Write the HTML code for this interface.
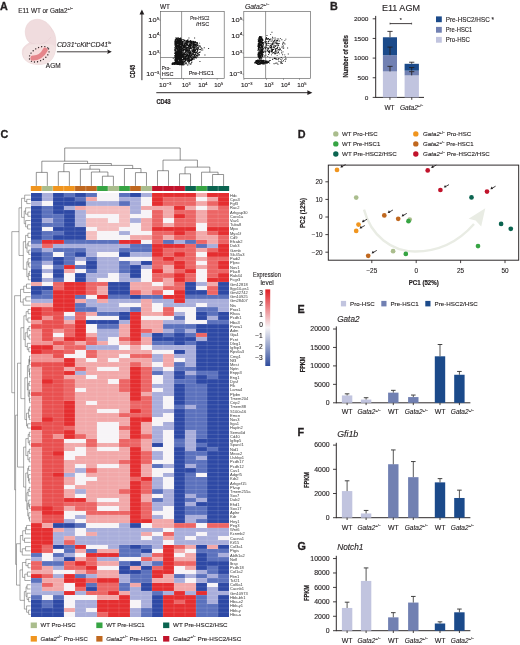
<!DOCTYPE html>
<html><head><meta charset="utf-8"><title>Figure</title>
<style>html,body{margin:0;padding:0;background:#fff;}body{width:520px;height:645px;overflow:hidden;font-family:"Liberation Sans",sans-serif;}svg{display:block;will-change:transform;filter:blur(0.3px);}</style>
</head><body>
<svg width="520" height="645" viewBox="0 0 520 645" font-family='"Liberation Sans", sans-serif'><text x="0.10" y="10.10" font-size="10.8" font-weight="bold" fill="#231f20" stroke="#231f20" stroke-width="0.3">A</text>
<text x="18.20" y="12.60" font-size="6.4" fill="#231f20" textLength="54.80" lengthAdjust="spacingAndGlyphs" stroke="#231f20" stroke-width="0.12">E11 WT or Gata2<tspan font-size="3.8" dy="-2.7">+/−</tspan></text>
<path d="M37.4,19.3 C41.5,19.2 45.5,21.5 48.7,25.3 C52.5,29 55,33 55.6,38 C56.2,43 56,48 55.2,51.5 C54.3,55.5 52.5,59 50,61.2 C47,63.6 42,64.8 37.4,64.5 C33,64.3 28,63 24.8,59.5 C22.2,56.5 21.6,51.5 23,48.5 C24.2,46 27,44.5 29.8,42.4 C27.6,41.4 26,38 25.4,34.2 C24.8,30 26,25.5 28.5,22.9 C30.8,20.5 34,19.3 37.4,19.3 Z" fill="#f0dcde" stroke="#ead2d4" stroke-width="0.6"/>
<path d="M29.8,42.4 C33,44.5 38,45 42,43.6 C46,42.2 49,40 51,37" fill="none" stroke="#e8cfd1" stroke-width="0.6"/>
<path d="M24.2,50 C25.5,46.8 28.5,45 31.5,44.6 C36,44 42,44.5 46.5,44 C50.5,43.6 53.5,44.5 55.3,47 C55.6,52 54,57 50.5,60.8 C47,63.6 42,64.6 37.4,64.4 C32.5,64.2 27.8,62.6 25,59.4 C23,57 22.8,52.8 24.2,50 Z" fill="#f3e3e3"/>
<path d="M44.5,21.2 C48.5,23 51.2,27 52.2,31.5" fill="none" stroke="#e8d0d2" stroke-width="0.5"/>
<ellipse cx="39.2" cy="54.3" rx="10.8" ry="6.4" transform="rotate(-30 39.2 54.3)" fill="#f7dcdc" stroke="#2e2224" stroke-width="1.35" stroke-dasharray="0.01 3.1" stroke-linecap="round"/>
<path d="M32.9,58.0 C37.5,58.2 42.5,55.4 45.2,50.2" fill="none" stroke="#e5858a" stroke-width="5.0" stroke-linecap="round"/>
<text x="45.80" y="68.30" font-size="6.6" fill="#231f20" textLength="14.80" lengthAdjust="spacingAndGlyphs" stroke="#231f20" stroke-width="0.12">AGM</text>
<text x="56.90" y="46.70" font-size="6.6" font-style="italic" fill="#231f20" textLength="54.40" lengthAdjust="spacingAndGlyphs" stroke="#231f20" stroke-width="0.12">CD31<tspan font-size="3.8" dy="-2.6">+</tspan><tspan dy="2.6">cKit</tspan><tspan font-size="3.8" dy="-2.6">+</tspan><tspan dy="2.6">CD41</tspan><tspan font-size="3.8" dy="-2.6">lo</tspan></text>
<line x1="56.90" y1="51.80" x2="108.50" y2="51.80" stroke="#231f20" stroke-width="0.85"/>
<path d="M111.8,51.8 L107.2,49.6 L108.0,51.8 L107.2,54.0 Z" fill="#231f20"/>
<line x1="141.90" y1="80.20" x2="141.90" y2="13.50" stroke="#231f20" stroke-width="0.95"/>
<path d="M141.9,9.6 L139.5,14.6 L144.3,14.6 Z" fill="#231f20"/>
<line x1="156.30" y1="92.70" x2="308.50" y2="92.70" stroke="#231f20" stroke-width="0.95"/>
<path d="M312.4,92.7 L307.4,90.3 L307.4,95.1 Z" fill="#231f20"/>
<text transform="translate(135.40,78.00) rotate(-90)" x="0" y="0" font-size="7.2" font-weight="bold" stroke="#231f20" stroke-width="0.22" fill="#231f20" textLength="13.20" lengthAdjust="spacingAndGlyphs">CD45</text>
<text x="156.40" y="103.50" font-size="7.2" font-weight="bold" fill="#231f20" textLength="14.30" lengthAdjust="spacingAndGlyphs" stroke="#231f20" stroke-width="0.22">CD43</text>
<rect x="160.5" y="11.5" width="63.70" height="66.90" fill="none" stroke="#5e5e5e" stroke-width="0.65"/>
<line x1="181.60" y1="11.50" x2="181.60" y2="78.40" stroke="#5e5e5e" stroke-width="0.65"/>
<line x1="160.50" y1="57.50" x2="224.20" y2="57.50" stroke="#5e5e5e" stroke-width="0.65"/>
<rect x="243.8" y="11.4" width="66.60" height="67.00" fill="none" stroke="#5e5e5e" stroke-width="0.65"/>
<line x1="265.60" y1="11.40" x2="265.60" y2="78.40" stroke="#5e5e5e" stroke-width="0.65"/>
<line x1="243.80" y1="57.40" x2="310.40" y2="57.40" stroke="#5e5e5e" stroke-width="0.65"/>
<text x="159.90" y="9.00" font-size="6.3" fill="#231f20" textLength="10.00" lengthAdjust="spacingAndGlyphs" stroke="#231f20" stroke-width="0.12">WT</text>
<text x="244.90" y="9.00" font-size="6.3" font-style="italic" fill="#231f20" textLength="24.30" lengthAdjust="spacingAndGlyphs" stroke="#231f20" stroke-width="0.12">Gata2<tspan font-size="3.6" dy="-2.6">+/−</tspan></text>
<text x="148.30" y="22.40" font-size="6.0" fill="#231f20" textLength="11.00" lengthAdjust="spacingAndGlyphs" stroke="#231f20" stroke-width="0.12">10<tspan font-size="3.8" dy="-2.5">5</tspan></text>
<line x1="159.20" y1="20.20" x2="160.50" y2="20.20" stroke="#5e5e5e" stroke-width="0.55"/>
<text x="148.30" y="37.50" font-size="6.0" fill="#231f20" textLength="11.00" lengthAdjust="spacingAndGlyphs" stroke="#231f20" stroke-width="0.12">10<tspan font-size="3.8" dy="-2.5">4</tspan></text>
<line x1="159.20" y1="35.30" x2="160.50" y2="35.30" stroke="#5e5e5e" stroke-width="0.55"/>
<text x="148.30" y="55.30" font-size="6.0" fill="#231f20" textLength="11.00" lengthAdjust="spacingAndGlyphs" stroke="#231f20" stroke-width="0.12">10<tspan font-size="3.8" dy="-2.5">3</tspan></text>
<line x1="159.20" y1="53.10" x2="160.50" y2="53.10" stroke="#5e5e5e" stroke-width="0.55"/>
<text x="146.30" y="76.40" font-size="6.0" fill="#231f20" textLength="13.00" lengthAdjust="spacingAndGlyphs" stroke="#231f20" stroke-width="0.12">10<tspan font-size="3.8" dy="-2.5">−3</tspan></text>
<line x1="159.20" y1="74.20" x2="160.50" y2="74.20" stroke="#5e5e5e" stroke-width="0.55"/>
<text x="231.30" y="22.40" font-size="6.0" fill="#231f20" textLength="11.00" lengthAdjust="spacingAndGlyphs" stroke="#231f20" stroke-width="0.12">10<tspan font-size="3.8" dy="-2.5">5</tspan></text>
<line x1="242.50" y1="20.20" x2="243.80" y2="20.20" stroke="#5e5e5e" stroke-width="0.55"/>
<text x="231.30" y="37.50" font-size="6.0" fill="#231f20" textLength="11.00" lengthAdjust="spacingAndGlyphs" stroke="#231f20" stroke-width="0.12">10<tspan font-size="3.8" dy="-2.5">4</tspan></text>
<line x1="242.50" y1="35.30" x2="243.80" y2="35.30" stroke="#5e5e5e" stroke-width="0.55"/>
<text x="231.30" y="55.30" font-size="6.0" fill="#231f20" textLength="11.00" lengthAdjust="spacingAndGlyphs" stroke="#231f20" stroke-width="0.12">10<tspan font-size="3.8" dy="-2.5">3</tspan></text>
<line x1="242.50" y1="53.10" x2="243.80" y2="53.10" stroke="#5e5e5e" stroke-width="0.55"/>
<text x="229.30" y="76.40" font-size="6.0" fill="#231f20" textLength="13.00" lengthAdjust="spacingAndGlyphs" stroke="#231f20" stroke-width="0.12">10<tspan font-size="3.8" dy="-2.5">−3</tspan></text>
<line x1="242.50" y1="74.20" x2="243.80" y2="74.20" stroke="#5e5e5e" stroke-width="0.55"/>
<text x="159.10" y="87.40" font-size="6.0" fill="#231f20" textLength="12.30" lengthAdjust="spacingAndGlyphs" stroke="#231f20" stroke-width="0.12">10<tspan font-size="3.8" dy="-2.5">−3</tspan></text>
<text x="181.90" y="87.40" font-size="6.0" fill="#231f20" textLength="8.60" lengthAdjust="spacingAndGlyphs" stroke="#231f20" stroke-width="0.12">10<tspan font-size="3.8" dy="-2.5">3</tspan></text>
<text x="198.20" y="87.40" font-size="6.0" fill="#231f20" textLength="9.20" lengthAdjust="spacingAndGlyphs" stroke="#231f20" stroke-width="0.12">10<tspan font-size="3.8" dy="-2.5">4</tspan></text>
<text x="214.20" y="87.40" font-size="6.0" fill="#231f20" textLength="8.80" lengthAdjust="spacingAndGlyphs" stroke="#231f20" stroke-width="0.12">10<tspan font-size="3.8" dy="-2.5">5</tspan></text>
<line x1="162.40" y1="78.40" x2="162.40" y2="79.90" stroke="#5e5e5e" stroke-width="0.55"/>
<line x1="183.50" y1="78.40" x2="183.50" y2="79.90" stroke="#5e5e5e" stroke-width="0.55"/>
<line x1="201.40" y1="78.40" x2="201.40" y2="79.90" stroke="#5e5e5e" stroke-width="0.55"/>
<line x1="217.20" y1="78.40" x2="217.20" y2="79.90" stroke="#5e5e5e" stroke-width="0.55"/>
<text x="241.00" y="87.30" font-size="6.0" fill="#231f20" textLength="11.60" lengthAdjust="spacingAndGlyphs" stroke="#231f20" stroke-width="0.12">10<tspan font-size="3.8" dy="-2.5">−3</tspan></text>
<text x="264.20" y="87.30" font-size="6.0" fill="#231f20" textLength="9.40" lengthAdjust="spacingAndGlyphs" stroke="#231f20" stroke-width="0.12">10<tspan font-size="3.8" dy="-2.5">3</tspan></text>
<text x="281.00" y="87.30" font-size="6.0" fill="#231f20" textLength="8.80" lengthAdjust="spacingAndGlyphs" stroke="#231f20" stroke-width="0.12">10<tspan font-size="3.8" dy="-2.5">4</tspan></text>
<text x="297.20" y="87.30" font-size="6.0" fill="#231f20" textLength="9.20" lengthAdjust="spacingAndGlyphs" stroke="#231f20" stroke-width="0.12">10<tspan font-size="3.8" dy="-2.5">5</tspan></text>
<line x1="243.90" y1="78.40" x2="243.90" y2="79.90" stroke="#5e5e5e" stroke-width="0.55"/>
<line x1="266.50" y1="78.40" x2="266.50" y2="79.90" stroke="#5e5e5e" stroke-width="0.55"/>
<line x1="283.50" y1="78.40" x2="283.50" y2="79.90" stroke="#5e5e5e" stroke-width="0.55"/>
<line x1="299.50" y1="78.40" x2="299.50" y2="79.90" stroke="#5e5e5e" stroke-width="0.55"/>
<text x="190.20" y="19.50" font-size="5.5" fill="#231f20" textLength="19.20" lengthAdjust="spacingAndGlyphs" stroke="#231f20" stroke-width="0.12">Pre-HSC2</text>
<text x="196.10" y="25.60" font-size="5.5" fill="#231f20" textLength="13.10" lengthAdjust="spacingAndGlyphs" stroke="#231f20" stroke-width="0.12">/HSC</text>
<text x="161.80" y="70.20" font-size="5.5" fill="#231f20" textLength="8.70" lengthAdjust="spacingAndGlyphs" stroke="#231f20" stroke-width="0.12">Pro-</text>
<text x="161.80" y="76.40" font-size="5.5" fill="#231f20" textLength="11.80" lengthAdjust="spacingAndGlyphs" stroke="#231f20" stroke-width="0.12">HSC</text>
<text x="188.70" y="74.50" font-size="5.5" fill="#231f20" textLength="25.10" lengthAdjust="spacingAndGlyphs" stroke="#231f20" stroke-width="0.12">Pre-HSC1</text>
<path d="M175.2,49.5h0.9v0.9h-0.9zM175.3,60.2h0.9v0.9h-0.9zM181.4,52.5h0.9v0.9h-0.9zM179.2,43.9h0.9v0.9h-0.9zM179.3,49.8h0.9v0.9h-0.9zM181.7,42.1h0.9v0.9h-0.9zM176.9,51.8h0.9v0.9h-0.9zM180.8,40.2h0.9v0.9h-0.9zM174.8,59.4h0.9v0.9h-0.9zM179.3,42.1h0.9v0.9h-0.9zM174.5,42.0h0.9v0.9h-0.9zM181.1,54.4h0.9v0.9h-0.9zM178.7,44.7h0.9v0.9h-0.9zM177.7,40.2h0.9v0.9h-0.9zM174.7,52.0h0.9v0.9h-0.9zM180.3,41.8h0.9v0.9h-0.9zM176.4,55.2h0.9v0.9h-0.9zM175.9,44.9h0.9v0.9h-0.9zM181.4,45.5h0.9v0.9h-0.9zM179.9,38.0h0.9v0.9h-0.9zM176.1,58.1h0.9v0.9h-0.9zM179.2,54.3h0.9v0.9h-0.9zM175.3,52.7h0.9v0.9h-0.9zM180.2,59.4h0.9v0.9h-0.9zM176.9,41.1h0.9v0.9h-0.9zM176.1,45.9h0.9v0.9h-0.9zM179.0,41.0h0.9v0.9h-0.9zM178.8,42.8h0.9v0.9h-0.9zM178.4,52.9h0.9v0.9h-0.9zM176.9,40.3h0.9v0.9h-0.9zM181.1,39.9h0.9v0.9h-0.9zM181.5,59.7h0.9v0.9h-0.9zM180.3,54.1h0.9v0.9h-0.9zM174.6,57.0h0.9v0.9h-0.9zM180.0,43.7h0.9v0.9h-0.9zM175.2,46.8h0.9v0.9h-0.9zM178.8,52.1h0.9v0.9h-0.9zM176.9,55.4h0.9v0.9h-0.9zM177.4,50.8h0.9v0.9h-0.9zM178.4,37.7h0.9v0.9h-0.9zM180.2,52.9h0.9v0.9h-0.9zM176.5,53.1h0.9v0.9h-0.9zM177.1,40.8h0.9v0.9h-0.9zM179.9,51.0h0.9v0.9h-0.9zM178.5,38.6h0.9v0.9h-0.9zM179.6,57.1h0.9v0.9h-0.9zM175.0,58.9h0.9v0.9h-0.9zM178.9,48.4h0.9v0.9h-0.9zM175.2,52.4h0.9v0.9h-0.9zM178.0,40.4h0.9v0.9h-0.9zM175.5,37.3h0.9v0.9h-0.9zM178.3,40.0h0.9v0.9h-0.9zM179.6,50.5h0.9v0.9h-0.9zM180.8,56.2h0.9v0.9h-0.9zM177.0,49.7h0.9v0.9h-0.9zM175.9,46.6h0.9v0.9h-0.9zM180.8,59.9h0.9v0.9h-0.9zM181.3,47.2h0.9v0.9h-0.9zM175.4,51.4h0.9v0.9h-0.9zM180.3,59.9h0.9v0.9h-0.9zM181.1,58.8h0.9v0.9h-0.9zM179.3,46.3h0.9v0.9h-0.9zM179.7,45.1h0.9v0.9h-0.9zM175.4,60.4h0.9v0.9h-0.9zM175.5,51.9h0.9v0.9h-0.9zM174.4,46.8h0.9v0.9h-0.9zM181.0,59.8h0.9v0.9h-0.9zM177.8,50.1h0.9v0.9h-0.9zM174.5,57.0h0.9v0.9h-0.9zM177.7,54.9h0.9v0.9h-0.9zM179.2,41.1h0.9v0.9h-0.9zM178.2,58.6h0.9v0.9h-0.9zM175.9,38.7h0.9v0.9h-0.9zM176.8,51.1h0.9v0.9h-0.9zM175.6,51.5h0.9v0.9h-0.9zM176.6,46.7h0.9v0.9h-0.9zM178.9,55.7h0.9v0.9h-0.9zM179.2,48.1h0.9v0.9h-0.9zM179.9,60.6h0.9v0.9h-0.9zM177.3,54.2h0.9v0.9h-0.9zM180.0,38.8h0.9v0.9h-0.9zM176.1,55.1h0.9v0.9h-0.9zM176.4,57.7h0.9v0.9h-0.9zM178.6,44.7h0.9v0.9h-0.9zM177.2,37.6h0.9v0.9h-0.9zM176.3,43.8h0.9v0.9h-0.9zM176.4,46.4h0.9v0.9h-0.9zM178.9,41.5h0.9v0.9h-0.9zM179.6,59.4h0.9v0.9h-0.9zM175.2,59.3h0.9v0.9h-0.9zM179.4,46.6h0.9v0.9h-0.9zM177.9,54.7h0.9v0.9h-0.9zM177.1,46.3h0.9v0.9h-0.9zM180.3,39.3h0.9v0.9h-0.9zM180.3,58.9h0.9v0.9h-0.9zM179.0,40.8h0.9v0.9h-0.9zM181.5,41.7h0.9v0.9h-0.9zM179.1,52.2h0.9v0.9h-0.9zM178.0,46.3h0.9v0.9h-0.9zM177.8,43.5h0.9v0.9h-0.9zM176.6,58.7h0.9v0.9h-0.9zM175.4,60.5h0.9v0.9h-0.9zM179.6,55.1h0.9v0.9h-0.9zM177.8,59.6h0.9v0.9h-0.9zM181.7,59.5h0.9v0.9h-0.9zM175.5,42.7h0.9v0.9h-0.9zM176.9,52.7h0.9v0.9h-0.9zM180.3,46.6h0.9v0.9h-0.9zM176.4,42.6h0.9v0.9h-0.9zM178.6,45.3h0.9v0.9h-0.9zM180.8,52.8h0.9v0.9h-0.9zM175.9,60.0h0.9v0.9h-0.9zM179.4,56.9h0.9v0.9h-0.9zM174.5,44.2h0.9v0.9h-0.9zM178.6,56.7h0.9v0.9h-0.9zM181.7,48.2h0.9v0.9h-0.9zM178.7,54.3h0.9v0.9h-0.9zM179.1,60.0h0.9v0.9h-0.9zM178.1,57.3h0.9v0.9h-0.9zM177.5,58.9h0.9v0.9h-0.9zM180.6,54.8h0.9v0.9h-0.9zM174.9,39.5h0.9v0.9h-0.9zM179.4,44.7h0.9v0.9h-0.9zM177.9,48.7h0.9v0.9h-0.9zM180.9,44.2h0.9v0.9h-0.9zM181.3,41.0h0.9v0.9h-0.9zM176.8,58.1h0.9v0.9h-0.9zM176.0,41.5h0.9v0.9h-0.9zM181.5,55.8h0.9v0.9h-0.9zM178.4,40.6h0.9v0.9h-0.9zM176.6,49.5h0.9v0.9h-0.9zM176.2,51.9h0.9v0.9h-0.9zM180.4,60.5h0.9v0.9h-0.9zM178.7,39.0h0.9v0.9h-0.9zM175.7,56.7h0.9v0.9h-0.9zM178.5,48.1h0.9v0.9h-0.9zM176.5,45.6h0.9v0.9h-0.9zM177.6,52.2h0.9v0.9h-0.9zM174.8,41.8h0.9v0.9h-0.9zM174.8,42.2h0.9v0.9h-0.9zM179.1,46.1h0.9v0.9h-0.9zM176.2,41.3h0.9v0.9h-0.9zM179.6,42.1h0.9v0.9h-0.9zM177.5,46.1h0.9v0.9h-0.9zM176.1,54.1h0.9v0.9h-0.9zM181.1,39.8h0.9v0.9h-0.9zM180.0,54.4h0.9v0.9h-0.9zM176.5,46.0h0.9v0.9h-0.9zM180.7,54.9h0.9v0.9h-0.9zM177.4,41.4h0.9v0.9h-0.9zM180.1,60.3h0.9v0.9h-0.9zM175.2,50.4h0.9v0.9h-0.9zM178.3,45.7h0.9v0.9h-0.9zM177.9,47.2h0.9v0.9h-0.9zM180.6,61.3h0.9v0.9h-0.9zM180.8,42.5h0.9v0.9h-0.9zM176.5,60.9h0.9v0.9h-0.9zM179.6,42.3h0.9v0.9h-0.9zM179.0,43.8h0.9v0.9h-0.9zM180.6,37.8h0.9v0.9h-0.9zM177.6,45.8h0.9v0.9h-0.9zM178.6,52.1h0.9v0.9h-0.9zM178.0,55.7h0.9v0.9h-0.9zM177.5,43.6h0.9v0.9h-0.9zM180.3,42.5h0.9v0.9h-0.9zM176.1,57.3h0.9v0.9h-0.9zM177.1,38.9h0.9v0.9h-0.9zM174.4,44.5h0.9v0.9h-0.9zM178.3,57.1h0.9v0.9h-0.9zM181.1,55.7h0.9v0.9h-0.9zM178.6,46.8h0.9v0.9h-0.9zM174.5,41.3h0.9v0.9h-0.9zM178.6,51.8h0.9v0.9h-0.9zM177.2,39.0h0.9v0.9h-0.9zM174.7,39.6h0.9v0.9h-0.9zM176.3,55.5h0.9v0.9h-0.9zM177.8,38.9h0.9v0.9h-0.9zM178.5,51.5h0.9v0.9h-0.9zM176.3,50.7h0.9v0.9h-0.9zM178.6,49.8h0.9v0.9h-0.9zM176.8,53.0h0.9v0.9h-0.9zM177.6,42.3h0.9v0.9h-0.9zM175.2,44.4h0.9v0.9h-0.9zM174.8,42.7h0.9v0.9h-0.9zM174.5,60.7h0.9v0.9h-0.9zM175.9,51.9h0.9v0.9h-0.9zM177.8,51.7h0.9v0.9h-0.9zM176.2,39.3h0.9v0.9h-0.9zM178.8,47.4h0.9v0.9h-0.9zM178.7,39.7h0.9v0.9h-0.9zM178.9,41.0h0.9v0.9h-0.9zM174.9,54.0h0.9v0.9h-0.9zM177.2,40.1h0.9v0.9h-0.9zM180.8,57.0h0.9v0.9h-0.9zM177.3,56.7h0.9v0.9h-0.9zM174.3,53.2h0.9v0.9h-0.9zM179.0,48.1h0.9v0.9h-0.9zM178.2,43.2h0.9v0.9h-0.9zM177.8,43.3h0.9v0.9h-0.9zM180.8,53.9h0.9v0.9h-0.9zM179.4,47.7h0.9v0.9h-0.9zM179.0,61.2h0.9v0.9h-0.9zM181.4,57.1h0.9v0.9h-0.9zM181.1,44.5h0.9v0.9h-0.9zM176.7,38.1h0.9v0.9h-0.9zM174.4,50.6h0.9v0.9h-0.9zM175.2,42.2h0.9v0.9h-0.9zM180.3,55.8h0.9v0.9h-0.9zM178.3,45.6h0.9v0.9h-0.9zM177.3,53.3h0.9v0.9h-0.9zM175.0,45.9h0.9v0.9h-0.9zM179.4,40.1h0.9v0.9h-0.9zM178.1,42.7h0.9v0.9h-0.9zM176.8,51.3h0.9v0.9h-0.9zM177.4,60.6h0.9v0.9h-0.9zM177.9,57.8h0.9v0.9h-0.9zM176.5,55.4h0.9v0.9h-0.9zM181.3,58.1h0.9v0.9h-0.9zM181.3,42.4h0.9v0.9h-0.9zM179.7,54.2h0.9v0.9h-0.9zM178.6,41.9h0.9v0.9h-0.9zM177.9,54.0h0.9v0.9h-0.9zM179.7,39.2h0.9v0.9h-0.9zM174.8,40.0h0.9v0.9h-0.9zM176.7,42.1h0.9v0.9h-0.9zM180.8,43.1h0.9v0.9h-0.9zM180.7,53.2h0.9v0.9h-0.9zM179.9,45.9h0.9v0.9h-0.9zM181.6,59.5h0.9v0.9h-0.9zM178.2,57.6h0.9v0.9h-0.9zM181.7,44.6h0.9v0.9h-0.9zM181.8,41.6h0.9v0.9h-0.9zM177.2,43.4h0.9v0.9h-0.9zM177.2,49.6h0.9v0.9h-0.9zM178.5,46.6h0.9v0.9h-0.9zM174.5,59.7h0.9v0.9h-0.9zM177.1,45.6h0.9v0.9h-0.9zM176.4,40.3h0.9v0.9h-0.9zM177.5,46.0h0.9v0.9h-0.9zM178.1,57.4h0.9v0.9h-0.9zM178.6,42.9h0.9v0.9h-0.9zM176.2,58.0h0.9v0.9h-0.9zM176.9,55.1h0.9v0.9h-0.9zM179.7,42.9h0.9v0.9h-0.9zM177.3,42.9h0.9v0.9h-0.9zM174.6,47.9h0.9v0.9h-0.9zM174.7,42.0h0.9v0.9h-0.9zM176.2,46.9h0.9v0.9h-0.9zM178.8,52.4h0.9v0.9h-0.9zM178.6,42.4h0.9v0.9h-0.9zM180.8,44.0h0.9v0.9h-0.9zM180.0,58.3h0.9v0.9h-0.9zM177.8,50.9h0.9v0.9h-0.9zM176.2,56.2h0.9v0.9h-0.9zM181.4,43.3h0.9v0.9h-0.9zM179.2,49.2h0.9v0.9h-0.9zM181.4,41.5h0.9v0.9h-0.9zM175.3,56.1h0.9v0.9h-0.9zM174.8,45.1h0.9v0.9h-0.9zM177.7,53.0h0.9v0.9h-0.9zM175.1,54.8h0.9v0.9h-0.9zM177.4,40.9h0.9v0.9h-0.9zM177.2,57.1h0.9v0.9h-0.9zM179.2,40.5h0.9v0.9h-0.9zM180.7,53.2h0.9v0.9h-0.9zM181.6,55.5h0.9v0.9h-0.9zM174.5,60.1h0.9v0.9h-0.9zM175.2,52.9h0.9v0.9h-0.9zM176.5,55.6h0.9v0.9h-0.9zM177.4,52.6h0.9v0.9h-0.9zM178.9,38.6h0.9v0.9h-0.9zM176.4,59.2h0.9v0.9h-0.9zM176.6,45.5h0.9v0.9h-0.9zM175.1,46.8h0.9v0.9h-0.9zM180.7,39.3h0.9v0.9h-0.9zM176.4,55.7h0.9v0.9h-0.9zM178.3,44.8h0.9v0.9h-0.9zM175.4,54.2h0.9v0.9h-0.9zM178.7,42.2h0.9v0.9h-0.9zM179.4,53.2h0.9v0.9h-0.9zM180.5,45.9h0.9v0.9h-0.9zM177.6,54.8h0.9v0.9h-0.9zM177.6,55.5h0.9v0.9h-0.9zM177.3,45.7h0.9v0.9h-0.9zM177.4,54.5h0.9v0.9h-0.9zM179.9,53.2h0.9v0.9h-0.9zM181.2,56.8h0.9v0.9h-0.9zM179.8,58.7h0.9v0.9h-0.9zM178.3,43.1h0.9v0.9h-0.9zM180.5,52.9h0.9v0.9h-0.9zM177.7,40.0h0.9v0.9h-0.9zM178.6,44.5h0.9v0.9h-0.9zM175.6,60.3h0.9v0.9h-0.9zM178.3,43.3h0.9v0.9h-0.9zM181.7,41.2h0.9v0.9h-0.9zM176.2,46.5h0.9v0.9h-0.9zM176.1,47.4h0.9v0.9h-0.9zM174.7,52.8h0.9v0.9h-0.9zM175.6,59.2h0.9v0.9h-0.9zM179.2,41.1h0.9v0.9h-0.9zM175.2,56.8h0.9v0.9h-0.9zM176.2,47.1h0.9v0.9h-0.9zM174.6,40.6h0.9v0.9h-0.9zM180.0,48.8h0.9v0.9h-0.9zM175.9,42.0h0.9v0.9h-0.9zM175.1,53.0h0.9v0.9h-0.9zM181.6,60.7h0.9v0.9h-0.9zM177.7,53.8h0.9v0.9h-0.9zM177.5,40.7h0.9v0.9h-0.9zM177.6,56.0h0.9v0.9h-0.9zM177.1,52.9h0.9v0.9h-0.9zM176.1,44.0h0.9v0.9h-0.9zM181.3,47.7h0.9v0.9h-0.9zM180.2,56.3h0.9v0.9h-0.9zM176.5,61.0h0.9v0.9h-0.9zM177.4,45.4h0.9v0.9h-0.9zM180.7,57.2h0.9v0.9h-0.9zM177.5,38.9h0.9v0.9h-0.9zM177.2,40.8h0.9v0.9h-0.9zM176.4,58.8h0.9v0.9h-0.9zM176.1,48.1h0.9v0.9h-0.9zM175.7,51.7h0.9v0.9h-0.9zM176.6,43.4h0.9v0.9h-0.9zM174.4,43.2h0.9v0.9h-0.9zM179.1,44.4h0.9v0.9h-0.9zM177.5,48.2h0.9v0.9h-0.9zM178.7,45.0h0.9v0.9h-0.9zM176.5,60.0h0.9v0.9h-0.9zM176.2,38.9h0.9v0.9h-0.9zM176.3,41.2h0.9v0.9h-0.9zM181.3,51.5h0.9v0.9h-0.9zM176.4,53.3h0.9v0.9h-0.9zM180.5,42.5h0.9v0.9h-0.9zM177.7,41.3h0.9v0.9h-0.9zM181.0,48.8h0.9v0.9h-0.9zM181.3,59.9h0.9v0.9h-0.9zM176.4,39.9h0.9v0.9h-0.9zM177.8,52.5h0.9v0.9h-0.9zM175.8,58.6h0.9v0.9h-0.9zM177.7,58.2h0.9v0.9h-0.9zM180.5,53.5h0.9v0.9h-0.9zM175.8,52.6h0.9v0.9h-0.9zM178.7,53.4h0.9v0.9h-0.9zM176.7,55.4h0.9v0.9h-0.9zM179.5,59.6h0.9v0.9h-0.9zM179.3,46.3h0.9v0.9h-0.9zM180.6,56.9h0.9v0.9h-0.9zM179.5,52.4h0.9v0.9h-0.9zM178.0,57.0h0.9v0.9h-0.9zM174.4,56.9h0.9v0.9h-0.9zM179.2,58.3h0.9v0.9h-0.9zM178.8,46.7h0.9v0.9h-0.9zM179.2,57.6h0.9v0.9h-0.9zM175.4,54.7h0.9v0.9h-0.9zM174.2,46.9h0.9v0.9h-0.9zM178.5,43.3h0.9v0.9h-0.9zM178.7,46.4h0.9v0.9h-0.9zM174.6,59.9h0.9v0.9h-0.9zM177.6,39.6h0.9v0.9h-0.9zM180.5,51.3h0.9v0.9h-0.9zM177.7,41.3h0.9v0.9h-0.9zM179.2,50.6h0.9v0.9h-0.9zM178.8,48.3h0.9v0.9h-0.9zM177.6,53.9h0.9v0.9h-0.9zM180.3,40.4h0.9v0.9h-0.9zM175.1,44.5h0.9v0.9h-0.9zM180.4,56.1h0.9v0.9h-0.9zM181.1,45.0h0.9v0.9h-0.9zM174.2,52.8h0.9v0.9h-0.9zM174.8,40.3h0.9v0.9h-0.9zM180.4,38.5h0.9v0.9h-0.9zM177.2,50.2h0.9v0.9h-0.9zM180.2,49.9h0.9v0.9h-0.9zM179.6,41.1h0.9v0.9h-0.9zM176.8,42.9h0.9v0.9h-0.9zM176.4,45.6h0.9v0.9h-0.9zM175.7,46.3h0.9v0.9h-0.9zM177.8,49.7h0.9v0.9h-0.9zM179.4,54.0h0.9v0.9h-0.9zM177.6,41.1h0.9v0.9h-0.9zM174.9,59.2h0.9v0.9h-0.9zM181.5,53.5h0.9v0.9h-0.9zM179.6,47.4h0.9v0.9h-0.9zM175.5,54.9h0.9v0.9h-0.9zM178.5,56.2h0.9v0.9h-0.9zM174.7,43.8h0.9v0.9h-0.9zM176.6,57.6h0.9v0.9h-0.9zM176.1,38.2h0.9v0.9h-0.9zM177.3,45.3h0.9v0.9h-0.9zM175.2,44.1h0.9v0.9h-0.9zM178.1,45.3h0.9v0.9h-0.9zM177.7,37.2h0.9v0.9h-0.9zM179.1,53.8h0.9v0.9h-0.9zM176.8,48.2h0.9v0.9h-0.9zM174.9,59.5h0.9v0.9h-0.9zM181.2,41.1h0.9v0.9h-0.9zM177.5,61.6h0.9v0.9h-0.9zM180.6,59.0h0.9v0.9h-0.9zM180.8,47.5h0.9v0.9h-0.9zM175.7,57.4h0.9v0.9h-0.9zM174.3,55.1h0.9v0.9h-0.9zM175.5,59.5h0.9v0.9h-0.9zM178.8,48.3h0.9v0.9h-0.9zM181.3,40.1h0.9v0.9h-0.9zM180.9,54.1h0.9v0.9h-0.9zM178.2,50.7h0.9v0.9h-0.9zM180.7,50.1h0.9v0.9h-0.9zM176.5,45.4h0.9v0.9h-0.9zM178.7,57.8h0.9v0.9h-0.9zM178.2,57.5h0.9v0.9h-0.9zM179.3,48.2h0.9v0.9h-0.9zM178.5,39.9h0.9v0.9h-0.9zM175.7,44.4h0.9v0.9h-0.9zM177.5,46.6h0.9v0.9h-0.9zM177.4,60.4h0.9v0.9h-0.9zM180.7,49.3h0.9v0.9h-0.9zM175.1,55.4h0.9v0.9h-0.9zM176.7,49.0h0.9v0.9h-0.9zM175.5,44.2h0.9v0.9h-0.9zM176.4,40.6h0.9v0.9h-0.9zM178.9,48.4h0.9v0.9h-0.9zM178.5,45.6h0.9v0.9h-0.9zM180.0,59.0h0.9v0.9h-0.9zM178.6,57.1h0.9v0.9h-0.9zM175.5,50.2h0.9v0.9h-0.9zM177.3,43.5h0.9v0.9h-0.9zM177.0,48.7h0.9v0.9h-0.9zM178.5,54.0h0.9v0.9h-0.9zM177.7,51.3h0.9v0.9h-0.9zM176.1,42.3h0.9v0.9h-0.9zM178.5,57.6h0.9v0.9h-0.9zM178.0,38.2h0.9v0.9h-0.9zM177.2,59.6h0.9v0.9h-0.9zM176.8,46.4h0.9v0.9h-0.9zM181.1,43.3h0.9v0.9h-0.9zM175.2,38.9h0.9v0.9h-0.9zM176.9,55.8h0.9v0.9h-0.9zM178.3,52.1h0.9v0.9h-0.9zM174.5,42.4h0.9v0.9h-0.9zM179.2,54.8h0.9v0.9h-0.9zM178.4,44.4h0.9v0.9h-0.9zM179.4,40.4h0.9v0.9h-0.9zM175.6,53.7h0.9v0.9h-0.9zM179.4,43.4h0.9v0.9h-0.9zM181.1,60.4h0.9v0.9h-0.9zM174.8,52.9h0.9v0.9h-0.9zM178.5,42.3h0.9v0.9h-0.9zM179.0,57.1h0.9v0.9h-0.9zM174.4,60.0h0.9v0.9h-0.9zM181.7,39.2h0.9v0.9h-0.9zM179.5,57.9h0.9v0.9h-0.9zM181.0,48.9h0.9v0.9h-0.9zM175.1,39.6h0.9v0.9h-0.9zM177.6,39.5h0.9v0.9h-0.9zM177.6,53.0h0.9v0.9h-0.9zM180.2,55.2h0.9v0.9h-0.9zM174.9,55.5h0.9v0.9h-0.9zM178.1,51.3h0.9v0.9h-0.9zM181.2,45.0h0.9v0.9h-0.9zM178.5,54.5h0.9v0.9h-0.9zM177.0,53.4h0.9v0.9h-0.9zM175.9,38.6h0.9v0.9h-0.9zM176.3,56.7h0.9v0.9h-0.9zM178.8,56.0h0.9v0.9h-0.9zM176.2,37.7h0.9v0.9h-0.9zM178.9,52.7h0.9v0.9h-0.9zM174.5,49.9h0.9v0.9h-0.9zM174.3,56.3h0.9v0.9h-0.9zM175.7,43.6h0.9v0.9h-0.9zM177.3,49.5h0.9v0.9h-0.9zM179.1,42.6h0.9v0.9h-0.9zM175.6,38.5h0.9v0.9h-0.9zM177.7,56.6h0.9v0.9h-0.9zM177.7,50.6h0.9v0.9h-0.9zM176.5,41.1h0.9v0.9h-0.9zM175.6,44.5h0.9v0.9h-0.9zM175.2,53.6h0.9v0.9h-0.9zM177.2,39.9h0.9v0.9h-0.9zM177.4,47.9h0.9v0.9h-0.9zM177.2,40.3h0.9v0.9h-0.9zM174.5,42.8h0.9v0.9h-0.9zM174.9,52.5h0.9v0.9h-0.9zM174.7,40.7h0.9v0.9h-0.9zM175.2,41.2h0.9v0.9h-0.9zM179.5,40.5h0.9v0.9h-0.9zM176.9,42.8h0.9v0.9h-0.9zM178.4,47.4h0.9v0.9h-0.9zM177.7,40.8h0.9v0.9h-0.9zM181.1,59.9h0.9v0.9h-0.9zM175.9,40.5h0.9v0.9h-0.9zM181.7,45.5h0.9v0.9h-0.9zM180.9,50.2h0.9v0.9h-0.9zM179.6,56.1h0.9v0.9h-0.9zM180.1,53.9h0.9v0.9h-0.9zM175.7,40.8h0.9v0.9h-0.9zM181.4,57.6h0.9v0.9h-0.9zM177.1,44.7h0.9v0.9h-0.9zM177.2,58.7h0.9v0.9h-0.9zM177.5,56.5h0.9v0.9h-0.9zM174.9,48.9h0.9v0.9h-0.9zM180.9,52.0h0.9v0.9h-0.9zM179.3,59.2h0.9v0.9h-0.9zM177.7,48.7h0.9v0.9h-0.9zM179.6,45.3h0.9v0.9h-0.9zM178.2,57.3h0.9v0.9h-0.9zM180.6,51.0h0.9v0.9h-0.9zM178.1,52.7h0.9v0.9h-0.9zM178.4,43.9h0.9v0.9h-0.9zM180.1,44.4h0.9v0.9h-0.9zM176.3,45.2h0.9v0.9h-0.9zM177.6,45.7h0.9v0.9h-0.9zM177.5,51.2h0.9v0.9h-0.9zM179.8,58.7h0.9v0.9h-0.9zM181.5,60.5h0.9v0.9h-0.9zM179.1,50.3h0.9v0.9h-0.9zM181.7,45.7h0.9v0.9h-0.9zM177.8,54.0h0.9v0.9h-0.9zM179.2,55.8h0.9v0.9h-0.9zM181.5,44.0h0.9v0.9h-0.9zM174.8,56.7h0.9v0.9h-0.9zM181.2,54.5h0.9v0.9h-0.9zM178.1,54.1h0.9v0.9h-0.9zM180.1,57.4h0.9v0.9h-0.9zM174.8,48.6h0.9v0.9h-0.9zM181.2,44.3h0.9v0.9h-0.9zM180.6,61.2h0.9v0.9h-0.9zM180.2,47.6h0.9v0.9h-0.9zM174.8,56.4h0.9v0.9h-0.9zM180.1,37.6h0.9v0.9h-0.9zM177.6,41.4h0.9v0.9h-0.9zM181.1,50.6h0.9v0.9h-0.9zM179.3,57.2h0.9v0.9h-0.9zM174.9,48.3h0.9v0.9h-0.9zM181.4,49.9h0.9v0.9h-0.9zM178.2,55.6h0.9v0.9h-0.9zM177.7,58.9h0.9v0.9h-0.9zM174.2,49.3h0.9v0.9h-0.9zM176.5,51.3h0.9v0.9h-0.9zM177.2,42.4h0.9v0.9h-0.9zM176.8,40.1h0.9v0.9h-0.9zM178.1,44.7h0.9v0.9h-0.9zM180.2,41.0h0.9v0.9h-0.9zM177.3,41.7h0.9v0.9h-0.9zM175.1,43.1h0.9v0.9h-0.9zM181.4,50.9h0.9v0.9h-0.9zM174.7,43.7h0.9v0.9h-0.9zM177.8,43.7h0.9v0.9h-0.9zM178.8,57.5h0.9v0.9h-0.9zM181.4,41.0h0.9v0.9h-0.9zM178.6,42.7h0.9v0.9h-0.9zM177.8,60.7h0.9v0.9h-0.9zM180.2,53.6h0.9v0.9h-0.9zM178.8,51.9h0.9v0.9h-0.9zM176.7,47.6h0.9v0.9h-0.9zM180.6,46.9h0.9v0.9h-0.9zM179.1,57.1h0.9v0.9h-0.9zM175.3,58.0h0.9v0.9h-0.9zM176.4,41.3h0.9v0.9h-0.9zM180.4,42.1h0.9v0.9h-0.9zM179.5,38.2h0.9v0.9h-0.9zM180.1,38.4h0.9v0.9h-0.9zM178.1,39.9h0.9v0.9h-0.9zM177.4,55.5h0.9v0.9h-0.9zM178.3,43.1h0.9v0.9h-0.9zM176.3,52.9h0.9v0.9h-0.9zM176.9,42.7h0.9v0.9h-0.9zM177.8,40.4h0.9v0.9h-0.9zM179.4,39.5h0.9v0.9h-0.9zM181.0,43.2h0.9v0.9h-0.9zM179.7,55.0h0.9v0.9h-0.9zM178.7,38.8h0.9v0.9h-0.9zM179.0,59.4h0.9v0.9h-0.9zM181.1,45.2h0.9v0.9h-0.9zM175.7,54.6h0.9v0.9h-0.9zM175.6,47.8h0.9v0.9h-0.9zM177.6,46.8h0.9v0.9h-0.9zM179.0,38.1h0.9v0.9h-0.9zM181.1,49.2h0.9v0.9h-0.9zM180.2,43.7h0.9v0.9h-0.9zM180.2,46.7h0.9v0.9h-0.9zM176.1,38.1h0.9v0.9h-0.9zM178.6,43.5h0.9v0.9h-0.9zM174.4,43.0h0.9v0.9h-0.9zM176.6,38.4h0.9v0.9h-0.9zM175.2,55.2h0.9v0.9h-0.9zM178.6,49.6h0.9v0.9h-0.9zM176.8,39.3h0.9v0.9h-0.9zM176.1,40.9h0.9v0.9h-0.9zM179.6,40.1h0.9v0.9h-0.9zM175.1,58.0h0.9v0.9h-0.9zM177.1,38.8h0.9v0.9h-0.9zM179.0,49.3h0.9v0.9h-0.9zM178.1,42.4h0.9v0.9h-0.9zM175.6,60.3h0.9v0.9h-0.9zM176.0,52.5h0.9v0.9h-0.9zM179.2,53.7h0.9v0.9h-0.9zM176.4,49.1h0.9v0.9h-0.9zM178.4,49.6h0.9v0.9h-0.9zM176.9,57.0h0.9v0.9h-0.9zM175.0,58.2h0.9v0.9h-0.9zM177.0,40.2h0.9v0.9h-0.9zM181.0,52.1h0.9v0.9h-0.9zM179.3,47.6h0.9v0.9h-0.9zM174.9,42.9h0.9v0.9h-0.9zM180.3,54.0h0.9v0.9h-0.9zM179.6,40.2h0.9v0.9h-0.9zM175.4,54.4h0.9v0.9h-0.9zM180.1,60.4h0.9v0.9h-0.9zM180.2,60.2h0.9v0.9h-0.9zM180.2,39.9h0.9v0.9h-0.9zM176.6,58.8h0.9v0.9h-0.9zM176.7,45.6h0.9v0.9h-0.9zM180.5,61.3h0.9v0.9h-0.9zM179.2,40.3h0.9v0.9h-0.9zM177.1,43.0h0.9v0.9h-0.9zM177.1,51.2h0.9v0.9h-0.9zM181.0,58.3h0.9v0.9h-0.9zM180.3,59.7h0.9v0.9h-0.9zM178.4,48.7h0.9v0.9h-0.9zM179.4,50.3h0.9v0.9h-0.9zM174.6,40.9h0.9v0.9h-0.9zM180.4,51.8h0.9v0.9h-0.9zM178.3,56.8h0.9v0.9h-0.9zM176.1,51.3h0.9v0.9h-0.9zM180.0,53.3h0.9v0.9h-0.9zM176.1,37.7h0.9v0.9h-0.9zM178.1,46.4h0.9v0.9h-0.9zM176.9,51.7h0.9v0.9h-0.9zM176.0,55.5h0.9v0.9h-0.9zM174.6,60.5h0.9v0.9h-0.9zM174.3,49.3h0.9v0.9h-0.9zM177.2,44.8h0.9v0.9h-0.9zM175.1,51.4h0.9v0.9h-0.9zM178.1,46.4h0.9v0.9h-0.9zM176.1,61.0h0.9v0.9h-0.9zM179.2,60.3h0.9v0.9h-0.9zM178.9,40.2h0.9v0.9h-0.9zM180.0,61.2h0.9v0.9h-0.9zM177.0,60.0h0.9v0.9h-0.9zM176.3,48.9h0.9v0.9h-0.9zM181.2,48.4h0.9v0.9h-0.9zM175.8,41.4h0.9v0.9h-0.9zM175.0,53.8h0.9v0.9h-0.9zM174.6,43.2h0.9v0.9h-0.9zM179.3,48.4h0.9v0.9h-0.9zM174.7,59.1h0.9v0.9h-0.9zM180.9,39.9h0.9v0.9h-0.9zM180.2,59.1h0.9v0.9h-0.9zM181.4,42.8h0.9v0.9h-0.9zM179.6,50.4h0.9v0.9h-0.9zM174.2,49.5h0.9v0.9h-0.9zM180.0,59.0h0.9v0.9h-0.9zM177.1,39.6h0.9v0.9h-0.9zM181.5,49.1h0.9v0.9h-0.9zM180.6,57.8h0.9v0.9h-0.9zM174.9,54.4h0.9v0.9h-0.9zM175.2,56.8h0.9v0.9h-0.9zM177.3,43.5h0.9v0.9h-0.9zM180.0,48.2h0.9v0.9h-0.9zM178.7,54.9h0.9v0.9h-0.9zM176.4,56.8h0.9v0.9h-0.9zM179.2,51.5h0.9v0.9h-0.9zM178.9,58.7h0.9v0.9h-0.9zM177.9,58.0h0.9v0.9h-0.9zM180.9,40.0h0.9v0.9h-0.9zM174.8,39.4h0.9v0.9h-0.9zM181.6,57.1h0.9v0.9h-0.9zM179.5,52.0h0.9v0.9h-0.9zM179.9,49.3h0.9v0.9h-0.9zM175.0,41.6h0.9v0.9h-0.9zM180.8,59.2h0.9v0.9h-0.9zM174.6,59.1h0.9v0.9h-0.9zM174.2,41.4h0.9v0.9h-0.9zM177.7,53.5h0.9v0.9h-0.9zM178.4,50.7h0.9v0.9h-0.9zM178.9,52.8h0.9v0.9h-0.9zM180.0,42.0h0.9v0.9h-0.9zM178.2,57.5h0.9v0.9h-0.9zM177.5,48.2h0.9v0.9h-0.9zM174.3,58.6h0.9v0.9h-0.9zM175.1,61.0h0.9v0.9h-0.9zM178.0,61.2h0.9v0.9h-0.9zM177.1,46.7h0.9v0.9h-0.9zM176.0,53.5h0.9v0.9h-0.9zM175.4,44.7h0.9v0.9h-0.9zM176.5,45.0h0.9v0.9h-0.9zM181.3,40.4h0.9v0.9h-0.9zM180.8,45.8h0.9v0.9h-0.9zM179.6,46.9h0.9v0.9h-0.9zM178.5,51.8h0.9v0.9h-0.9zM181.7,41.1h0.9v0.9h-0.9zM177.2,51.8h0.9v0.9h-0.9zM176.7,54.0h0.9v0.9h-0.9zM176.4,46.6h0.9v0.9h-0.9zM180.5,60.8h0.9v0.9h-0.9zM178.4,52.1h0.9v0.9h-0.9zM175.0,56.9h0.9v0.9h-0.9zM175.7,51.2h0.9v0.9h-0.9zM179.2,42.6h0.9v0.9h-0.9zM175.4,55.6h0.9v0.9h-0.9zM179.3,57.8h0.9v0.9h-0.9zM180.3,60.5h0.9v0.9h-0.9zM178.9,51.9h0.9v0.9h-0.9zM178.8,59.1h0.9v0.9h-0.9zM179.0,60.0h0.9v0.9h-0.9zM175.2,44.8h0.9v0.9h-0.9zM176.9,57.5h0.9v0.9h-0.9zM175.1,38.8h0.9v0.9h-0.9zM179.4,39.9h0.9v0.9h-0.9zM181.5,50.9h0.9v0.9h-0.9zM178.0,56.3h0.9v0.9h-0.9zM177.2,38.9h0.9v0.9h-0.9zM178.3,47.2h0.9v0.9h-0.9zM177.3,52.3h0.9v0.9h-0.9zM180.8,53.5h0.9v0.9h-0.9zM179.2,43.9h0.9v0.9h-0.9zM180.9,53.3h0.9v0.9h-0.9zM177.4,56.5h0.9v0.9h-0.9zM181.1,46.6h0.9v0.9h-0.9zM179.9,56.4h0.9v0.9h-0.9zM176.6,51.2h0.9v0.9h-0.9zM177.4,57.6h0.9v0.9h-0.9zM180.4,59.2h0.9v0.9h-0.9zM181.1,56.0h0.9v0.9h-0.9zM177.1,56.7h0.9v0.9h-0.9zM175.8,47.0h0.9v0.9h-0.9zM175.0,59.1h0.9v0.9h-0.9zM177.0,53.9h0.9v0.9h-0.9zM181.1,44.1h0.9v0.9h-0.9zM178.7,50.5h0.9v0.9h-0.9zM179.0,48.0h0.9v0.9h-0.9zM175.7,58.5h0.9v0.9h-0.9zM180.1,44.2h0.9v0.9h-0.9zM176.4,53.1h0.9v0.9h-0.9zM181.6,43.5h0.9v0.9h-0.9zM179.4,41.2h0.9v0.9h-0.9zM179.9,52.1h0.9v0.9h-0.9zM176.9,53.4h0.9v0.9h-0.9zM174.5,43.6h0.9v0.9h-0.9zM178.9,42.5h0.9v0.9h-0.9zM174.3,55.2h0.9v0.9h-0.9zM176.4,48.7h0.9v0.9h-0.9zM175.2,45.9h0.9v0.9h-0.9zM178.6,42.3h0.9v0.9h-0.9zM174.5,48.8h0.9v0.9h-0.9zM175.9,45.1h0.9v0.9h-0.9zM176.7,54.2h0.9v0.9h-0.9zM178.3,51.2h0.9v0.9h-0.9zM180.6,49.2h0.9v0.9h-0.9zM175.6,40.5h0.9v0.9h-0.9zM180.1,46.5h0.9v0.9h-0.9zM176.5,38.2h0.9v0.9h-0.9zM179.6,61.6h0.9v0.9h-0.9zM177.1,49.2h0.9v0.9h-0.9zM175.5,54.8h0.9v0.9h-0.9zM177.4,44.7h0.9v0.9h-0.9zM175.9,59.5h0.9v0.9h-0.9zM180.8,39.4h0.9v0.9h-0.9zM178.6,41.3h0.9v0.9h-0.9zM177.3,50.1h0.9v0.9h-0.9zM182.5,47.1h0.9v0.9h-0.9zM185.1,59.9h0.9v0.9h-0.9zM182.9,57.0h0.9v0.9h-0.9zM182.4,41.5h0.9v0.9h-0.9zM193.4,55.9h0.9v0.9h-0.9zM193.6,42.1h0.9v0.9h-0.9zM185.9,47.8h0.9v0.9h-0.9zM192.4,48.9h0.9v0.9h-0.9zM187.7,57.1h0.9v0.9h-0.9zM183.4,40.5h0.9v0.9h-0.9zM187.4,51.2h0.9v0.9h-0.9zM187.3,57.9h0.9v0.9h-0.9zM183.9,49.2h0.9v0.9h-0.9zM188.3,57.0h0.9v0.9h-0.9zM182.4,46.2h0.9v0.9h-0.9zM187.3,47.2h0.9v0.9h-0.9zM193.7,50.5h0.9v0.9h-0.9zM186.8,51.3h0.9v0.9h-0.9zM185.3,43.9h0.9v0.9h-0.9zM193.2,55.9h0.9v0.9h-0.9zM189.8,43.9h0.9v0.9h-0.9zM186.7,57.8h0.9v0.9h-0.9zM184.2,53.5h0.9v0.9h-0.9zM190.2,45.1h0.9v0.9h-0.9zM187.2,53.8h0.9v0.9h-0.9zM192.6,50.6h0.9v0.9h-0.9zM187.5,47.5h0.9v0.9h-0.9zM190.3,56.2h0.9v0.9h-0.9zM184.9,51.9h0.9v0.9h-0.9zM189.5,41.4h0.9v0.9h-0.9zM182.7,48.1h0.9v0.9h-0.9zM187.0,58.0h0.9v0.9h-0.9zM189.5,46.8h0.9v0.9h-0.9zM182.1,54.5h0.9v0.9h-0.9zM193.1,40.9h0.9v0.9h-0.9zM181.9,44.3h0.9v0.9h-0.9zM190.9,59.8h0.9v0.9h-0.9zM189.0,51.3h0.9v0.9h-0.9zM192.7,43.3h0.9v0.9h-0.9zM191.9,47.3h0.9v0.9h-0.9zM187.8,50.1h0.9v0.9h-0.9zM184.0,49.5h0.9v0.9h-0.9zM191.9,54.3h0.9v0.9h-0.9zM183.9,53.8h0.9v0.9h-0.9zM185.5,44.2h0.9v0.9h-0.9zM190.2,52.8h0.9v0.9h-0.9zM185.3,42.8h0.9v0.9h-0.9zM184.2,57.1h0.9v0.9h-0.9zM186.9,42.4h0.9v0.9h-0.9zM185.1,51.4h0.9v0.9h-0.9zM192.3,58.7h0.9v0.9h-0.9zM187.0,54.2h0.9v0.9h-0.9zM185.4,49.4h0.9v0.9h-0.9zM193.3,51.9h0.9v0.9h-0.9zM187.3,59.8h0.9v0.9h-0.9zM188.5,40.7h0.9v0.9h-0.9zM190.2,59.5h0.9v0.9h-0.9zM190.1,53.4h0.9v0.9h-0.9zM193.4,45.0h0.9v0.9h-0.9zM186.6,55.3h0.9v0.9h-0.9zM190.5,47.9h0.9v0.9h-0.9zM189.4,52.3h0.9v0.9h-0.9zM190.4,52.1h0.9v0.9h-0.9zM185.8,45.6h0.9v0.9h-0.9zM191.7,56.5h0.9v0.9h-0.9zM193.7,55.8h0.9v0.9h-0.9zM188.6,44.8h0.9v0.9h-0.9zM189.4,43.7h0.9v0.9h-0.9zM189.5,56.3h0.9v0.9h-0.9zM190.1,41.1h0.9v0.9h-0.9zM190.4,47.9h0.9v0.9h-0.9zM183.9,61.2h0.9v0.9h-0.9zM182.9,54.5h0.9v0.9h-0.9zM183.6,55.4h0.9v0.9h-0.9zM185.4,60.3h0.9v0.9h-0.9zM187.6,52.1h0.9v0.9h-0.9zM183.2,50.8h0.9v0.9h-0.9zM190.5,42.8h0.9v0.9h-0.9zM185.1,57.6h0.9v0.9h-0.9zM190.0,51.7h0.9v0.9h-0.9zM186.5,44.8h0.9v0.9h-0.9zM193.8,52.4h0.9v0.9h-0.9zM182.2,42.1h0.9v0.9h-0.9zM189.8,59.5h0.9v0.9h-0.9zM189.8,48.0h0.9v0.9h-0.9zM181.9,45.7h0.9v0.9h-0.9zM188.0,57.9h0.9v0.9h-0.9zM187.8,50.3h0.9v0.9h-0.9zM183.7,49.1h0.9v0.9h-0.9zM186.0,55.3h0.9v0.9h-0.9zM192.9,53.5h0.9v0.9h-0.9zM183.8,58.8h0.9v0.9h-0.9zM187.0,47.2h0.9v0.9h-0.9zM192.8,50.3h0.9v0.9h-0.9zM191.6,56.9h0.9v0.9h-0.9zM185.8,43.1h0.9v0.9h-0.9zM185.2,46.3h0.9v0.9h-0.9zM183.3,47.3h0.9v0.9h-0.9zM183.1,52.3h0.9v0.9h-0.9zM189.4,50.3h0.9v0.9h-0.9zM182.3,53.7h0.9v0.9h-0.9zM194.0,42.3h0.9v0.9h-0.9zM187.0,58.2h0.9v0.9h-0.9zM190.2,46.6h0.9v0.9h-0.9zM184.1,60.4h0.9v0.9h-0.9zM191.6,58.1h0.9v0.9h-0.9zM193.3,45.0h0.9v0.9h-0.9zM190.2,54.6h0.9v0.9h-0.9zM185.3,50.3h0.9v0.9h-0.9zM188.5,47.6h0.9v0.9h-0.9zM192.4,47.3h0.9v0.9h-0.9zM187.3,49.4h0.9v0.9h-0.9zM188.6,49.4h0.9v0.9h-0.9zM191.0,47.9h0.9v0.9h-0.9zM182.7,60.3h0.9v0.9h-0.9zM184.1,58.0h0.9v0.9h-0.9zM189.6,40.9h0.9v0.9h-0.9zM189.2,53.7h0.9v0.9h-0.9zM183.0,46.5h0.9v0.9h-0.9zM186.3,51.4h0.9v0.9h-0.9zM190.4,56.4h0.9v0.9h-0.9zM183.3,44.4h0.9v0.9h-0.9zM192.0,57.7h0.9v0.9h-0.9zM189.6,42.4h0.9v0.9h-0.9zM186.6,53.3h0.9v0.9h-0.9zM185.0,60.2h0.9v0.9h-0.9zM193.2,54.1h0.9v0.9h-0.9zM181.8,51.2h0.9v0.9h-0.9zM184.4,49.4h0.9v0.9h-0.9zM184.6,51.7h0.9v0.9h-0.9zM192.4,45.3h0.9v0.9h-0.9zM188.5,47.7h0.9v0.9h-0.9zM188.2,47.7h0.9v0.9h-0.9zM185.3,55.8h0.9v0.9h-0.9zM182.3,54.9h0.9v0.9h-0.9zM186.4,44.3h0.9v0.9h-0.9zM190.1,57.5h0.9v0.9h-0.9zM191.3,44.5h0.9v0.9h-0.9zM186.9,58.9h0.9v0.9h-0.9zM192.6,50.8h0.9v0.9h-0.9zM184.1,44.4h0.9v0.9h-0.9zM185.5,59.3h0.9v0.9h-0.9zM182.1,42.7h0.9v0.9h-0.9zM190.6,50.9h0.9v0.9h-0.9zM190.2,42.4h0.9v0.9h-0.9zM192.0,53.4h0.9v0.9h-0.9zM184.0,48.7h0.9v0.9h-0.9zM185.1,50.5h0.9v0.9h-0.9zM188.5,54.3h0.9v0.9h-0.9zM186.4,52.6h0.9v0.9h-0.9zM184.1,53.9h0.9v0.9h-0.9zM192.9,47.2h0.9v0.9h-0.9zM188.1,46.2h0.9v0.9h-0.9zM187.5,41.1h0.9v0.9h-0.9zM190.8,48.1h0.9v0.9h-0.9zM189.2,52.9h0.9v0.9h-0.9zM193.1,48.4h0.9v0.9h-0.9zM186.9,50.0h0.9v0.9h-0.9zM183.0,50.1h0.9v0.9h-0.9zM185.1,45.9h0.9v0.9h-0.9zM185.7,48.6h0.9v0.9h-0.9zM193.2,51.4h0.9v0.9h-0.9zM186.6,45.0h0.9v0.9h-0.9zM185.6,50.8h0.9v0.9h-0.9zM186.1,54.9h0.9v0.9h-0.9zM186.5,56.1h0.9v0.9h-0.9zM185.4,41.0h0.9v0.9h-0.9zM193.4,43.5h0.9v0.9h-0.9zM193.4,44.4h0.9v0.9h-0.9zM192.5,44.6h0.9v0.9h-0.9zM187.2,44.0h0.9v0.9h-0.9zM192.5,44.6h0.9v0.9h-0.9zM190.7,44.4h0.9v0.9h-0.9zM192.9,46.0h0.9v0.9h-0.9zM188.7,59.6h0.9v0.9h-0.9zM191.8,59.2h0.9v0.9h-0.9zM187.5,42.7h0.9v0.9h-0.9zM188.0,50.7h0.9v0.9h-0.9zM183.8,42.3h0.9v0.9h-0.9zM189.3,49.3h0.9v0.9h-0.9zM188.3,57.8h0.9v0.9h-0.9zM184.1,49.7h0.9v0.9h-0.9zM189.7,52.5h0.9v0.9h-0.9zM183.4,43.3h0.9v0.9h-0.9zM183.3,54.1h0.9v0.9h-0.9zM193.3,54.6h0.9v0.9h-0.9zM188.6,57.8h0.9v0.9h-0.9zM192.0,43.3h0.9v0.9h-0.9zM192.4,48.8h0.9v0.9h-0.9zM193.5,56.5h0.9v0.9h-0.9zM189.4,53.8h0.9v0.9h-0.9zM186.3,44.5h0.9v0.9h-0.9zM191.8,57.8h0.9v0.9h-0.9zM186.9,42.0h0.9v0.9h-0.9zM190.3,44.0h0.9v0.9h-0.9zM184.7,44.9h0.9v0.9h-0.9zM188.7,51.2h0.9v0.9h-0.9zM188.8,52.6h0.9v0.9h-0.9zM188.2,52.5h0.9v0.9h-0.9zM187.7,50.7h0.9v0.9h-0.9zM185.3,45.5h0.9v0.9h-0.9zM184.6,54.4h0.9v0.9h-0.9zM184.6,58.4h0.9v0.9h-0.9zM188.0,41.3h0.9v0.9h-0.9zM190.7,55.1h0.9v0.9h-0.9zM189.1,59.5h0.9v0.9h-0.9zM191.7,55.5h0.9v0.9h-0.9zM184.9,60.0h0.9v0.9h-0.9zM183.1,59.0h0.9v0.9h-0.9zM190.4,48.2h0.9v0.9h-0.9zM193.9,54.6h0.9v0.9h-0.9zM192.6,40.8h0.9v0.9h-0.9zM190.1,60.2h0.9v0.9h-0.9zM191.4,47.2h0.9v0.9h-0.9zM185.8,61.9h0.9v0.9h-0.9zM183.8,52.4h0.9v0.9h-0.9zM193.1,48.5h0.9v0.9h-0.9zM182.9,49.0h0.9v0.9h-0.9zM185.2,41.6h0.9v0.9h-0.9zM184.9,43.0h0.9v0.9h-0.9zM183.7,41.6h0.9v0.9h-0.9zM186.5,54.9h0.9v0.9h-0.9zM189.4,45.4h0.9v0.9h-0.9zM182.1,47.8h0.9v0.9h-0.9zM187.9,54.5h0.9v0.9h-0.9zM189.9,40.8h0.9v0.9h-0.9zM192.0,42.0h0.9v0.9h-0.9zM184.0,49.3h0.9v0.9h-0.9zM184.3,59.2h0.9v0.9h-0.9zM193.5,50.3h0.9v0.9h-0.9zM191.8,58.9h0.9v0.9h-0.9zM186.4,40.0h0.9v0.9h-0.9zM186.0,48.1h0.9v0.9h-0.9zM190.2,47.2h0.9v0.9h-0.9zM193.2,52.3h0.9v0.9h-0.9zM188.2,55.3h0.9v0.9h-0.9zM186.8,58.9h0.9v0.9h-0.9zM186.9,50.0h0.9v0.9h-0.9zM182.7,38.9h0.9v0.9h-0.9zM184.5,51.8h0.9v0.9h-0.9zM188.2,45.4h0.9v0.9h-0.9zM184.0,53.7h0.9v0.9h-0.9zM186.4,53.3h0.9v0.9h-0.9zM190.9,43.3h0.9v0.9h-0.9zM189.8,52.9h0.9v0.9h-0.9zM183.1,50.7h0.9v0.9h-0.9zM188.3,53.2h0.9v0.9h-0.9zM185.3,60.4h0.9v0.9h-0.9zM185.2,48.6h0.9v0.9h-0.9zM187.4,55.1h0.9v0.9h-0.9zM185.8,47.4h0.9v0.9h-0.9zM187.8,55.8h0.9v0.9h-0.9zM191.2,53.8h0.9v0.9h-0.9zM189.3,45.4h0.9v0.9h-0.9zM185.4,55.6h0.9v0.9h-0.9zM185.3,57.2h0.9v0.9h-0.9zM181.9,56.8h0.9v0.9h-0.9zM190.4,57.4h0.9v0.9h-0.9zM187.0,46.8h0.9v0.9h-0.9zM188.6,43.7h0.9v0.9h-0.9zM188.5,56.7h0.9v0.9h-0.9zM184.6,57.8h0.9v0.9h-0.9zM185.3,53.8h0.9v0.9h-0.9zM187.4,58.4h0.9v0.9h-0.9zM188.7,44.5h0.9v0.9h-0.9zM192.8,44.1h0.9v0.9h-0.9zM186.8,47.5h0.9v0.9h-0.9zM191.7,54.1h0.9v0.9h-0.9zM188.1,58.5h0.9v0.9h-0.9zM189.0,45.3h0.9v0.9h-0.9zM187.7,39.4h0.9v0.9h-0.9zM187.6,54.4h0.9v0.9h-0.9zM191.3,42.0h0.9v0.9h-0.9zM189.5,47.5h0.9v0.9h-0.9zM184.2,57.4h0.9v0.9h-0.9zM193.1,41.6h0.9v0.9h-0.9zM191.5,49.9h0.9v0.9h-0.9zM187.2,61.1h0.9v0.9h-0.9zM190.4,58.9h0.9v0.9h-0.9zM187.2,49.4h0.9v0.9h-0.9zM183.1,56.6h0.9v0.9h-0.9zM185.6,48.7h0.9v0.9h-0.9zM189.6,42.5h0.9v0.9h-0.9zM192.0,58.1h0.9v0.9h-0.9zM193.1,49.3h0.9v0.9h-0.9zM187.8,50.6h0.9v0.9h-0.9zM186.1,48.3h0.9v0.9h-0.9zM187.7,51.4h0.9v0.9h-0.9zM193.7,55.7h0.9v0.9h-0.9zM183.3,55.7h0.9v0.9h-0.9zM192.4,53.1h0.9v0.9h-0.9zM182.7,49.9h0.9v0.9h-0.9zM193.5,48.1h0.9v0.9h-0.9zM190.4,52.8h0.9v0.9h-0.9zM184.5,54.2h0.9v0.9h-0.9zM186.4,56.1h0.9v0.9h-0.9zM186.2,49.8h0.9v0.9h-0.9zM189.9,59.9h0.9v0.9h-0.9zM192.5,58.3h0.9v0.9h-0.9zM190.0,45.0h0.9v0.9h-0.9zM193.5,46.3h0.9v0.9h-0.9zM190.0,41.8h0.9v0.9h-0.9zM182.8,59.3h0.9v0.9h-0.9zM187.1,48.8h0.9v0.9h-0.9zM182.5,47.9h0.9v0.9h-0.9zM184.1,44.9h0.9v0.9h-0.9zM193.1,44.1h0.9v0.9h-0.9zM187.9,57.7h0.9v0.9h-0.9zM185.0,47.2h0.9v0.9h-0.9zM186.1,46.7h0.9v0.9h-0.9zM192.9,45.9h0.9v0.9h-0.9zM191.3,54.0h0.9v0.9h-0.9zM187.0,40.8h0.9v0.9h-0.9zM182.6,40.7h0.9v0.9h-0.9zM184.2,56.6h0.9v0.9h-0.9zM190.6,51.1h0.9v0.9h-0.9zM191.0,55.0h0.9v0.9h-0.9zM193.6,51.9h0.9v0.9h-0.9zM183.8,55.7h0.9v0.9h-0.9zM188.1,60.3h0.9v0.9h-0.9zM185.2,42.1h0.9v0.9h-0.9zM185.5,52.4h0.9v0.9h-0.9zM185.2,49.5h0.9v0.9h-0.9zM182.0,54.5h0.9v0.9h-0.9zM182.2,44.5h0.9v0.9h-0.9zM182.8,44.8h0.9v0.9h-0.9zM193.8,55.2h0.9v0.9h-0.9zM182.2,56.6h0.9v0.9h-0.9zM183.4,61.4h0.9v0.9h-0.9zM190.1,53.2h0.9v0.9h-0.9zM182.6,48.1h0.9v0.9h-0.9zM186.5,55.9h0.9v0.9h-0.9zM193.5,49.1h0.9v0.9h-0.9zM183.5,42.6h0.9v0.9h-0.9zM182.1,49.6h0.9v0.9h-0.9zM184.2,61.1h0.9v0.9h-0.9zM187.5,59.8h0.9v0.9h-0.9zM184.9,58.1h0.9v0.9h-0.9zM190.3,51.3h0.9v0.9h-0.9zM189.1,55.0h0.9v0.9h-0.9zM181.8,41.3h0.9v0.9h-0.9zM185.8,42.2h0.9v0.9h-0.9zM182.5,40.7h0.9v0.9h-0.9zM189.9,40.1h0.9v0.9h-0.9zM190.9,42.8h0.9v0.9h-0.9zM191.9,41.2h0.9v0.9h-0.9zM184.4,55.5h0.9v0.9h-0.9zM192.3,50.0h0.9v0.9h-0.9zM190.5,45.9h0.9v0.9h-0.9zM184.8,47.5h0.9v0.9h-0.9zM186.0,49.0h0.9v0.9h-0.9zM184.9,45.4h0.9v0.9h-0.9zM184.5,49.6h0.9v0.9h-0.9zM188.2,49.4h0.9v0.9h-0.9zM189.6,50.6h0.9v0.9h-0.9zM186.0,42.4h0.9v0.9h-0.9zM183.2,45.3h0.9v0.9h-0.9zM190.4,41.8h0.9v0.9h-0.9zM193.1,54.1h0.9v0.9h-0.9zM183.1,50.0h0.9v0.9h-0.9zM193.3,56.1h0.9v0.9h-0.9zM189.8,54.6h0.9v0.9h-0.9zM186.7,43.6h0.9v0.9h-0.9zM185.0,44.8h0.9v0.9h-0.9zM190.7,44.2h0.9v0.9h-0.9zM187.9,57.4h0.9v0.9h-0.9zM182.9,49.8h0.9v0.9h-0.9zM193.2,42.6h0.9v0.9h-0.9zM190.8,52.4h0.9v0.9h-0.9zM185.2,59.1h0.9v0.9h-0.9zM183.7,42.8h0.9v0.9h-0.9zM188.8,57.2h0.9v0.9h-0.9zM184.1,43.5h0.9v0.9h-0.9zM192.1,58.2h0.9v0.9h-0.9zM188.3,59.3h0.9v0.9h-0.9zM186.4,58.7h0.9v0.9h-0.9zM188.7,40.9h0.9v0.9h-0.9zM189.7,46.1h0.9v0.9h-0.9zM189.4,41.7h0.9v0.9h-0.9zM185.3,49.7h0.9v0.9h-0.9zM193.0,57.0h0.9v0.9h-0.9zM192.5,49.4h0.9v0.9h-0.9zM183.4,42.6h0.9v0.9h-0.9zM190.3,51.9h0.9v0.9h-0.9zM184.1,46.6h0.9v0.9h-0.9zM182.7,46.6h0.9v0.9h-0.9zM188.9,51.7h0.9v0.9h-0.9zM189.3,44.3h0.9v0.9h-0.9zM183.9,57.8h0.9v0.9h-0.9zM185.2,48.5h0.9v0.9h-0.9zM193.3,48.2h0.9v0.9h-0.9zM193.4,43.1h0.9v0.9h-0.9zM189.3,49.3h0.9v0.9h-0.9zM189.8,54.4h0.9v0.9h-0.9zM182.0,47.5h0.9v0.9h-0.9zM186.4,50.5h0.9v0.9h-0.9zM191.0,45.6h0.9v0.9h-0.9zM182.7,56.1h0.9v0.9h-0.9zM192.4,59.2h0.9v0.9h-0.9zM188.4,59.1h0.9v0.9h-0.9zM187.9,41.9h0.9v0.9h-0.9zM187.3,40.2h0.9v0.9h-0.9zM189.2,50.0h0.9v0.9h-0.9zM184.5,49.2h0.9v0.9h-0.9zM184.5,58.7h0.9v0.9h-0.9zM184.5,61.5h0.9v0.9h-0.9zM188.2,55.3h0.9v0.9h-0.9zM188.6,45.0h0.9v0.9h-0.9zM182.8,53.6h0.9v0.9h-0.9zM188.7,59.2h0.9v0.9h-0.9zM193.8,43.9h0.9v0.9h-0.9zM190.5,57.7h0.9v0.9h-0.9zM193.1,47.1h0.9v0.9h-0.9zM193.8,48.2h0.9v0.9h-0.9zM190.3,54.6h0.9v0.9h-0.9zM184.6,52.5h0.9v0.9h-0.9zM193.0,58.3h0.9v0.9h-0.9zM182.4,45.1h0.9v0.9h-0.9zM182.3,43.5h0.9v0.9h-0.9zM186.0,49.8h0.9v0.9h-0.9zM189.4,45.9h0.9v0.9h-0.9zM183.0,54.1h0.9v0.9h-0.9zM187.8,40.8h0.9v0.9h-0.9zM192.5,44.2h0.9v0.9h-0.9zM185.9,53.8h0.9v0.9h-0.9zM186.5,53.4h0.9v0.9h-0.9zM193.1,50.7h0.9v0.9h-0.9zM183.8,47.1h0.9v0.9h-0.9zM182.2,48.3h0.9v0.9h-0.9zM186.5,40.7h0.9v0.9h-0.9zM189.0,48.3h0.9v0.9h-0.9zM189.9,59.5h0.9v0.9h-0.9zM192.6,45.5h0.9v0.9h-0.9zM186.8,58.7h0.9v0.9h-0.9zM182.4,45.1h0.9v0.9h-0.9zM185.1,41.8h0.9v0.9h-0.9zM182.9,54.8h0.9v0.9h-0.9zM182.2,55.8h0.9v0.9h-0.9zM185.1,49.7h0.9v0.9h-0.9zM182.8,60.2h0.9v0.9h-0.9zM188.0,41.9h0.9v0.9h-0.9zM192.0,45.9h0.9v0.9h-0.9zM183.7,54.4h0.9v0.9h-0.9zM189.0,53.5h0.9v0.9h-0.9zM191.9,55.8h0.9v0.9h-0.9zM187.3,42.9h0.9v0.9h-0.9zM190.8,41.7h0.9v0.9h-0.9zM188.1,59.8h0.9v0.9h-0.9zM193.6,51.2h0.9v0.9h-0.9zM191.8,58.5h0.9v0.9h-0.9zM184.3,58.3h0.9v0.9h-0.9zM187.2,59.4h0.9v0.9h-0.9zM188.6,46.3h0.9v0.9h-0.9zM183.9,49.7h0.9v0.9h-0.9zM190.8,47.2h0.9v0.9h-0.9zM183.7,47.6h0.9v0.9h-0.9zM190.8,57.5h0.9v0.9h-0.9zM193.0,42.2h0.9v0.9h-0.9zM191.6,49.7h0.9v0.9h-0.9zM182.1,43.8h0.9v0.9h-0.9zM181.9,40.9h0.9v0.9h-0.9zM193.5,41.2h0.9v0.9h-0.9zM184.2,45.1h0.9v0.9h-0.9zM183.9,47.1h0.9v0.9h-0.9zM188.8,50.2h0.9v0.9h-0.9zM193.9,47.2h0.9v0.9h-0.9zM190.1,56.4h0.9v0.9h-0.9zM189.6,41.5h0.9v0.9h-0.9zM183.7,41.0h0.9v0.9h-0.9zM186.2,48.2h0.9v0.9h-0.9zM188.9,55.6h0.9v0.9h-0.9zM185.3,53.9h0.9v0.9h-0.9zM185.8,59.0h0.9v0.9h-0.9zM181.8,40.9h0.9v0.9h-0.9zM193.9,50.7h0.9v0.9h-0.9zM186.3,48.0h0.9v0.9h-0.9zM185.6,56.5h0.9v0.9h-0.9zM186.5,56.4h0.9v0.9h-0.9zM192.0,53.6h0.9v0.9h-0.9zM183.0,58.0h0.9v0.9h-0.9zM188.9,57.1h0.9v0.9h-0.9zM184.9,47.4h0.9v0.9h-0.9zM185.3,55.7h0.9v0.9h-0.9zM183.6,46.2h0.9v0.9h-0.9zM188.6,58.9h0.9v0.9h-0.9zM181.9,43.1h0.9v0.9h-0.9zM191.4,40.8h0.9v0.9h-0.9zM188.1,56.1h0.9v0.9h-0.9zM184.7,56.4h0.9v0.9h-0.9zM182.6,49.6h0.9v0.9h-0.9zM190.0,55.8h0.9v0.9h-0.9zM191.1,55.3h0.9v0.9h-0.9zM187.0,41.5h0.9v0.9h-0.9zM193.4,44.5h0.9v0.9h-0.9zM185.4,40.3h0.9v0.9h-0.9zM185.8,55.0h0.9v0.9h-0.9zM185.0,54.1h0.9v0.9h-0.9zM192.7,58.7h0.9v0.9h-0.9zM193.5,50.0h0.9v0.9h-0.9zM190.5,40.9h0.9v0.9h-0.9zM190.2,54.4h0.9v0.9h-0.9zM183.5,52.8h0.9v0.9h-0.9zM190.1,45.2h0.9v0.9h-0.9zM189.2,41.7h0.9v0.9h-0.9zM188.6,54.9h0.9v0.9h-0.9zM183.5,58.1h0.9v0.9h-0.9zM182.8,52.4h0.9v0.9h-0.9zM190.9,58.8h0.9v0.9h-0.9zM193.1,58.4h0.9v0.9h-0.9zM187.9,46.8h0.9v0.9h-0.9zM182.2,50.4h0.9v0.9h-0.9zM191.1,41.6h0.9v0.9h-0.9zM191.2,49.7h0.9v0.9h-0.9zM188.7,58.9h0.9v0.9h-0.9zM189.7,40.2h0.9v0.9h-0.9zM185.5,59.8h0.9v0.9h-0.9zM184.7,52.0h0.9v0.9h-0.9zM187.8,49.3h0.9v0.9h-0.9zM190.5,57.4h0.9v0.9h-0.9zM189.3,42.4h0.9v0.9h-0.9zM190.4,40.6h0.9v0.9h-0.9zM182.8,52.9h0.9v0.9h-0.9zM182.2,50.1h0.9v0.9h-0.9zM185.5,58.4h0.9v0.9h-0.9zM187.7,42.5h0.9v0.9h-0.9zM186.7,52.5h0.9v0.9h-0.9zM183.9,45.8h0.9v0.9h-0.9zM192.6,43.1h0.9v0.9h-0.9zM190.2,41.5h0.9v0.9h-0.9zM187.4,56.6h0.9v0.9h-0.9zM184.2,47.3h0.9v0.9h-0.9zM193.5,42.5h0.9v0.9h-0.9zM189.0,58.0h0.9v0.9h-0.9zM190.1,52.9h0.9v0.9h-0.9zM184.7,45.2h0.9v0.9h-0.9zM186.0,41.4h0.9v0.9h-0.9zM192.3,52.2h0.9v0.9h-0.9zM183.9,46.9h0.9v0.9h-0.9zM190.5,55.6h0.9v0.9h-0.9zM185.9,54.7h0.9v0.9h-0.9zM187.1,59.4h0.9v0.9h-0.9zM186.6,41.0h0.9v0.9h-0.9zM183.2,45.8h0.9v0.9h-0.9zM181.9,52.0h0.9v0.9h-0.9zM184.3,39.8h0.9v0.9h-0.9zM193.5,54.4h0.9v0.9h-0.9zM184.9,60.0h0.9v0.9h-0.9zM192.1,47.3h0.9v0.9h-0.9zM182.0,47.7h0.9v0.9h-0.9zM189.9,40.2h0.9v0.9h-0.9zM189.6,43.3h0.9v0.9h-0.9zM183.4,39.4h0.9v0.9h-0.9zM192.6,46.4h0.9v0.9h-0.9zM182.5,59.2h0.9v0.9h-0.9zM182.2,53.3h0.9v0.9h-0.9zM189.2,43.5h0.9v0.9h-0.9zM190.0,43.9h0.9v0.9h-0.9zM183.4,47.7h0.9v0.9h-0.9zM184.1,47.3h0.9v0.9h-0.9zM189.4,46.2h0.9v0.9h-0.9zM183.9,46.5h0.9v0.9h-0.9zM188.5,52.2h0.9v0.9h-0.9zM186.7,43.6h0.9v0.9h-0.9zM186.7,60.1h0.9v0.9h-0.9zM186.9,58.3h0.9v0.9h-0.9zM184.9,60.6h0.9v0.9h-0.9zM182.8,47.4h0.9v0.9h-0.9zM184.5,45.8h0.9v0.9h-0.9zM192.8,52.9h0.9v0.9h-0.9zM187.9,56.3h0.9v0.9h-0.9zM184.1,40.0h0.9v0.9h-0.9zM186.1,40.9h0.9v0.9h-0.9zM191.3,52.5h0.9v0.9h-0.9zM193.5,43.8h0.9v0.9h-0.9zM190.6,56.9h0.9v0.9h-0.9zM186.4,48.3h0.9v0.9h-0.9zM187.7,45.0h0.9v0.9h-0.9zM189.2,60.3h0.9v0.9h-0.9zM182.1,44.5h0.9v0.9h-0.9zM191.9,58.1h0.9v0.9h-0.9zM191.2,43.0h0.9v0.9h-0.9zM185.7,58.1h0.9v0.9h-0.9zM185.6,44.0h0.9v0.9h-0.9zM193.3,48.6h0.9v0.9h-0.9zM192.0,51.1h0.9v0.9h-0.9zM187.1,39.4h0.9v0.9h-0.9zM187.3,41.9h0.9v0.9h-0.9zM191.9,59.2h0.9v0.9h-0.9zM193.7,57.1h0.9v0.9h-0.9zM187.9,59.9h0.9v0.9h-0.9zM182.6,45.8h0.9v0.9h-0.9zM187.6,42.7h0.9v0.9h-0.9zM184.8,53.9h0.9v0.9h-0.9zM186.0,43.0h0.9v0.9h-0.9zM189.1,54.3h0.9v0.9h-0.9zM186.3,44.0h0.9v0.9h-0.9zM187.2,44.4h0.9v0.9h-0.9zM193.7,54.0h0.9v0.9h-0.9zM192.1,43.2h0.9v0.9h-0.9zM188.3,48.4h0.9v0.9h-0.9zM182.0,58.9h0.9v0.9h-0.9zM189.5,59.7h0.9v0.9h-0.9zM193.9,50.4h0.9v0.9h-0.9zM189.0,58.8h0.9v0.9h-0.9zM190.9,48.1h0.9v0.9h-0.9zM183.0,55.4h0.9v0.9h-0.9zM187.2,40.9h0.9v0.9h-0.9zM188.8,55.9h0.9v0.9h-0.9zM190.9,49.5h0.9v0.9h-0.9zM188.0,54.8h0.9v0.9h-0.9zM186.6,52.4h0.9v0.9h-0.9zM191.5,44.4h0.9v0.9h-0.9zM187.0,54.8h0.9v0.9h-0.9zM189.5,43.0h0.9v0.9h-0.9zM184.6,59.4h0.9v0.9h-0.9zM184.6,45.8h0.9v0.9h-0.9zM182.1,44.1h0.9v0.9h-0.9zM182.9,45.1h0.9v0.9h-0.9zM183.4,40.7h0.9v0.9h-0.9zM185.5,47.7h0.9v0.9h-0.9zM194.7,49.2h0.9v0.9h-0.9zM195.2,49.9h0.9v0.9h-0.9zM195.7,47.5h0.9v0.9h-0.9zM195.5,44.8h0.9v0.9h-0.9zM195.7,42.1h0.9v0.9h-0.9zM197.3,48.5h0.9v0.9h-0.9zM194.9,53.9h0.9v0.9h-0.9zM196.2,48.7h0.9v0.9h-0.9zM195.5,54.2h0.9v0.9h-0.9zM197.2,50.3h0.9v0.9h-0.9zM194.6,44.0h0.9v0.9h-0.9zM197.0,42.6h0.9v0.9h-0.9zM194.4,55.8h0.9v0.9h-0.9zM195.2,52.2h0.9v0.9h-0.9zM196.2,51.6h0.9v0.9h-0.9zM195.9,52.3h0.9v0.9h-0.9zM196.8,45.0h0.9v0.9h-0.9zM194.0,50.5h0.9v0.9h-0.9zM194.8,51.7h0.9v0.9h-0.9zM194.6,56.9h0.9v0.9h-0.9zM196.4,51.8h0.9v0.9h-0.9zM194.3,55.4h0.9v0.9h-0.9zM198.3,45.8h0.9v0.9h-0.9zM196.3,45.8h0.9v0.9h-0.9zM200.2,48.9h0.9v0.9h-0.9zM195.2,50.1h0.9v0.9h-0.9zM199.3,49.0h0.9v0.9h-0.9zM198.2,52.4h0.9v0.9h-0.9zM200.9,49.7h0.9v0.9h-0.9zM196.2,44.7h0.9v0.9h-0.9zM198.7,54.9h0.9v0.9h-0.9zM195.1,57.0h0.9v0.9h-0.9zM199.3,45.2h0.9v0.9h-0.9zM194.6,50.4h0.9v0.9h-0.9zM197.0,53.2h0.9v0.9h-0.9zM195.9,55.4h0.9v0.9h-0.9zM196.6,48.9h0.9v0.9h-0.9zM195.2,52.8h0.9v0.9h-0.9zM194.7,41.3h0.9v0.9h-0.9zM196.4,48.7h0.9v0.9h-0.9zM201.5,48.1h0.9v0.9h-0.9zM194.7,57.3h0.9v0.9h-0.9zM194.4,54.7h0.9v0.9h-0.9zM197.5,45.0h0.9v0.9h-0.9zM195.8,44.5h0.9v0.9h-0.9zM196.9,49.5h0.9v0.9h-0.9zM194.3,54.9h0.9v0.9h-0.9zM199.9,45.7h0.9v0.9h-0.9zM199.6,46.5h0.9v0.9h-0.9zM197.5,48.1h0.9v0.9h-0.9zM195.9,42.7h0.9v0.9h-0.9zM194.9,56.6h0.9v0.9h-0.9zM195.8,52.2h0.9v0.9h-0.9zM197.4,47.1h0.9v0.9h-0.9zM194.9,45.8h0.9v0.9h-0.9zM194.4,46.7h0.9v0.9h-0.9zM194.6,52.0h0.9v0.9h-0.9zM194.2,49.9h0.9v0.9h-0.9zM197.2,48.2h0.9v0.9h-0.9zM195.2,41.4h0.9v0.9h-0.9zM194.6,41.1h0.9v0.9h-0.9zM196.9,51.1h0.9v0.9h-0.9zM196.7,55.5h0.9v0.9h-0.9zM194.6,54.4h0.9v0.9h-0.9zM199.5,46.1h0.9v0.9h-0.9zM198.2,53.7h0.9v0.9h-0.9zM195.5,44.4h0.9v0.9h-0.9zM194.4,42.6h0.9v0.9h-0.9zM194.6,54.5h0.9v0.9h-0.9zM198.9,54.0h0.9v0.9h-0.9zM194.8,51.6h0.9v0.9h-0.9zM197.4,53.9h0.9v0.9h-0.9zM194.2,51.6h0.9v0.9h-0.9zM195.0,52.2h0.9v0.9h-0.9zM196.8,42.0h0.9v0.9h-0.9zM198.1,47.3h0.9v0.9h-0.9zM196.7,51.2h0.9v0.9h-0.9zM198.2,52.5h0.9v0.9h-0.9zM194.9,47.6h0.9v0.9h-0.9zM195.2,49.2h0.9v0.9h-0.9zM194.9,56.1h0.9v0.9h-0.9zM196.3,55.8h0.9v0.9h-0.9zM195.6,42.3h0.9v0.9h-0.9zM194.8,42.0h0.9v0.9h-0.9zM198.1,47.8h0.9v0.9h-0.9zM194.8,55.9h0.9v0.9h-0.9zM196.6,55.0h0.9v0.9h-0.9zM196.2,43.7h0.9v0.9h-0.9zM199.2,42.7h0.9v0.9h-0.9zM194.7,45.1h0.9v0.9h-0.9zM194.3,49.5h0.9v0.9h-0.9zM195.9,44.4h0.9v0.9h-0.9zM195.8,55.2h0.9v0.9h-0.9zM197.7,49.3h0.9v0.9h-0.9zM195.3,42.6h0.9v0.9h-0.9zM198.7,52.0h0.9v0.9h-0.9zM195.8,57.6h0.9v0.9h-0.9zM196.3,54.9h0.9v0.9h-0.9zM199.3,51.8h0.9v0.9h-0.9zM202.3,49.6h0.9v0.9h-0.9zM194.5,50.4h0.9v0.9h-0.9zM201.0,47.4h0.9v0.9h-0.9zM197.4,54.8h0.9v0.9h-0.9zM194.6,43.9h0.9v0.9h-0.9zM194.1,48.3h0.9v0.9h-0.9zM200.7,49.4h0.9v0.9h-0.9zM195.2,57.2h0.9v0.9h-0.9zM194.0,58.5h0.9v0.9h-0.9zM197.1,52.7h0.9v0.9h-0.9zM194.6,45.7h0.9v0.9h-0.9zM194.5,41.4h0.9v0.9h-0.9zM194.5,50.1h0.9v0.9h-0.9zM195.5,49.1h0.9v0.9h-0.9zM194.1,44.8h0.9v0.9h-0.9zM194.2,46.5h0.9v0.9h-0.9zM194.5,46.9h0.9v0.9h-0.9zM197.4,56.4h0.9v0.9h-0.9zM199.7,51.5h0.9v0.9h-0.9zM194.7,42.0h0.9v0.9h-0.9zM194.2,54.9h0.9v0.9h-0.9zM195.1,44.1h0.9v0.9h-0.9zM197.4,43.8h0.9v0.9h-0.9zM195.9,54.7h0.9v0.9h-0.9zM196.5,52.0h0.9v0.9h-0.9zM196.7,46.7h0.9v0.9h-0.9zM194.6,51.1h0.9v0.9h-0.9zM194.6,52.2h0.9v0.9h-0.9zM197.7,54.7h0.9v0.9h-0.9zM194.6,49.7h0.9v0.9h-0.9zM195.1,49.5h0.9v0.9h-0.9zM194.3,55.3h0.9v0.9h-0.9zM195.4,53.0h0.9v0.9h-0.9zM195.8,46.4h0.9v0.9h-0.9zM194.4,46.2h0.9v0.9h-0.9zM195.9,48.0h0.9v0.9h-0.9zM194.3,42.9h0.9v0.9h-0.9zM196.4,43.8h0.9v0.9h-0.9zM196.2,57.3h0.9v0.9h-0.9zM196.8,43.3h0.9v0.9h-0.9zM200.6,47.4h0.9v0.9h-0.9zM181.2,64.2h0.9v0.9h-0.9zM172.5,63.5h0.9v0.9h-0.9zM177.4,62.4h0.9v0.9h-0.9zM175.1,63.1h0.9v0.9h-0.9zM181.0,64.3h0.9v0.9h-0.9zM179.0,63.2h0.9v0.9h-0.9zM182.8,63.6h0.9v0.9h-0.9zM180.1,60.9h0.9v0.9h-0.9zM177.3,61.4h0.9v0.9h-0.9zM179.7,63.0h0.9v0.9h-0.9zM175.7,63.1h0.9v0.9h-0.9zM179.7,63.9h0.9v0.9h-0.9zM173.6,63.3h0.9v0.9h-0.9zM182.4,62.6h0.9v0.9h-0.9zM174.6,62.5h0.9v0.9h-0.9zM177.8,64.0h0.9v0.9h-0.9zM171.5,63.2h0.9v0.9h-0.9zM176.3,62.3h0.9v0.9h-0.9zM181.3,60.7h0.9v0.9h-0.9zM182.5,63.9h0.9v0.9h-0.9zM179.7,63.4h0.9v0.9h-0.9zM172.7,62.7h0.9v0.9h-0.9zM175.2,62.6h0.9v0.9h-0.9zM174.9,62.2h0.9v0.9h-0.9zM176.2,63.7h0.9v0.9h-0.9zM174.5,63.2h0.9v0.9h-0.9zM182.3,63.0h0.9v0.9h-0.9zM177.0,62.2h0.9v0.9h-0.9zM180.0,61.0h0.9v0.9h-0.9zM181.1,63.3h0.9v0.9h-0.9zM180.4,64.0h0.9v0.9h-0.9zM171.8,63.7h0.9v0.9h-0.9zM176.7,63.5h0.9v0.9h-0.9zM182.2,64.0h0.9v0.9h-0.9zM177.1,63.8h0.9v0.9h-0.9zM181.8,62.4h0.9v0.9h-0.9zM179.3,61.9h0.9v0.9h-0.9zM181.0,63.5h0.9v0.9h-0.9zM180.3,61.0h0.9v0.9h-0.9zM180.7,63.8h0.9v0.9h-0.9zM173.3,62.5h0.9v0.9h-0.9zM173.8,63.0h0.9v0.9h-0.9zM181.7,61.0h0.9v0.9h-0.9zM177.2,62.5h0.9v0.9h-0.9zM182.3,62.0h0.9v0.9h-0.9zM180.4,62.2h0.9v0.9h-0.9zM176.3,64.0h0.9v0.9h-0.9zM175.0,63.3h0.9v0.9h-0.9zM175.7,63.7h0.9v0.9h-0.9zM178.8,61.5h0.9v0.9h-0.9zM180.0,61.9h0.9v0.9h-0.9zM180.8,61.2h0.9v0.9h-0.9zM178.2,61.3h0.9v0.9h-0.9zM176.5,62.0h0.9v0.9h-0.9zM177.9,61.7h0.9v0.9h-0.9zM182.4,62.7h0.9v0.9h-0.9zM176.0,63.2h0.9v0.9h-0.9zM181.4,62.0h0.9v0.9h-0.9zM176.7,62.3h0.9v0.9h-0.9zM177.4,61.5h0.9v0.9h-0.9zM179.7,61.2h0.9v0.9h-0.9zM173.0,62.7h0.9v0.9h-0.9zM180.3,62.3h0.9v0.9h-0.9zM180.3,62.2h0.9v0.9h-0.9zM171.5,63.8h0.9v0.9h-0.9zM179.3,63.2h0.9v0.9h-0.9zM175.0,63.5h0.9v0.9h-0.9zM178.0,64.0h0.9v0.9h-0.9zM179.6,62.1h0.9v0.9h-0.9zM173.0,62.8h0.9v0.9h-0.9zM174.2,64.1h0.9v0.9h-0.9zM177.8,63.2h0.9v0.9h-0.9zM179.9,63.9h0.9v0.9h-0.9zM180.3,64.3h0.9v0.9h-0.9zM177.8,62.6h0.9v0.9h-0.9zM181.6,60.9h0.9v0.9h-0.9zM173.7,63.7h0.9v0.9h-0.9zM181.3,64.4h0.9v0.9h-0.9zM172.0,62.7h0.9v0.9h-0.9zM178.9,63.1h0.9v0.9h-0.9zM174.1,63.2h0.9v0.9h-0.9zM182.3,63.1h0.9v0.9h-0.9zM172.3,62.4h0.9v0.9h-0.9zM174.6,62.6h0.9v0.9h-0.9zM181.7,63.9h0.9v0.9h-0.9zM178.3,63.2h0.9v0.9h-0.9zM179.5,62.1h0.9v0.9h-0.9zM178.1,63.9h0.9v0.9h-0.9zM179.5,64.0h0.9v0.9h-0.9zM179.6,62.5h0.9v0.9h-0.9zM181.3,61.8h0.9v0.9h-0.9zM179.7,63.9h0.9v0.9h-0.9zM179.4,63.4h0.9v0.9h-0.9zM174.0,62.8h0.9v0.9h-0.9zM181.8,63.6h0.9v0.9h-0.9zM177.4,62.7h0.9v0.9h-0.9zM174.3,61.9h0.9v0.9h-0.9zM177.8,61.8h0.9v0.9h-0.9zM179.8,61.0h0.9v0.9h-0.9zM174.5,63.1h0.9v0.9h-0.9zM178.8,61.2h0.9v0.9h-0.9zM179.2,61.9h0.9v0.9h-0.9zM177.8,63.3h0.9v0.9h-0.9zM181.0,64.2h0.9v0.9h-0.9zM176.9,61.5h0.9v0.9h-0.9zM182.8,61.9h0.9v0.9h-0.9zM176.3,63.8h0.9v0.9h-0.9zM182.0,60.7h0.9v0.9h-0.9zM174.7,62.5h0.9v0.9h-0.9zM179.3,64.1h0.9v0.9h-0.9zM181.8,64.4h0.9v0.9h-0.9zM172.4,64.0h0.9v0.9h-0.9zM171.6,63.6h0.9v0.9h-0.9zM180.8,63.3h0.9v0.9h-0.9zM177.0,64.2h0.9v0.9h-0.9zM182.7,61.0h0.9v0.9h-0.9zM182.6,64.1h0.9v0.9h-0.9zM182.6,63.1h0.9v0.9h-0.9zM177.9,61.3h0.9v0.9h-0.9zM182.6,61.1h0.9v0.9h-0.9zM179.3,64.3h0.9v0.9h-0.9zM173.3,63.2h0.9v0.9h-0.9zM179.1,62.1h0.9v0.9h-0.9zM175.7,61.8h0.9v0.9h-0.9zM179.9,62.1h0.9v0.9h-0.9zM182.1,62.5h0.9v0.9h-0.9zM178.3,63.3h0.9v0.9h-0.9zM181.8,63.7h0.9v0.9h-0.9zM177.7,63.2h0.9v0.9h-0.9zM178.4,63.9h0.9v0.9h-0.9zM182.1,62.3h0.9v0.9h-0.9zM177.0,64.1h0.9v0.9h-0.9zM181.5,64.5h0.9v0.9h-0.9zM179.6,63.2h0.9v0.9h-0.9zM178.8,62.2h0.9v0.9h-0.9zM172.5,62.6h0.9v0.9h-0.9zM176.4,62.6h0.9v0.9h-0.9zM175.8,63.3h0.9v0.9h-0.9zM174.5,64.1h0.9v0.9h-0.9zM172.1,63.5h0.9v0.9h-0.9zM173.6,63.4h0.9v0.9h-0.9zM177.6,61.4h0.9v0.9h-0.9zM175.8,62.9h0.9v0.9h-0.9zM178.1,63.1h0.9v0.9h-0.9zM172.9,63.8h0.9v0.9h-0.9zM182.9,61.2h0.9v0.9h-0.9zM180.8,63.3h0.9v0.9h-0.9zM182.6,61.4h0.9v0.9h-0.9zM182.7,61.0h0.9v0.9h-0.9zM177.9,63.2h0.9v0.9h-0.9zM180.8,64.3h0.9v0.9h-0.9zM172.7,63.0h0.9v0.9h-0.9zM182.2,61.6h0.9v0.9h-0.9zM178.9,64.3h0.9v0.9h-0.9zM181.9,61.2h0.9v0.9h-0.9zM181.1,62.7h0.9v0.9h-0.9zM178.5,62.8h0.9v0.9h-0.9zM181.6,62.3h0.9v0.9h-0.9zM179.9,63.5h0.9v0.9h-0.9zM178.0,63.2h0.9v0.9h-0.9zM176.6,64.2h0.9v0.9h-0.9zM182.5,63.0h0.9v0.9h-0.9zM172.0,63.1h0.9v0.9h-0.9zM181.2,62.9h0.9v0.9h-0.9zM179.5,63.9h0.9v0.9h-0.9zM172.4,62.2h0.9v0.9h-0.9zM179.7,61.1h0.9v0.9h-0.9zM172.1,64.0h0.9v0.9h-0.9zM175.0,63.6h0.9v0.9h-0.9zM172.5,62.7h0.9v0.9h-0.9zM176.7,63.8h0.9v0.9h-0.9zM181.6,63.6h0.9v0.9h-0.9zM180.7,61.9h0.9v0.9h-0.9zM178.4,62.6h0.9v0.9h-0.9zM179.2,64.4h0.9v0.9h-0.9zM173.5,63.4h0.9v0.9h-0.9zM181.2,63.8h0.9v0.9h-0.9zM182.6,62.1h0.9v0.9h-0.9zM182.0,61.7h0.9v0.9h-0.9zM182.4,60.8h0.9v0.9h-0.9zM179.8,64.2h0.9v0.9h-0.9zM179.7,61.0h0.9v0.9h-0.9zM180.9,61.6h0.9v0.9h-0.9zM177.8,62.9h0.9v0.9h-0.9zM173.9,63.9h0.9v0.9h-0.9zM175.4,62.1h0.9v0.9h-0.9zM172.2,63.4h0.9v0.9h-0.9zM172.6,63.5h0.9v0.9h-0.9zM174.6,63.8h0.9v0.9h-0.9zM181.1,61.5h0.9v0.9h-0.9zM180.9,61.3h0.9v0.9h-0.9zM173.1,62.7h0.9v0.9h-0.9zM171.9,64.0h0.9v0.9h-0.9zM173.7,63.9h0.9v0.9h-0.9zM181.1,61.9h0.9v0.9h-0.9zM178.5,61.8h0.9v0.9h-0.9zM180.4,64.0h0.9v0.9h-0.9zM182.4,63.5h0.9v0.9h-0.9zM180.9,62.0h0.9v0.9h-0.9zM172.4,63.9h0.9v0.9h-0.9zM180.0,63.4h0.9v0.9h-0.9zM181.6,60.9h0.9v0.9h-0.9zM180.7,61.2h0.9v0.9h-0.9zM177.2,63.7h0.9v0.9h-0.9zM180.8,64.2h0.9v0.9h-0.9zM182.7,64.5h0.9v0.9h-0.9zM181.8,60.9h0.9v0.9h-0.9zM181.4,63.9h0.9v0.9h-0.9zM176.3,63.7h0.9v0.9h-0.9zM177.7,63.9h0.9v0.9h-0.9zM177.5,63.4h0.9v0.9h-0.9zM175.0,61.8h0.9v0.9h-0.9zM182.0,61.4h0.9v0.9h-0.9zM179.4,63.5h0.9v0.9h-0.9zM171.8,63.7h0.9v0.9h-0.9zM181.6,63.5h0.9v0.9h-0.9zM182.8,63.8h0.9v0.9h-0.9zM173.7,62.0h0.9v0.9h-0.9zM181.3,61.7h0.9v0.9h-0.9zM174.9,63.9h0.9v0.9h-0.9zM190.4,64.2h0.9v0.9h-0.9zM188.7,60.5h0.9v0.9h-0.9zM183.9,63.7h0.9v0.9h-0.9zM185.2,63.4h0.9v0.9h-0.9zM182.9,61.8h0.9v0.9h-0.9zM189.5,63.1h0.9v0.9h-0.9zM189.8,63.4h0.9v0.9h-0.9zM188.4,64.4h0.9v0.9h-0.9zM188.3,61.3h0.9v0.9h-0.9zM188.7,61.9h0.9v0.9h-0.9zM185.5,63.3h0.9v0.9h-0.9zM188.8,60.3h0.9v0.9h-0.9zM191.3,60.4h0.9v0.9h-0.9zM189.2,61.2h0.9v0.9h-0.9zM187.9,62.6h0.9v0.9h-0.9zM186.1,63.3h0.9v0.9h-0.9zM191.0,62.5h0.9v0.9h-0.9zM183.3,62.5h0.9v0.9h-0.9zM191.4,61.8h0.9v0.9h-0.9zM182.1,61.9h0.9v0.9h-0.9zM184.6,62.5h0.9v0.9h-0.9zM183.5,64.4h0.9v0.9h-0.9zM190.6,60.2h0.9v0.9h-0.9zM191.4,60.3h0.9v0.9h-0.9zM182.1,63.7h0.9v0.9h-0.9zM194.2,37.6h0.9v0.9h-0.9zM208.2,48.0h0.9v0.9h-0.9zM199.5,61.0h0.9v0.9h-0.9zM204.5,54.5h0.9v0.9h-0.9zM188.5,37.5h0.9v0.9h-0.9zM172.8,57.8h0.9v0.9h-0.9zM187.0,64.5h0.9v0.9h-0.9zM203.8,47.3h0.9v0.9h-0.9zM258.4,43.9h0.9v0.9h-0.9zM261.8,56.2h0.9v0.9h-0.9zM257.9,46.2h0.9v0.9h-0.9zM259.8,43.4h0.9v0.9h-0.9zM260.0,50.4h0.9v0.9h-0.9zM260.8,56.5h0.9v0.9h-0.9zM259.7,49.3h0.9v0.9h-0.9zM262.7,44.5h0.9v0.9h-0.9zM259.2,53.0h0.9v0.9h-0.9zM262.2,49.2h0.9v0.9h-0.9zM261.3,39.7h0.9v0.9h-0.9zM261.2,43.4h0.9v0.9h-0.9zM259.8,45.4h0.9v0.9h-0.9zM259.0,52.9h0.9v0.9h-0.9zM263.1,51.5h0.9v0.9h-0.9zM262.5,50.5h0.9v0.9h-0.9zM258.8,46.0h0.9v0.9h-0.9zM259.5,44.3h0.9v0.9h-0.9zM259.1,42.0h0.9v0.9h-0.9zM260.2,37.3h0.9v0.9h-0.9zM261.8,55.2h0.9v0.9h-0.9zM258.2,57.4h0.9v0.9h-0.9zM260.1,55.7h0.9v0.9h-0.9zM257.9,40.8h0.9v0.9h-0.9zM258.4,42.7h0.9v0.9h-0.9zM258.9,41.8h0.9v0.9h-0.9zM261.0,49.7h0.9v0.9h-0.9zM259.9,43.9h0.9v0.9h-0.9zM257.7,38.9h0.9v0.9h-0.9zM258.5,43.1h0.9v0.9h-0.9zM261.9,52.2h0.9v0.9h-0.9zM259.2,41.7h0.9v0.9h-0.9zM258.6,52.4h0.9v0.9h-0.9zM262.0,47.2h0.9v0.9h-0.9zM262.7,45.5h0.9v0.9h-0.9zM261.0,49.7h0.9v0.9h-0.9zM258.7,51.3h0.9v0.9h-0.9zM257.4,46.1h0.9v0.9h-0.9zM259.5,39.6h0.9v0.9h-0.9zM259.4,43.2h0.9v0.9h-0.9zM260.4,42.4h0.9v0.9h-0.9zM259.0,42.9h0.9v0.9h-0.9zM258.9,46.5h0.9v0.9h-0.9zM260.9,51.2h0.9v0.9h-0.9zM260.3,48.0h0.9v0.9h-0.9zM259.8,42.2h0.9v0.9h-0.9zM259.3,42.3h0.9v0.9h-0.9zM258.3,45.6h0.9v0.9h-0.9zM259.6,46.7h0.9v0.9h-0.9zM259.2,47.2h0.9v0.9h-0.9zM261.1,43.9h0.9v0.9h-0.9zM259.8,54.0h0.9v0.9h-0.9zM260.5,52.7h0.9v0.9h-0.9zM261.7,46.1h0.9v0.9h-0.9zM261.7,55.8h0.9v0.9h-0.9zM259.7,57.4h0.9v0.9h-0.9zM261.7,54.1h0.9v0.9h-0.9zM260.6,56.6h0.9v0.9h-0.9zM259.0,58.0h0.9v0.9h-0.9zM261.0,37.6h0.9v0.9h-0.9zM262.3,54.8h0.9v0.9h-0.9zM258.0,46.6h0.9v0.9h-0.9zM258.4,48.7h0.9v0.9h-0.9zM259.8,44.1h0.9v0.9h-0.9zM260.0,36.4h0.9v0.9h-0.9zM258.2,44.5h0.9v0.9h-0.9zM260.2,41.5h0.9v0.9h-0.9zM257.8,48.5h0.9v0.9h-0.9zM258.4,39.3h0.9v0.9h-0.9zM261.9,52.6h0.9v0.9h-0.9zM258.9,41.1h0.9v0.9h-0.9zM257.9,45.5h0.9v0.9h-0.9zM260.1,51.4h0.9v0.9h-0.9zM257.5,45.2h0.9v0.9h-0.9zM259.3,36.0h0.9v0.9h-0.9zM260.5,40.8h0.9v0.9h-0.9zM259.8,40.8h0.9v0.9h-0.9zM259.2,43.9h0.9v0.9h-0.9zM258.8,41.8h0.9v0.9h-0.9zM261.8,52.8h0.9v0.9h-0.9zM260.3,36.3h0.9v0.9h-0.9zM260.7,46.1h0.9v0.9h-0.9zM261.0,37.9h0.9v0.9h-0.9zM262.4,56.3h0.9v0.9h-0.9zM258.8,40.4h0.9v0.9h-0.9zM258.3,45.9h0.9v0.9h-0.9zM258.7,55.0h0.9v0.9h-0.9zM262.3,43.1h0.9v0.9h-0.9zM259.8,55.7h0.9v0.9h-0.9zM260.2,47.6h0.9v0.9h-0.9zM260.7,38.8h0.9v0.9h-0.9zM261.8,42.0h0.9v0.9h-0.9zM261.4,46.4h0.9v0.9h-0.9zM260.0,43.5h0.9v0.9h-0.9zM259.4,50.2h0.9v0.9h-0.9zM259.1,41.0h0.9v0.9h-0.9zM257.8,43.4h0.9v0.9h-0.9zM259.9,39.3h0.9v0.9h-0.9zM260.8,39.3h0.9v0.9h-0.9zM261.4,47.4h0.9v0.9h-0.9zM261.8,42.0h0.9v0.9h-0.9zM260.8,41.5h0.9v0.9h-0.9zM258.9,45.7h0.9v0.9h-0.9zM259.9,55.9h0.9v0.9h-0.9zM259.2,57.0h0.9v0.9h-0.9zM257.5,49.8h0.9v0.9h-0.9zM259.5,54.1h0.9v0.9h-0.9zM261.1,40.8h0.9v0.9h-0.9zM261.6,50.7h0.9v0.9h-0.9zM257.8,41.0h0.9v0.9h-0.9zM259.2,51.4h0.9v0.9h-0.9zM260.4,36.1h0.9v0.9h-0.9zM259.7,43.5h0.9v0.9h-0.9zM260.3,54.8h0.9v0.9h-0.9zM259.5,43.2h0.9v0.9h-0.9zM260.6,46.9h0.9v0.9h-0.9zM258.9,44.9h0.9v0.9h-0.9zM260.5,48.1h0.9v0.9h-0.9zM261.8,56.0h0.9v0.9h-0.9zM257.7,44.9h0.9v0.9h-0.9zM261.1,43.4h0.9v0.9h-0.9zM259.6,36.7h0.9v0.9h-0.9zM260.3,39.9h0.9v0.9h-0.9zM261.0,45.6h0.9v0.9h-0.9zM261.5,45.7h0.9v0.9h-0.9zM257.7,44.9h0.9v0.9h-0.9zM261.8,40.6h0.9v0.9h-0.9zM261.1,45.9h0.9v0.9h-0.9zM258.7,46.8h0.9v0.9h-0.9zM262.2,41.7h0.9v0.9h-0.9zM257.7,44.7h0.9v0.9h-0.9zM261.4,48.8h0.9v0.9h-0.9zM258.4,46.7h0.9v0.9h-0.9zM261.5,44.9h0.9v0.9h-0.9zM258.9,56.1h0.9v0.9h-0.9zM260.4,40.4h0.9v0.9h-0.9zM259.7,38.7h0.9v0.9h-0.9zM262.3,51.9h0.9v0.9h-0.9zM261.1,46.4h0.9v0.9h-0.9zM261.3,54.1h0.9v0.9h-0.9zM260.5,56.8h0.9v0.9h-0.9zM261.6,49.1h0.9v0.9h-0.9zM262.2,54.3h0.9v0.9h-0.9zM261.4,38.0h0.9v0.9h-0.9zM261.5,52.6h0.9v0.9h-0.9zM260.0,39.1h0.9v0.9h-0.9zM261.3,39.5h0.9v0.9h-0.9zM259.6,44.4h0.9v0.9h-0.9zM260.9,52.3h0.9v0.9h-0.9zM260.2,56.7h0.9v0.9h-0.9zM260.2,57.4h0.9v0.9h-0.9zM259.8,36.9h0.9v0.9h-0.9zM258.4,54.8h0.9v0.9h-0.9zM261.4,45.5h0.9v0.9h-0.9zM262.6,39.5h0.9v0.9h-0.9zM260.9,38.5h0.9v0.9h-0.9zM259.5,47.3h0.9v0.9h-0.9zM258.0,47.2h0.9v0.9h-0.9zM258.5,54.0h0.9v0.9h-0.9zM261.0,53.3h0.9v0.9h-0.9zM259.5,45.2h0.9v0.9h-0.9zM261.3,49.9h0.9v0.9h-0.9zM261.1,41.6h0.9v0.9h-0.9zM258.9,37.7h0.9v0.9h-0.9zM263.1,51.5h0.9v0.9h-0.9zM258.0,48.7h0.9v0.9h-0.9zM262.1,38.8h0.9v0.9h-0.9zM258.7,41.5h0.9v0.9h-0.9zM261.7,54.3h0.9v0.9h-0.9zM259.2,38.7h0.9v0.9h-0.9zM258.7,40.1h0.9v0.9h-0.9zM261.9,55.2h0.9v0.9h-0.9zM258.4,47.5h0.9v0.9h-0.9zM260.1,52.3h0.9v0.9h-0.9zM259.7,51.5h0.9v0.9h-0.9zM258.3,55.9h0.9v0.9h-0.9zM257.5,54.4h0.9v0.9h-0.9zM259.3,44.2h0.9v0.9h-0.9zM261.1,39.1h0.9v0.9h-0.9zM261.8,44.7h0.9v0.9h-0.9zM259.0,55.7h0.9v0.9h-0.9zM259.8,49.9h0.9v0.9h-0.9zM259.1,57.4h0.9v0.9h-0.9zM262.5,46.2h0.9v0.9h-0.9zM259.4,47.3h0.9v0.9h-0.9zM261.2,39.3h0.9v0.9h-0.9zM262.3,51.4h0.9v0.9h-0.9zM258.6,44.9h0.9v0.9h-0.9zM258.2,40.8h0.9v0.9h-0.9zM259.6,55.1h0.9v0.9h-0.9zM257.5,53.5h0.9v0.9h-0.9zM259.9,56.4h0.9v0.9h-0.9zM259.8,42.8h0.9v0.9h-0.9zM261.5,54.4h0.9v0.9h-0.9zM257.9,40.1h0.9v0.9h-0.9zM258.9,38.2h0.9v0.9h-0.9zM262.4,50.5h0.9v0.9h-0.9zM259.1,43.0h0.9v0.9h-0.9zM259.3,54.3h0.9v0.9h-0.9zM260.9,39.2h0.9v0.9h-0.9zM260.9,56.6h0.9v0.9h-0.9zM260.3,56.4h0.9v0.9h-0.9zM261.8,39.3h0.9v0.9h-0.9zM259.7,50.5h0.9v0.9h-0.9zM258.9,57.7h0.9v0.9h-0.9zM262.3,46.2h0.9v0.9h-0.9zM260.6,44.3h0.9v0.9h-0.9zM260.2,38.5h0.9v0.9h-0.9zM262.7,49.1h0.9v0.9h-0.9zM260.1,40.8h0.9v0.9h-0.9zM260.4,45.1h0.9v0.9h-0.9zM258.1,43.9h0.9v0.9h-0.9zM259.0,46.4h0.9v0.9h-0.9zM259.1,38.6h0.9v0.9h-0.9zM259.7,41.7h0.9v0.9h-0.9zM261.5,36.6h0.9v0.9h-0.9zM259.6,54.8h0.9v0.9h-0.9zM258.1,53.6h0.9v0.9h-0.9zM261.5,36.4h0.9v0.9h-0.9zM259.9,50.8h0.9v0.9h-0.9zM261.2,53.1h0.9v0.9h-0.9zM259.6,56.7h0.9v0.9h-0.9zM261.2,57.5h0.9v0.9h-0.9zM257.6,56.0h0.9v0.9h-0.9zM258.6,52.3h0.9v0.9h-0.9zM260.9,36.9h0.9v0.9h-0.9zM259.3,55.9h0.9v0.9h-0.9zM262.0,50.1h0.9v0.9h-0.9zM258.3,44.8h0.9v0.9h-0.9zM261.9,51.4h0.9v0.9h-0.9zM262.5,42.6h0.9v0.9h-0.9zM257.6,55.5h0.9v0.9h-0.9zM259.9,37.6h0.9v0.9h-0.9zM259.0,38.2h0.9v0.9h-0.9zM262.8,47.8h0.9v0.9h-0.9zM258.4,39.9h0.9v0.9h-0.9zM258.0,40.4h0.9v0.9h-0.9zM259.9,47.7h0.9v0.9h-0.9zM258.2,56.9h0.9v0.9h-0.9zM259.0,57.7h0.9v0.9h-0.9zM261.1,42.3h0.9v0.9h-0.9zM258.5,40.3h0.9v0.9h-0.9zM261.3,51.4h0.9v0.9h-0.9zM259.3,57.6h0.9v0.9h-0.9zM257.8,51.9h0.9v0.9h-0.9zM261.4,43.4h0.9v0.9h-0.9zM260.3,44.7h0.9v0.9h-0.9zM261.7,49.9h0.9v0.9h-0.9zM261.5,49.0h0.9v0.9h-0.9zM261.9,55.6h0.9v0.9h-0.9zM261.8,48.9h0.9v0.9h-0.9zM257.9,49.3h0.9v0.9h-0.9zM262.6,42.2h0.9v0.9h-0.9zM261.2,43.4h0.9v0.9h-0.9zM257.5,50.1h0.9v0.9h-0.9zM259.9,57.9h0.9v0.9h-0.9zM259.7,40.7h0.9v0.9h-0.9zM262.4,54.1h0.9v0.9h-0.9zM258.0,55.7h0.9v0.9h-0.9zM260.2,37.2h0.9v0.9h-0.9zM260.6,50.3h0.9v0.9h-0.9zM258.5,52.8h0.9v0.9h-0.9zM262.1,40.2h0.9v0.9h-0.9zM258.4,38.2h0.9v0.9h-0.9zM258.5,48.8h0.9v0.9h-0.9zM259.7,57.5h0.9v0.9h-0.9zM261.3,36.6h0.9v0.9h-0.9zM261.1,39.4h0.9v0.9h-0.9zM260.6,52.8h0.9v0.9h-0.9zM260.6,45.3h0.9v0.9h-0.9zM258.9,57.8h0.9v0.9h-0.9zM261.4,39.5h0.9v0.9h-0.9zM261.4,41.9h0.9v0.9h-0.9zM262.8,47.7h0.9v0.9h-0.9zM258.2,54.2h0.9v0.9h-0.9zM260.1,40.0h0.9v0.9h-0.9zM262.1,54.2h0.9v0.9h-0.9zM262.4,49.5h0.9v0.9h-0.9zM261.3,55.3h0.9v0.9h-0.9zM258.6,43.3h0.9v0.9h-0.9zM261.9,47.5h0.9v0.9h-0.9zM261.3,57.9h0.9v0.9h-0.9zM258.2,37.6h0.9v0.9h-0.9zM259.7,41.2h0.9v0.9h-0.9zM262.4,54.1h0.9v0.9h-0.9zM259.3,45.5h0.9v0.9h-0.9zM258.6,55.8h0.9v0.9h-0.9zM262.4,54.8h0.9v0.9h-0.9zM258.9,36.8h0.9v0.9h-0.9zM261.5,53.7h0.9v0.9h-0.9zM260.8,50.2h0.9v0.9h-0.9zM261.1,54.3h0.9v0.9h-0.9zM258.6,51.3h0.9v0.9h-0.9zM258.1,41.2h0.9v0.9h-0.9zM262.0,54.0h0.9v0.9h-0.9zM262.4,40.2h0.9v0.9h-0.9zM257.7,55.0h0.9v0.9h-0.9zM257.9,46.8h0.9v0.9h-0.9zM259.8,57.5h0.9v0.9h-0.9zM259.6,56.3h0.9v0.9h-0.9zM260.0,39.7h0.9v0.9h-0.9zM260.2,50.8h0.9v0.9h-0.9zM259.5,36.4h0.9v0.9h-0.9zM259.0,46.5h0.9v0.9h-0.9zM260.2,48.9h0.9v0.9h-0.9zM259.6,52.7h0.9v0.9h-0.9zM262.7,48.8h0.9v0.9h-0.9zM261.0,49.8h0.9v0.9h-0.9zM262.1,40.3h0.9v0.9h-0.9zM257.9,45.4h0.9v0.9h-0.9zM258.3,56.5h0.9v0.9h-0.9zM258.6,49.0h0.9v0.9h-0.9zM260.3,57.5h0.9v0.9h-0.9zM258.4,42.5h0.9v0.9h-0.9zM259.6,45.3h0.9v0.9h-0.9zM261.6,42.6h0.9v0.9h-0.9zM258.4,54.0h0.9v0.9h-0.9zM258.6,53.6h0.9v0.9h-0.9zM257.8,48.0h0.9v0.9h-0.9zM262.1,56.4h0.9v0.9h-0.9zM259.9,41.8h0.9v0.9h-0.9zM260.5,48.8h0.9v0.9h-0.9zM259.1,49.8h0.9v0.9h-0.9zM260.7,44.5h0.9v0.9h-0.9zM259.5,40.5h0.9v0.9h-0.9zM260.3,53.4h0.9v0.9h-0.9zM260.5,52.6h0.9v0.9h-0.9zM258.6,44.2h0.9v0.9h-0.9zM257.8,43.0h0.9v0.9h-0.9zM258.1,54.4h0.9v0.9h-0.9zM259.6,56.6h0.9v0.9h-0.9zM258.2,54.0h0.9v0.9h-0.9zM258.5,54.3h0.9v0.9h-0.9zM258.7,43.1h0.9v0.9h-0.9zM261.4,43.7h0.9v0.9h-0.9zM262.3,46.6h0.9v0.9h-0.9zM258.8,39.8h0.9v0.9h-0.9zM259.0,43.1h0.9v0.9h-0.9zM259.6,47.3h0.9v0.9h-0.9zM261.3,46.8h0.9v0.9h-0.9zM261.6,42.2h0.9v0.9h-0.9zM258.9,36.8h0.9v0.9h-0.9zM260.6,57.8h0.9v0.9h-0.9zM259.0,52.3h0.9v0.9h-0.9zM257.7,43.9h0.9v0.9h-0.9zM260.5,57.6h0.9v0.9h-0.9zM260.5,53.1h0.9v0.9h-0.9zM260.7,56.7h0.9v0.9h-0.9zM259.5,42.5h0.9v0.9h-0.9zM261.9,53.5h0.9v0.9h-0.9zM260.5,38.8h0.9v0.9h-0.9zM258.6,52.4h0.9v0.9h-0.9zM261.1,53.9h0.9v0.9h-0.9zM261.9,45.9h0.9v0.9h-0.9zM262.0,44.7h0.9v0.9h-0.9zM261.1,36.6h0.9v0.9h-0.9zM260.9,53.7h0.9v0.9h-0.9zM261.6,43.7h0.9v0.9h-0.9zM260.9,44.1h0.9v0.9h-0.9zM258.7,52.1h0.9v0.9h-0.9zM261.8,47.9h0.9v0.9h-0.9zM257.6,55.2h0.9v0.9h-0.9zM260.4,52.7h0.9v0.9h-0.9zM258.8,43.1h0.9v0.9h-0.9zM260.6,52.0h0.9v0.9h-0.9zM260.3,41.9h0.9v0.9h-0.9zM262.9,43.8h0.9v0.9h-0.9zM261.7,38.4h0.9v0.9h-0.9zM261.1,42.2h0.9v0.9h-0.9zM257.4,53.9h0.9v0.9h-0.9zM258.4,45.3h0.9v0.9h-0.9zM262.0,38.4h0.9v0.9h-0.9zM262.6,53.8h0.9v0.9h-0.9zM258.9,44.4h0.9v0.9h-0.9zM261.9,44.7h0.9v0.9h-0.9zM261.1,44.4h0.9v0.9h-0.9zM257.7,56.1h0.9v0.9h-0.9zM259.1,41.8h0.9v0.9h-0.9zM259.0,36.3h0.9v0.9h-0.9zM259.4,54.0h0.9v0.9h-0.9zM260.2,42.4h0.9v0.9h-0.9zM258.9,46.0h0.9v0.9h-0.9zM262.1,53.4h0.9v0.9h-0.9zM258.0,41.3h0.9v0.9h-0.9zM259.2,51.6h0.9v0.9h-0.9zM258.6,51.8h0.9v0.9h-0.9zM258.8,42.9h0.9v0.9h-0.9zM258.2,44.9h0.9v0.9h-0.9zM257.9,53.0h0.9v0.9h-0.9zM260.9,51.6h0.9v0.9h-0.9zM259.7,51.1h0.9v0.9h-0.9zM260.1,53.4h0.9v0.9h-0.9zM261.3,42.0h0.9v0.9h-0.9zM259.3,56.2h0.9v0.9h-0.9zM260.4,56.8h0.9v0.9h-0.9zM259.2,56.8h0.9v0.9h-0.9zM259.0,54.2h0.9v0.9h-0.9zM259.0,37.9h0.9v0.9h-0.9zM261.4,41.7h0.9v0.9h-0.9zM259.3,49.7h0.9v0.9h-0.9zM260.4,54.7h0.9v0.9h-0.9zM260.5,48.6h0.9v0.9h-0.9zM260.3,57.6h0.9v0.9h-0.9zM259.0,41.5h0.9v0.9h-0.9zM260.1,56.0h0.9v0.9h-0.9zM259.6,39.7h0.9v0.9h-0.9zM260.6,52.0h0.9v0.9h-0.9zM259.0,44.4h0.9v0.9h-0.9zM260.3,51.3h0.9v0.9h-0.9zM258.7,42.1h0.9v0.9h-0.9zM257.8,49.8h0.9v0.9h-0.9zM260.8,52.7h0.9v0.9h-0.9zM261.1,52.1h0.9v0.9h-0.9zM258.7,48.2h0.9v0.9h-0.9zM260.8,54.7h0.9v0.9h-0.9zM258.9,38.6h0.9v0.9h-0.9zM258.5,54.1h0.9v0.9h-0.9zM260.4,51.1h0.9v0.9h-0.9zM261.3,42.6h0.9v0.9h-0.9zM257.9,51.8h0.9v0.9h-0.9zM261.0,60.5h0.9v0.9h-0.9zM257.9,61.2h0.9v0.9h-0.9zM263.5,63.2h0.9v0.9h-0.9zM258.9,61.0h0.9v0.9h-0.9zM267.0,61.6h0.9v0.9h-0.9zM266.1,62.2h0.9v0.9h-0.9zM265.3,62.3h0.9v0.9h-0.9zM255.8,62.3h0.9v0.9h-0.9zM260.7,61.6h0.9v0.9h-0.9zM264.9,62.5h0.9v0.9h-0.9zM261.8,60.0h0.9v0.9h-0.9zM260.5,59.3h0.9v0.9h-0.9zM265.5,62.7h0.9v0.9h-0.9zM259.3,61.5h0.9v0.9h-0.9zM261.2,62.0h0.9v0.9h-0.9zM255.0,61.5h0.9v0.9h-0.9zM258.8,60.2h0.9v0.9h-0.9zM259.8,63.6h0.9v0.9h-0.9zM263.6,62.9h0.9v0.9h-0.9zM261.6,61.3h0.9v0.9h-0.9zM261.8,63.1h0.9v0.9h-0.9zM263.6,62.8h0.9v0.9h-0.9zM258.0,63.8h0.9v0.9h-0.9zM266.6,62.5h0.9v0.9h-0.9zM266.5,61.4h0.9v0.9h-0.9zM260.5,62.4h0.9v0.9h-0.9zM259.1,63.5h0.9v0.9h-0.9zM263.0,59.7h0.9v0.9h-0.9zM267.1,61.2h0.9v0.9h-0.9zM261.2,60.3h0.9v0.9h-0.9zM264.4,61.9h0.9v0.9h-0.9zM258.0,60.9h0.9v0.9h-0.9zM258.3,61.5h0.9v0.9h-0.9zM265.0,60.7h0.9v0.9h-0.9zM258.6,62.4h0.9v0.9h-0.9zM257.8,61.9h0.9v0.9h-0.9zM264.9,60.9h0.9v0.9h-0.9zM260.9,62.6h0.9v0.9h-0.9zM263.5,61.3h0.9v0.9h-0.9zM257.1,63.6h0.9v0.9h-0.9zM259.5,59.4h0.9v0.9h-0.9zM262.2,62.1h0.9v0.9h-0.9zM262.1,62.4h0.9v0.9h-0.9zM257.8,60.6h0.9v0.9h-0.9zM258.4,61.0h0.9v0.9h-0.9zM260.3,63.0h0.9v0.9h-0.9zM260.4,63.5h0.9v0.9h-0.9zM255.9,61.5h0.9v0.9h-0.9zM263.9,63.6h0.9v0.9h-0.9zM258.0,60.2h0.9v0.9h-0.9zM258.7,60.2h0.9v0.9h-0.9zM263.0,62.8h0.9v0.9h-0.9zM259.3,61.0h0.9v0.9h-0.9zM265.5,61.9h0.9v0.9h-0.9zM255.6,61.4h0.9v0.9h-0.9zM258.1,60.4h0.9v0.9h-0.9zM258.7,63.5h0.9v0.9h-0.9zM263.7,63.1h0.9v0.9h-0.9zM254.8,61.7h0.9v0.9h-0.9zM263.5,63.2h0.9v0.9h-0.9zM255.3,61.6h0.9v0.9h-0.9zM256.8,59.9h0.9v0.9h-0.9zM266.7,61.5h0.9v0.9h-0.9zM259.4,60.7h0.9v0.9h-0.9zM257.5,63.8h0.9v0.9h-0.9zM262.7,60.2h0.9v0.9h-0.9zM258.7,62.4h0.9v0.9h-0.9zM257.7,62.1h0.9v0.9h-0.9zM261.2,59.8h0.9v0.9h-0.9zM264.7,61.6h0.9v0.9h-0.9zM255.7,60.6h0.9v0.9h-0.9zM260.9,61.5h0.9v0.9h-0.9zM259.0,61.6h0.9v0.9h-0.9zM259.4,60.6h0.9v0.9h-0.9zM267.3,62.0h0.9v0.9h-0.9zM259.4,60.3h0.9v0.9h-0.9zM258.0,61.0h0.9v0.9h-0.9zM259.5,63.8h0.9v0.9h-0.9zM261.2,60.5h0.9v0.9h-0.9zM263.3,61.4h0.9v0.9h-0.9zM259.9,59.9h0.9v0.9h-0.9zM256.6,61.3h0.9v0.9h-0.9zM261.5,60.6h0.9v0.9h-0.9zM260.8,60.0h0.9v0.9h-0.9zM261.1,62.5h0.9v0.9h-0.9zM260.6,63.1h0.9v0.9h-0.9zM256.0,60.0h0.9v0.9h-0.9zM264.0,62.3h0.9v0.9h-0.9zM266.6,62.5h0.9v0.9h-0.9zM259.1,59.2h0.9v0.9h-0.9zM257.8,60.4h0.9v0.9h-0.9zM263.5,63.1h0.9v0.9h-0.9zM263.1,61.8h0.9v0.9h-0.9zM265.9,61.8h0.9v0.9h-0.9zM260.3,61.5h0.9v0.9h-0.9zM265.5,62.8h0.9v0.9h-0.9zM265.7,61.4h0.9v0.9h-0.9zM258.3,59.7h0.9v0.9h-0.9zM264.0,60.3h0.9v0.9h-0.9zM258.0,62.0h0.9v0.9h-0.9zM258.5,64.1h0.9v0.9h-0.9zM254.3,62.1h0.9v0.9h-0.9zM257.3,62.5h0.9v0.9h-0.9zM255.2,62.1h0.9v0.9h-0.9zM255.3,62.3h0.9v0.9h-0.9zM254.8,61.6h0.9v0.9h-0.9zM260.2,59.9h0.9v0.9h-0.9zM265.6,60.9h0.9v0.9h-0.9zM255.5,62.6h0.9v0.9h-0.9zM256.8,61.0h0.9v0.9h-0.9zM257.3,61.3h0.9v0.9h-0.9zM257.3,62.3h0.9v0.9h-0.9zM265.2,60.6h0.9v0.9h-0.9zM265.0,62.5h0.9v0.9h-0.9zM263.0,61.4h0.9v0.9h-0.9zM261.5,59.8h0.9v0.9h-0.9zM256.7,62.8h0.9v0.9h-0.9zM255.8,63.0h0.9v0.9h-0.9zM259.7,60.5h0.9v0.9h-0.9zM261.4,62.6h0.9v0.9h-0.9zM257.2,61.3h0.9v0.9h-0.9zM265.8,62.8h0.9v0.9h-0.9zM266.0,62.1h0.9v0.9h-0.9zM265.5,62.8h0.9v0.9h-0.9zM261.8,61.1h0.9v0.9h-0.9zM262.6,61.5h0.9v0.9h-0.9zM256.3,63.0h0.9v0.9h-0.9zM260.1,60.3h0.9v0.9h-0.9zM255.4,61.0h0.9v0.9h-0.9zM257.2,59.9h0.9v0.9h-0.9zM260.7,59.9h0.9v0.9h-0.9zM259.2,63.3h0.9v0.9h-0.9zM255.9,60.2h0.9v0.9h-0.9zM258.6,60.3h0.9v0.9h-0.9zM257.4,64.1h0.9v0.9h-0.9zM260.4,61.9h0.9v0.9h-0.9zM262.7,61.0h0.9v0.9h-0.9zM259.9,62.1h0.9v0.9h-0.9zM257.9,62.3h0.9v0.9h-0.9zM256.3,60.0h0.9v0.9h-0.9zM261.1,61.3h0.9v0.9h-0.9zM263.4,63.4h0.9v0.9h-0.9zM262.4,63.5h0.9v0.9h-0.9zM263.1,60.5h0.9v0.9h-0.9zM258.8,62.7h0.9v0.9h-0.9zM265.8,62.0h0.9v0.9h-0.9zM259.6,59.8h0.9v0.9h-0.9zM259.6,60.5h0.9v0.9h-0.9zM257.2,60.8h0.9v0.9h-0.9zM263.2,60.5h0.9v0.9h-0.9zM266.9,62.0h0.9v0.9h-0.9zM260.0,61.5h0.9v0.9h-0.9zM260.5,59.7h0.9v0.9h-0.9zM255.4,61.3h0.9v0.9h-0.9zM266.1,62.7h0.9v0.9h-0.9zM265.7,61.7h0.9v0.9h-0.9zM262.2,61.8h0.9v0.9h-0.9zM256.6,60.4h0.9v0.9h-0.9zM257.9,59.7h0.9v0.9h-0.9zM259.3,63.0h0.9v0.9h-0.9zM263.9,61.8h0.9v0.9h-0.9zM264.4,60.3h0.9v0.9h-0.9zM266.8,62.8h0.9v0.9h-0.9zM265.3,61.2h0.9v0.9h-0.9zM259.8,59.6h0.9v0.9h-0.9zM256.9,60.0h0.9v0.9h-0.9zM257.5,63.1h0.9v0.9h-0.9zM266.7,62.1h0.9v0.9h-0.9zM258.2,61.0h0.9v0.9h-0.9zM260.2,61.8h0.9v0.9h-0.9zM255.4,60.4h0.9v0.9h-0.9zM255.3,61.3h0.9v0.9h-0.9zM263.1,59.9h0.9v0.9h-0.9zM258.0,61.9h0.9v0.9h-0.9zM261.5,62.0h0.9v0.9h-0.9zM255.5,61.5h0.9v0.9h-0.9zM265.2,62.8h0.9v0.9h-0.9zM260.2,63.4h0.9v0.9h-0.9zM257.5,61.0h0.9v0.9h-0.9zM257.4,62.2h0.9v0.9h-0.9zM257.1,59.6h0.9v0.9h-0.9zM266.6,60.6h0.9v0.9h-0.9zM257.5,60.0h0.9v0.9h-0.9zM258.9,60.4h0.9v0.9h-0.9zM257.6,59.6h0.9v0.9h-0.9zM259.6,63.7h0.9v0.9h-0.9zM261.1,63.2h0.9v0.9h-0.9zM256.9,62.7h0.9v0.9h-0.9zM262.0,60.6h0.9v0.9h-0.9zM259.2,61.0h0.9v0.9h-0.9zM256.7,62.4h0.9v0.9h-0.9zM259.0,63.6h0.9v0.9h-0.9zM263.1,62.6h0.9v0.9h-0.9zM266.1,61.8h0.9v0.9h-0.9zM257.9,59.6h0.9v0.9h-0.9zM256.9,63.5h0.9v0.9h-0.9zM263.8,61.7h0.9v0.9h-0.9zM260.6,60.4h0.9v0.9h-0.9zM254.3,62.5h0.9v0.9h-0.9zM262.2,62.5h0.9v0.9h-0.9zM260.1,62.4h0.9v0.9h-0.9zM258.0,61.0h0.9v0.9h-0.9zM259.6,61.1h0.9v0.9h-0.9zM260.8,60.2h0.9v0.9h-0.9zM262.7,60.3h0.9v0.9h-0.9zM264.1,62.7h0.9v0.9h-0.9zM255.5,62.0h0.9v0.9h-0.9zM262.6,63.9h0.9v0.9h-0.9zM261.1,59.6h0.9v0.9h-0.9zM258.5,60.9h0.9v0.9h-0.9zM258.5,61.5h0.9v0.9h-0.9zM257.0,59.9h0.9v0.9h-0.9zM263.2,61.1h0.9v0.9h-0.9zM261.8,62.2h0.9v0.9h-0.9zM262.3,62.4h0.9v0.9h-0.9zM255.7,62.7h0.9v0.9h-0.9zM263.0,62.2h0.9v0.9h-0.9zM261.1,61.0h0.9v0.9h-0.9zM256.0,62.7h0.9v0.9h-0.9zM259.1,61.5h0.9v0.9h-0.9zM265.7,62.6h0.9v0.9h-0.9zM260.6,60.3h0.9v0.9h-0.9zM256.8,60.1h0.9v0.9h-0.9zM264.0,62.1h0.9v0.9h-0.9zM258.1,60.2h0.9v0.9h-0.9zM266.1,60.4h0.9v0.9h-0.9zM262.4,60.1h0.9v0.9h-0.9zM262.6,61.2h0.9v0.9h-0.9zM259.8,61.9h0.9v0.9h-0.9zM255.7,60.0h0.9v0.9h-0.9zM271.9,39.5h0.9v0.9h-0.9zM267.1,48.4h0.9v0.9h-0.9zM276.0,43.3h0.9v0.9h-0.9zM269.9,47.2h0.9v0.9h-0.9zM271.7,50.1h0.9v0.9h-0.9zM271.8,52.5h0.9v0.9h-0.9zM267.6,42.9h0.9v0.9h-0.9zM278.8,53.4h0.9v0.9h-0.9zM271.0,51.1h0.9v0.9h-0.9zM267.3,55.9h0.9v0.9h-0.9zM280.8,50.2h0.9v0.9h-0.9zM268.8,50.1h0.9v0.9h-0.9zM266.1,38.5h0.9v0.9h-0.9zM269.1,51.6h0.9v0.9h-0.9zM269.6,40.6h0.9v0.9h-0.9zM277.0,52.6h0.9v0.9h-0.9zM266.6,38.0h0.9v0.9h-0.9zM272.9,45.5h0.9v0.9h-0.9zM273.8,41.2h0.9v0.9h-0.9zM282.7,47.8h0.9v0.9h-0.9zM266.3,41.0h0.9v0.9h-0.9zM271.8,51.1h0.9v0.9h-0.9zM275.1,48.8h0.9v0.9h-0.9zM268.2,50.9h0.9v0.9h-0.9zM274.1,46.4h0.9v0.9h-0.9zM267.8,48.8h0.9v0.9h-0.9zM269.8,46.7h0.9v0.9h-0.9zM266.2,43.5h0.9v0.9h-0.9zM271.2,46.5h0.9v0.9h-0.9zM277.1,47.9h0.9v0.9h-0.9zM275.5,40.6h0.9v0.9h-0.9zM270.1,47.0h0.9v0.9h-0.9zM266.2,44.4h0.9v0.9h-0.9zM272.0,49.1h0.9v0.9h-0.9zM277.9,51.6h0.9v0.9h-0.9zM270.5,38.6h0.9v0.9h-0.9zM276.9,47.1h0.9v0.9h-0.9zM275.3,49.6h0.9v0.9h-0.9zM272.4,52.5h0.9v0.9h-0.9zM275.1,50.3h0.9v0.9h-0.9zM282.6,51.4h0.9v0.9h-0.9zM271.3,49.1h0.9v0.9h-0.9zM281.7,45.8h0.9v0.9h-0.9zM276.0,50.7h0.9v0.9h-0.9zM268.1,51.7h0.9v0.9h-0.9zM264.9,42.3h0.9v0.9h-0.9zM272.0,36.7h0.9v0.9h-0.9zM283.1,45.6h0.9v0.9h-0.9zM269.3,46.3h0.9v0.9h-0.9zM273.4,43.5h0.9v0.9h-0.9zM279.2,40.5h0.9v0.9h-0.9zM265.6,38.1h0.9v0.9h-0.9zM274.6,39.3h0.9v0.9h-0.9zM265.5,54.7h0.9v0.9h-0.9zM275.5,53.1h0.9v0.9h-0.9zM271.0,40.7h0.9v0.9h-0.9zM273.3,46.7h0.9v0.9h-0.9zM267.0,38.5h0.9v0.9h-0.9zM265.3,48.0h0.9v0.9h-0.9zM281.4,39.3h0.9v0.9h-0.9zM277.4,46.5h0.9v0.9h-0.9zM274.0,40.0h0.9v0.9h-0.9zM267.8,47.8h0.9v0.9h-0.9zM275.7,51.9h0.9v0.9h-0.9zM276.7,55.2h0.9v0.9h-0.9zM275.1,48.2h0.9v0.9h-0.9zM280.0,48.6h0.9v0.9h-0.9zM281.5,47.2h0.9v0.9h-0.9zM271.6,43.0h0.9v0.9h-0.9zM273.8,46.8h0.9v0.9h-0.9zM267.3,50.7h0.9v0.9h-0.9zM274.4,45.1h0.9v0.9h-0.9zM265.1,41.3h0.9v0.9h-0.9zM278.0,52.1h0.9v0.9h-0.9zM270.6,50.3h0.9v0.9h-0.9zM278.5,49.1h0.9v0.9h-0.9zM274.7,37.5h0.9v0.9h-0.9zM271.1,50.4h0.9v0.9h-0.9zM272.0,48.8h0.9v0.9h-0.9zM274.3,52.6h0.9v0.9h-0.9zM273.9,53.4h0.9v0.9h-0.9zM269.5,43.0h0.9v0.9h-0.9zM273.7,47.7h0.9v0.9h-0.9zM265.8,45.2h0.9v0.9h-0.9zM268.0,40.8h0.9v0.9h-0.9zM273.1,42.4h0.9v0.9h-0.9zM270.8,51.4h0.9v0.9h-0.9zM272.9,49.1h0.9v0.9h-0.9zM280.8,57.0h0.9v0.9h-0.9zM268.6,38.9h0.9v0.9h-0.9zM270.2,45.3h0.9v0.9h-0.9zM268.1,41.3h0.9v0.9h-0.9zM264.2,46.8h0.9v0.9h-0.9zM275.8,40.6h0.9v0.9h-0.9zM272.5,37.9h0.9v0.9h-0.9zM278.2,45.2h0.9v0.9h-0.9zM275.1,53.3h0.9v0.9h-0.9zM263.4,47.7h0.9v0.9h-0.9zM271.2,51.4h0.9v0.9h-0.9zM267.4,42.7h0.9v0.9h-0.9zM282.3,42.9h0.9v0.9h-0.9zM275.6,45.0h0.9v0.9h-0.9zM277.1,43.3h0.9v0.9h-0.9zM266.0,37.1h0.9v0.9h-0.9zM267.2,50.1h0.9v0.9h-0.9zM272.4,41.8h0.9v0.9h-0.9zM277.5,43.8h0.9v0.9h-0.9zM282.2,44.2h0.9v0.9h-0.9zM269.5,57.4h0.9v0.9h-0.9zM268.1,47.9h0.9v0.9h-0.9zM276.3,42.8h0.9v0.9h-0.9zM264.7,42.6h0.9v0.9h-0.9zM272.6,46.8h0.9v0.9h-0.9zM268.9,52.5h0.9v0.9h-0.9zM271.1,54.4h0.9v0.9h-0.9zM271.1,44.3h0.9v0.9h-0.9zM269.8,44.7h0.9v0.9h-0.9zM274.4,51.3h0.9v0.9h-0.9zM280.0,37.9h0.9v0.9h-0.9zM275.2,46.1h0.9v0.9h-0.9zM264.1,41.4h0.9v0.9h-0.9zM263.0,52.0h0.9v0.9h-0.9zM273.3,49.0h0.9v0.9h-0.9zM270.9,47.6h0.9v0.9h-0.9zM267.3,48.3h0.9v0.9h-0.9zM270.9,50.2h0.9v0.9h-0.9zM274.6,41.9h0.9v0.9h-0.9zM266.2,38.9h0.9v0.9h-0.9zM274.5,37.5h0.9v0.9h-0.9zM270.6,46.7h0.9v0.9h-0.9zM268.1,38.0h0.9v0.9h-0.9zM265.2,46.8h0.9v0.9h-0.9zM277.5,45.0h0.9v0.9h-0.9zM278.2,49.0h0.9v0.9h-0.9zM269.7,44.8h0.9v0.9h-0.9zM271.8,43.1h0.9v0.9h-0.9zM268.2,54.1h0.9v0.9h-0.9zM277.5,40.6h0.9v0.9h-0.9zM269.3,50.9h0.9v0.9h-0.9zM265.1,39.6h0.9v0.9h-0.9zM277.2,40.1h0.9v0.9h-0.9zM268.5,47.6h0.9v0.9h-0.9zM267.9,51.3h0.9v0.9h-0.9zM284.5,43.6h0.9v0.9h-0.9zM265.1,39.3h0.9v0.9h-0.9zM281.4,52.7h0.9v0.9h-0.9zM264.2,55.6h0.9v0.9h-0.9zM265.6,46.3h0.9v0.9h-0.9zM269.1,39.3h0.9v0.9h-0.9zM271.7,44.4h0.9v0.9h-0.9zM272.1,49.8h0.9v0.9h-0.9zM264.7,48.4h0.9v0.9h-0.9zM269.1,52.3h0.9v0.9h-0.9zM278.7,48.9h0.9v0.9h-0.9zM272.4,37.4h0.9v0.9h-0.9zM265.0,51.5h0.9v0.9h-0.9zM275.8,41.7h0.9v0.9h-0.9zM282.7,41.8h0.9v0.9h-0.9zM273.2,52.0h0.9v0.9h-0.9zM266.2,42.4h0.9v0.9h-0.9zM272.2,43.3h0.9v0.9h-0.9zM270.4,48.4h0.9v0.9h-0.9zM279.0,49.6h0.9v0.9h-0.9zM269.0,52.3h0.9v0.9h-0.9zM275.2,51.4h0.9v0.9h-0.9zM263.2,43.4h0.9v0.9h-0.9zM272.2,44.2h0.9v0.9h-0.9zM281.2,51.7h0.9v0.9h-0.9zM272.0,50.2h0.9v0.9h-0.9zM272.9,40.8h0.9v0.9h-0.9zM285.4,38.7h0.9v0.9h-0.9zM279.0,47.6h0.9v0.9h-0.9zM267.9,43.1h0.9v0.9h-0.9zM264.0,51.4h0.9v0.9h-0.9zM282.2,54.3h0.9v0.9h-0.9zM271.2,48.8h0.9v0.9h-0.9zM278.0,43.3h0.9v0.9h-0.9zM280.1,48.9h0.9v0.9h-0.9zM284.8,56.3h0.9v0.9h-0.9zM264.4,50.4h0.9v0.9h-0.9zM284.4,39.9h0.9v0.9h-0.9zM269.7,38.8h0.9v0.9h-0.9zM276.3,39.9h0.9v0.9h-0.9zM276.8,38.5h0.9v0.9h-0.9zM267.6,45.1h0.9v0.9h-0.9zM276.0,48.1h0.9v0.9h-0.9zM274.7,42.8h0.9v0.9h-0.9zM283.3,47.6h0.9v0.9h-0.9zM271.1,45.6h0.9v0.9h-0.9zM287.8,53.6h0.9v0.9h-0.9zM284.3,54.4h0.9v0.9h-0.9zM263.0,42.0h0.9v0.9h-0.9zM278.3,38.5h0.9v0.9h-0.9zM266.1,43.0h0.9v0.9h-0.9zM276.6,42.4h0.9v0.9h-0.9zM265.5,51.2h0.9v0.9h-0.9zM277.6,50.4h0.9v0.9h-0.9zM266.5,47.1h0.9v0.9h-0.9zM278.9,43.2h0.9v0.9h-0.9zM267.3,38.9h0.9v0.9h-0.9zM276.7,49.4h0.9v0.9h-0.9zM274.4,57.5h0.9v0.9h-0.9zM266.6,49.5h0.9v0.9h-0.9zM270.6,51.4h0.9v0.9h-0.9zM266.4,47.1h0.9v0.9h-0.9zM284.9,60.8h0.9v0.9h-0.9zM281.2,62.2h0.9v0.9h-0.9zM276.7,62.7h0.9v0.9h-0.9zM272.1,59.2h0.9v0.9h-0.9zM282.1,62.9h0.9v0.9h-0.9zM272.5,58.4h0.9v0.9h-0.9zM278.5,58.1h0.9v0.9h-0.9zM268.6,60.8h0.9v0.9h-0.9zM277.6,59.1h0.9v0.9h-0.9zM284.3,59.2h0.9v0.9h-0.9zM269.0,60.3h0.9v0.9h-0.9zM285.7,58.6h0.9v0.9h-0.9zM282.2,58.4h0.9v0.9h-0.9zM275.5,58.9h0.9v0.9h-0.9zM268.1,61.3h0.9v0.9h-0.9zM274.0,58.0h0.9v0.9h-0.9zM275.3,58.2h0.9v0.9h-0.9zM280.7,63.1h0.9v0.9h-0.9zM275.3,62.9h0.9v0.9h-0.9zM275.6,62.6h0.9v0.9h-0.9zM273.5,63.2h0.9v0.9h-0.9zM268.2,62.0h0.9v0.9h-0.9zM276.2,58.5h0.9v0.9h-0.9zM285.0,58.4h0.9v0.9h-0.9zM283.1,60.3h0.9v0.9h-0.9zM272.7,58.4h0.9v0.9h-0.9zM280.4,62.2h0.9v0.9h-0.9zM274.4,58.2h0.9v0.9h-0.9zM277.5,63.8h0.9v0.9h-0.9zM280.3,58.8h0.9v0.9h-0.9zM280.3,62.4h0.9v0.9h-0.9zM278.0,60.7h0.9v0.9h-0.9zM277.8,58.6h0.9v0.9h-0.9zM281.5,61.0h0.9v0.9h-0.9zM268.3,60.7h0.9v0.9h-0.9zM269.8,60.1h0.9v0.9h-0.9zM281.0,59.7h0.9v0.9h-0.9zM273.7,63.3h0.9v0.9h-0.9zM269.2,62.7h0.9v0.9h-0.9zM279.6,61.1h0.9v0.9h-0.9zM271.5,31.8h0.9v0.9h-0.9zM270.2,34.2h0.9v0.9h-0.9zM266.5,35.0h0.9v0.9h-0.9zM283.5,42.5h0.9v0.9h-0.9zM287.2,47.5h0.9v0.9h-0.9z" fill="#111"/>
<text x="329.90" y="10.20" font-size="10.8" font-weight="bold" fill="#231f20" stroke="#231f20" stroke-width="0.3">B</text>
<text x="381.90" y="10.70" font-size="8.6" fill="#231f20" textLength="38.10" lengthAdjust="spacingAndGlyphs" stroke="#231f20" stroke-width="0.12">E11 AGM</text>
<line x1="375.70" y1="15.90" x2="375.70" y2="97.80" stroke="#231f20" stroke-width="0.95"/>
<line x1="375.70" y1="97.40" x2="424.00" y2="97.40" stroke="#231f20" stroke-width="0.95"/>
<line x1="372.70" y1="97.40" x2="375.70" y2="97.40" stroke="#231f20" stroke-width="0.85"/>
<text x="364.80" y="99.60" font-size="6.2" fill="#231f20" textLength="3.60" lengthAdjust="spacingAndGlyphs" stroke="#231f20" stroke-width="0.12">0</text>
<line x1="372.70" y1="77.75" x2="375.70" y2="77.75" stroke="#231f20" stroke-width="0.85"/>
<text x="357.60" y="79.95" font-size="6.2" fill="#231f20" textLength="10.80" lengthAdjust="spacingAndGlyphs" stroke="#231f20" stroke-width="0.12">500</text>
<line x1="372.70" y1="58.10" x2="375.70" y2="58.10" stroke="#231f20" stroke-width="0.85"/>
<text x="353.90" y="60.30" font-size="6.2" fill="#231f20" textLength="14.50" lengthAdjust="spacingAndGlyphs" stroke="#231f20" stroke-width="0.12">1000</text>
<line x1="372.70" y1="38.45" x2="375.70" y2="38.45" stroke="#231f20" stroke-width="0.85"/>
<text x="353.90" y="40.65" font-size="6.2" fill="#231f20" textLength="14.50" lengthAdjust="spacingAndGlyphs" stroke="#231f20" stroke-width="0.12">1500</text>
<line x1="372.70" y1="18.80" x2="375.70" y2="18.80" stroke="#231f20" stroke-width="0.85"/>
<text x="353.90" y="21.00" font-size="6.2" fill="#231f20" textLength="14.50" lengthAdjust="spacingAndGlyphs" stroke="#231f20" stroke-width="0.12">2000</text>
<rect x="382.90" y="71.46" width="14.10" height="25.94" fill="#c1c4df"/>
<rect x="382.90" y="55.15" width="14.10" height="16.31" fill="#7180b2"/>
<rect x="382.90" y="37.27" width="14.10" height="17.88" fill="#1b4a8a"/>
<line x1="389.95" y1="97.40" x2="389.95" y2="99.80" stroke="#231f20" stroke-width="0.85"/>
<rect x="404.60" y="75.39" width="14.30" height="22.01" fill="#c1c4df"/>
<rect x="404.60" y="70.68" width="14.30" height="4.72" fill="#7180b2"/>
<rect x="404.60" y="63.80" width="14.30" height="6.88" fill="#1b4a8a"/>
<line x1="411.75" y1="97.40" x2="411.75" y2="99.80" stroke="#231f20" stroke-width="0.85"/>
<line x1="390.00" y1="31.38" x2="390.00" y2="37.27" stroke="#231f20" stroke-width="0.85"/>
<line x1="387.40" y1="31.38" x2="392.60" y2="31.38" stroke="#231f20" stroke-width="0.85"/>
<line x1="390.00" y1="47.10" x2="390.00" y2="55.15" stroke="#231f20" stroke-width="0.85"/>
<line x1="387.40" y1="47.10" x2="392.60" y2="47.10" stroke="#231f20" stroke-width="0.85"/>
<line x1="390.00" y1="66.35" x2="390.00" y2="71.46" stroke="#231f20" stroke-width="0.85"/>
<line x1="387.40" y1="66.35" x2="392.60" y2="66.35" stroke="#231f20" stroke-width="0.85"/>
<line x1="411.70" y1="62.23" x2="411.70" y2="63.80" stroke="#231f20" stroke-width="0.85"/>
<line x1="409.10" y1="62.23" x2="414.30" y2="62.23" stroke="#231f20" stroke-width="0.85"/>
<line x1="411.70" y1="67.53" x2="411.70" y2="70.68" stroke="#231f20" stroke-width="0.85"/>
<line x1="409.10" y1="67.53" x2="414.30" y2="67.53" stroke="#231f20" stroke-width="0.85"/>
<line x1="411.70" y1="71.66" x2="411.70" y2="75.39" stroke="#231f20" stroke-width="0.85"/>
<line x1="409.10" y1="71.66" x2="414.30" y2="71.66" stroke="#231f20" stroke-width="0.85"/>
<line x1="390.00" y1="23.60" x2="411.60" y2="23.60" stroke="#231f20" stroke-width="0.85"/>
<line x1="390.00" y1="22.70" x2="390.00" y2="24.50" stroke="#231f20" stroke-width="0.65"/>
<line x1="411.60" y1="22.70" x2="411.60" y2="24.50" stroke="#231f20" stroke-width="0.65"/>
<text x="400.80" y="22.00" font-size="5.2" text-anchor="middle" fill="#231f20" stroke="#231f20" stroke-width="0.12">*</text>
<text transform="translate(347.60,77.40) rotate(-90)" x="0" y="0" font-size="7.4" font-weight="bold" stroke="#231f20" stroke-width="0.22" fill="#231f20" textLength="42.20" lengthAdjust="spacingAndGlyphs">Number of cells</text>
<text x="384.40" y="110.00" font-size="6.4" fill="#231f20" textLength="10.20" lengthAdjust="spacingAndGlyphs" stroke="#231f20" stroke-width="0.12">WT</text>
<text x="399.90" y="110.00" font-size="6.4" font-style="italic" fill="#231f20" textLength="23.30" lengthAdjust="spacingAndGlyphs" stroke="#231f20" stroke-width="0.12">Gata2<tspan font-size="3.6" dy="-2.6">+/−</tspan></text>
<rect x="436.00" y="16.40" width="5.80" height="5.80" fill="#1b4a8a"/>
<text x="445.70" y="21.60" font-size="6.4" fill="#231f20" textLength="48.30" lengthAdjust="spacingAndGlyphs" stroke="#231f20" stroke-width="0.12">Pre-HSC2/HSC *</text>
<rect x="436.00" y="26.90" width="5.80" height="5.80" fill="#7180b2"/>
<text x="445.70" y="32.10" font-size="6.4" fill="#231f20" textLength="26.60" lengthAdjust="spacingAndGlyphs" stroke="#231f20" stroke-width="0.12">Pre-HSC1</text>
<rect x="436.00" y="36.90" width="5.80" height="5.80" fill="#c1c4df"/>
<text x="445.70" y="42.10" font-size="6.4" fill="#231f20" textLength="24.30" lengthAdjust="spacingAndGlyphs" stroke="#231f20" stroke-width="0.12">Pro-HSC</text>
<text x="0.60" y="137.60" font-size="10.8" font-weight="bold" fill="#231f20" stroke="#231f20" stroke-width="0.3">C</text>
<rect x="30.80" y="186.00" width="11.07" height="5.00" fill="#f0951f"/>
<rect x="41.82" y="186.00" width="11.07" height="5.00" fill="#aabd8d"/>
<rect x="52.83" y="186.00" width="11.07" height="5.00" fill="#f0951f"/>
<rect x="63.85" y="186.00" width="11.07" height="5.00" fill="#f0951f"/>
<rect x="74.87" y="186.00" width="11.07" height="5.00" fill="#c0681f"/>
<rect x="85.88" y="186.00" width="11.07" height="5.00" fill="#c0681f"/>
<rect x="96.90" y="186.00" width="11.07" height="5.00" fill="#36a443"/>
<rect x="107.92" y="186.00" width="11.07" height="5.00" fill="#aabd8d"/>
<rect x="118.93" y="186.00" width="11.07" height="5.00" fill="#36a443"/>
<rect x="129.95" y="186.00" width="11.07" height="5.00" fill="#c0681f"/>
<rect x="140.97" y="186.00" width="11.07" height="5.00" fill="#aabd8d"/>
<rect x="151.98" y="186.00" width="11.07" height="5.00" fill="#c1132b"/>
<rect x="163.00" y="186.00" width="11.07" height="5.00" fill="#c1132b"/>
<rect x="174.02" y="186.00" width="11.07" height="5.00" fill="#c1132b"/>
<rect x="185.03" y="186.00" width="11.07" height="5.00" fill="#0b6450"/>
<rect x="196.05" y="186.00" width="11.07" height="5.00" fill="#36a443"/>
<rect x="207.07" y="186.00" width="11.07" height="5.00" fill="#0b6450"/>
<rect x="218.08" y="186.00" width="11.07" height="5.00" fill="#0b6450"/>
<path d="M41.82,186V191M52.83,186V191M63.85,186V191M74.87,186V191M85.88,186V191M96.90,186V191M107.92,186V191M118.93,186V191M129.95,186V191M140.97,186V191M151.98,186V191M163.00,186V191M174.02,186V191M185.03,186V191M196.05,186V191M207.07,186V191M218.08,186V191" stroke="#ffffff" stroke-opacity="0.45" stroke-width="0.5"/>
<path d="M36.31,185.90V172.40H47.33V185.90" fill="none" stroke="#4d4d4d" stroke-width="0.6"/>
<path d="M58.34,185.90V171.70H69.36V185.90" fill="none" stroke="#4d4d4d" stroke-width="0.6"/>
<path d="M102.41,185.90V176.20H113.42V185.90" fill="none" stroke="#4d4d4d" stroke-width="0.6"/>
<path d="M91.39,185.90V172.00H107.92V176.20" fill="none" stroke="#4d4d4d" stroke-width="0.6"/>
<path d="M80.38,185.90V169.20H99.65V172.00" fill="none" stroke="#4d4d4d" stroke-width="0.6"/>
<path d="M135.46,185.90V172.60H146.47V185.90" fill="none" stroke="#4d4d4d" stroke-width="0.6"/>
<path d="M124.44,185.90V168.50H140.97V172.60" fill="none" stroke="#4d4d4d" stroke-width="0.6"/>
<path d="M90.01,169.20V165.40H132.70V168.50" fill="none" stroke="#4d4d4d" stroke-width="0.6"/>
<path d="M63.85,171.70V163.50H111.36V165.40" fill="none" stroke="#4d4d4d" stroke-width="0.6"/>
<path d="M41.82,172.40V161.20H87.60V163.50" fill="none" stroke="#4d4d4d" stroke-width="0.6"/>
<path d="M157.49,185.90V170.70H168.51V185.90" fill="none" stroke="#4d4d4d" stroke-width="0.6"/>
<path d="M179.53,185.90V173.80H190.54V185.90" fill="none" stroke="#4d4d4d" stroke-width="0.6"/>
<path d="M212.57,185.90V174.50H223.59V185.90" fill="none" stroke="#4d4d4d" stroke-width="0.6"/>
<path d="M201.56,185.90V172.20H218.08V174.50" fill="none" stroke="#4d4d4d" stroke-width="0.6"/>
<path d="M185.03,173.80V167.10H209.82V172.20" fill="none" stroke="#4d4d4d" stroke-width="0.6"/>
<path d="M163.00,170.70V160.10H197.43V167.10" fill="none" stroke="#4d4d4d" stroke-width="0.6"/>
<path d="M64.71,161.20V148.00H180.21V160.10" fill="none" stroke="#4d4d4d" stroke-width="0.6"/>
<g shape-rendering="crispEdges"><rect x="30.80" y="193.00" width="11.08" height="4.29" fill="#2e49a5"/><rect x="41.82" y="193.00" width="11.08" height="4.29" fill="#a9aedb"/><rect x="52.83" y="193.00" width="11.08" height="4.29" fill="#2e49a5"/><rect x="63.85" y="193.00" width="11.08" height="4.29" fill="#5b71bd"/><rect x="74.87" y="193.00" width="11.08" height="4.29" fill="#2e49a5"/><rect x="85.88" y="193.00" width="11.08" height="4.29" fill="#5b71bd"/><rect x="96.90" y="193.00" width="11.08" height="4.29" fill="#f7f4f7"/><rect x="107.92" y="193.00" width="11.08" height="4.29" fill="#f7f4f7"/><rect x="118.93" y="193.00" width="11.08" height="4.29" fill="#5b71bd"/><rect x="129.95" y="193.00" width="11.08" height="4.29" fill="#2e49a5"/><rect x="140.97" y="193.00" width="11.08" height="4.29" fill="#a9aedb"/><rect x="151.98" y="193.00" width="11.08" height="4.29" fill="#e52e30"/><rect x="163.00" y="193.00" width="11.08" height="4.29" fill="#e52e30"/><rect x="174.02" y="193.00" width="11.08" height="4.29" fill="#e52e30"/><rect x="185.03" y="193.00" width="11.08" height="4.29" fill="#e52e30"/><rect x="196.05" y="193.00" width="11.08" height="4.29" fill="#f2a8a9"/><rect x="207.07" y="193.00" width="11.08" height="4.29" fill="#e52e30"/><rect x="218.08" y="193.00" width="11.08" height="4.29" fill="#e52e30"/><rect x="30.80" y="197.24" width="11.08" height="4.29" fill="#2e49a5"/><rect x="41.82" y="197.24" width="11.08" height="4.29" fill="#a9aedb"/><rect x="52.83" y="197.24" width="11.08" height="4.29" fill="#2e49a5"/><rect x="63.85" y="197.24" width="11.08" height="4.29" fill="#2e49a5"/><rect x="74.87" y="197.24" width="11.08" height="4.29" fill="#5b71bd"/><rect x="85.88" y="197.24" width="11.08" height="4.29" fill="#f2a8a9"/><rect x="96.90" y="197.24" width="11.08" height="4.29" fill="#f7f4f7"/><rect x="107.92" y="197.24" width="11.08" height="4.29" fill="#f7f4f7"/><rect x="118.93" y="197.24" width="11.08" height="4.29" fill="#a9aedb"/><rect x="129.95" y="197.24" width="11.08" height="4.29" fill="#a9aedb"/><rect x="140.97" y="197.24" width="11.08" height="4.29" fill="#f7f4f7"/><rect x="151.98" y="197.24" width="11.08" height="4.29" fill="#e52e30"/><rect x="163.00" y="197.24" width="11.08" height="4.29" fill="#ec6565"/><rect x="174.02" y="197.24" width="11.08" height="4.29" fill="#ec6565"/><rect x="185.03" y="197.24" width="11.08" height="4.29" fill="#ec6565"/><rect x="196.05" y="197.24" width="11.08" height="4.29" fill="#f7f4f7"/><rect x="207.07" y="197.24" width="11.08" height="4.29" fill="#f2a8a9"/><rect x="218.08" y="197.24" width="11.08" height="4.29" fill="#e52e30"/><rect x="30.80" y="201.47" width="11.08" height="4.29" fill="#a9aedb"/><rect x="41.82" y="201.47" width="11.08" height="4.29" fill="#f7f4f7"/><rect x="52.83" y="201.47" width="11.08" height="4.29" fill="#2e49a5"/><rect x="63.85" y="201.47" width="11.08" height="4.29" fill="#2e49a5"/><rect x="74.87" y="201.47" width="11.08" height="4.29" fill="#2e49a5"/><rect x="85.88" y="201.47" width="11.08" height="4.29" fill="#a9aedb"/><rect x="96.90" y="201.47" width="11.08" height="4.29" fill="#a9aedb"/><rect x="107.92" y="201.47" width="11.08" height="4.29" fill="#a9aedb"/><rect x="118.93" y="201.47" width="11.08" height="4.29" fill="#5b71bd"/><rect x="129.95" y="201.47" width="11.08" height="4.29" fill="#a9aedb"/><rect x="140.97" y="201.47" width="11.08" height="4.29" fill="#f7f4f7"/><rect x="151.98" y="201.47" width="11.08" height="4.29" fill="#e52e30"/><rect x="163.00" y="201.47" width="11.08" height="4.29" fill="#ec6565"/><rect x="174.02" y="201.47" width="11.08" height="4.29" fill="#ec6565"/><rect x="185.03" y="201.47" width="11.08" height="4.29" fill="#ec6565"/><rect x="196.05" y="201.47" width="11.08" height="4.29" fill="#f2a8a9"/><rect x="207.07" y="201.47" width="11.08" height="4.29" fill="#ec6565"/><rect x="218.08" y="201.47" width="11.08" height="4.29" fill="#e52e30"/><rect x="30.80" y="205.71" width="11.08" height="4.29" fill="#2e49a5"/><rect x="41.82" y="205.71" width="11.08" height="4.29" fill="#5b71bd"/><rect x="52.83" y="205.71" width="11.08" height="4.29" fill="#2e49a5"/><rect x="63.85" y="205.71" width="11.08" height="4.29" fill="#a9aedb"/><rect x="74.87" y="205.71" width="11.08" height="4.29" fill="#f2a8a9"/><rect x="85.88" y="205.71" width="11.08" height="4.29" fill="#f4bebf"/><rect x="96.90" y="205.71" width="11.08" height="4.29" fill="#f4bebf"/><rect x="107.92" y="205.71" width="11.08" height="4.29" fill="#f4bebf"/><rect x="118.93" y="205.71" width="11.08" height="4.29" fill="#f4bebf"/><rect x="129.95" y="205.71" width="11.08" height="4.29" fill="#a9aedb"/><rect x="140.97" y="205.71" width="11.08" height="4.29" fill="#f2a8a9"/><rect x="151.98" y="205.71" width="11.08" height="4.29" fill="#f2a8a9"/><rect x="163.00" y="205.71" width="11.08" height="4.29" fill="#f2a8a9"/><rect x="174.02" y="205.71" width="11.08" height="4.29" fill="#e52e30"/><rect x="185.03" y="205.71" width="11.08" height="4.29" fill="#f2a8a9"/><rect x="196.05" y="205.71" width="11.08" height="4.29" fill="#f7f4f7"/><rect x="207.07" y="205.71" width="11.08" height="4.29" fill="#f2a8a9"/><rect x="218.08" y="205.71" width="11.08" height="4.29" fill="#ec6565"/><rect x="30.80" y="209.94" width="11.08" height="4.29" fill="#2e49a5"/><rect x="41.82" y="209.94" width="11.08" height="4.29" fill="#5b71bd"/><rect x="52.83" y="209.94" width="11.08" height="4.29" fill="#2e49a5"/><rect x="63.85" y="209.94" width="11.08" height="4.29" fill="#2e49a5"/><rect x="74.87" y="209.94" width="11.08" height="4.29" fill="#a9aedb"/><rect x="85.88" y="209.94" width="11.08" height="4.29" fill="#f4bebf"/><rect x="96.90" y="209.94" width="11.08" height="4.29" fill="#f4bebf"/><rect x="107.92" y="209.94" width="11.08" height="4.29" fill="#f4bebf"/><rect x="118.93" y="209.94" width="11.08" height="4.29" fill="#f4bebf"/><rect x="129.95" y="209.94" width="11.08" height="4.29" fill="#a9aedb"/><rect x="140.97" y="209.94" width="11.08" height="4.29" fill="#f7f4f7"/><rect x="151.98" y="209.94" width="11.08" height="4.29" fill="#ec6565"/><rect x="163.00" y="209.94" width="11.08" height="4.29" fill="#f2a8a9"/><rect x="174.02" y="209.94" width="11.08" height="4.29" fill="#ec6565"/><rect x="185.03" y="209.94" width="11.08" height="4.29" fill="#ec6565"/><rect x="196.05" y="209.94" width="11.08" height="4.29" fill="#f2a8a9"/><rect x="207.07" y="209.94" width="11.08" height="4.29" fill="#ec6565"/><rect x="218.08" y="209.94" width="11.08" height="4.29" fill="#ec6565"/><rect x="30.80" y="214.18" width="11.08" height="4.29" fill="#2e49a5"/><rect x="41.82" y="214.18" width="11.08" height="4.29" fill="#5b71bd"/><rect x="52.83" y="214.18" width="11.08" height="4.29" fill="#5b71bd"/><rect x="63.85" y="214.18" width="11.08" height="4.29" fill="#2e49a5"/><rect x="74.87" y="214.18" width="11.08" height="4.29" fill="#a9aedb"/><rect x="85.88" y="214.18" width="11.08" height="4.29" fill="#f7f4f7"/><rect x="96.90" y="214.18" width="11.08" height="4.29" fill="#f7f4f7"/><rect x="107.92" y="214.18" width="11.08" height="4.29" fill="#f7f4f7"/><rect x="118.93" y="214.18" width="11.08" height="4.29" fill="#f4bebf"/><rect x="129.95" y="214.18" width="11.08" height="4.29" fill="#f7f4f7"/><rect x="140.97" y="214.18" width="11.08" height="4.29" fill="#f7f4f7"/><rect x="151.98" y="214.18" width="11.08" height="4.29" fill="#ec6565"/><rect x="163.00" y="214.18" width="11.08" height="4.29" fill="#f2a8a9"/><rect x="174.02" y="214.18" width="11.08" height="4.29" fill="#e52e30"/><rect x="185.03" y="214.18" width="11.08" height="4.29" fill="#ec6565"/><rect x="196.05" y="214.18" width="11.08" height="4.29" fill="#f2a8a9"/><rect x="207.07" y="214.18" width="11.08" height="4.29" fill="#ec6565"/><rect x="218.08" y="214.18" width="11.08" height="4.29" fill="#ec6565"/><rect x="30.80" y="218.41" width="11.08" height="4.29" fill="#2e49a5"/><rect x="41.82" y="218.41" width="11.08" height="4.29" fill="#a9aedb"/><rect x="52.83" y="218.41" width="11.08" height="4.29" fill="#5b71bd"/><rect x="63.85" y="218.41" width="11.08" height="4.29" fill="#2e49a5"/><rect x="74.87" y="218.41" width="11.08" height="4.29" fill="#a9aedb"/><rect x="85.88" y="218.41" width="11.08" height="4.29" fill="#f4bebf"/><rect x="96.90" y="218.41" width="11.08" height="4.29" fill="#f4bebf"/><rect x="107.92" y="218.41" width="11.08" height="4.29" fill="#f7f4f7"/><rect x="118.93" y="218.41" width="11.08" height="4.29" fill="#f4bebf"/><rect x="129.95" y="218.41" width="11.08" height="4.29" fill="#a9aedb"/><rect x="140.97" y="218.41" width="11.08" height="4.29" fill="#f2a8a9"/><rect x="151.98" y="218.41" width="11.08" height="4.29" fill="#ec6565"/><rect x="163.00" y="218.41" width="11.08" height="4.29" fill="#f7f4f7"/><rect x="174.02" y="218.41" width="11.08" height="4.29" fill="#ec6565"/><rect x="185.03" y="218.41" width="11.08" height="4.29" fill="#ec6565"/><rect x="196.05" y="218.41" width="11.08" height="4.29" fill="#f2a8a9"/><rect x="207.07" y="218.41" width="11.08" height="4.29" fill="#ec6565"/><rect x="218.08" y="218.41" width="11.08" height="4.29" fill="#ec6565"/><rect x="30.80" y="222.65" width="11.08" height="4.29" fill="#2e49a5"/><rect x="41.82" y="222.65" width="11.08" height="4.29" fill="#5b71bd"/><rect x="52.83" y="222.65" width="11.08" height="4.29" fill="#5b71bd"/><rect x="63.85" y="222.65" width="11.08" height="4.29" fill="#2e49a5"/><rect x="74.87" y="222.65" width="11.08" height="4.29" fill="#a9aedb"/><rect x="85.88" y="222.65" width="11.08" height="4.29" fill="#f4bebf"/><rect x="96.90" y="222.65" width="11.08" height="4.29" fill="#f4bebf"/><rect x="107.92" y="222.65" width="11.08" height="4.29" fill="#f4bebf"/><rect x="118.93" y="222.65" width="11.08" height="4.29" fill="#f4bebf"/><rect x="129.95" y="222.65" width="11.08" height="4.29" fill="#f7f4f7"/><rect x="140.97" y="222.65" width="11.08" height="4.29" fill="#f2a8a9"/><rect x="151.98" y="222.65" width="11.08" height="4.29" fill="#ec6565"/><rect x="163.00" y="222.65" width="11.08" height="4.29" fill="#f2a8a9"/><rect x="174.02" y="222.65" width="11.08" height="4.29" fill="#ec6565"/><rect x="185.03" y="222.65" width="11.08" height="4.29" fill="#ec6565"/><rect x="196.05" y="222.65" width="11.08" height="4.29" fill="#f7f4f7"/><rect x="207.07" y="222.65" width="11.08" height="4.29" fill="#ec6565"/><rect x="218.08" y="222.65" width="11.08" height="4.29" fill="#ec6565"/><rect x="30.80" y="226.88" width="11.08" height="4.29" fill="#2e49a5"/><rect x="41.82" y="226.88" width="11.08" height="4.29" fill="#f7f4f7"/><rect x="52.83" y="226.88" width="11.08" height="4.29" fill="#2e49a5"/><rect x="63.85" y="226.88" width="11.08" height="4.29" fill="#2e49a5"/><rect x="74.87" y="226.88" width="11.08" height="4.29" fill="#2e49a5"/><rect x="85.88" y="226.88" width="11.08" height="4.29" fill="#f7f4f7"/><rect x="96.90" y="226.88" width="11.08" height="4.29" fill="#f4bebf"/><rect x="107.92" y="226.88" width="11.08" height="4.29" fill="#f4bebf"/><rect x="118.93" y="226.88" width="11.08" height="4.29" fill="#f7f4f7"/><rect x="129.95" y="226.88" width="11.08" height="4.29" fill="#f7f4f7"/><rect x="140.97" y="226.88" width="11.08" height="4.29" fill="#f2a8a9"/><rect x="151.98" y="226.88" width="11.08" height="4.29" fill="#e52e30"/><rect x="163.00" y="226.88" width="11.08" height="4.29" fill="#e52e30"/><rect x="174.02" y="226.88" width="11.08" height="4.29" fill="#e52e30"/><rect x="185.03" y="226.88" width="11.08" height="4.29" fill="#e52e30"/><rect x="196.05" y="226.88" width="11.08" height="4.29" fill="#f7f4f7"/><rect x="207.07" y="226.88" width="11.08" height="4.29" fill="#e52e30"/><rect x="218.08" y="226.88" width="11.08" height="4.29" fill="#e52e30"/><rect x="30.80" y="231.12" width="11.08" height="4.29" fill="#2e49a5"/><rect x="41.82" y="231.12" width="11.08" height="4.29" fill="#5b71bd"/><rect x="52.83" y="231.12" width="11.08" height="4.29" fill="#5b71bd"/><rect x="63.85" y="231.12" width="11.08" height="4.29" fill="#2e49a5"/><rect x="74.87" y="231.12" width="11.08" height="4.29" fill="#2e49a5"/><rect x="85.88" y="231.12" width="11.08" height="4.29" fill="#f4bebf"/><rect x="96.90" y="231.12" width="11.08" height="4.29" fill="#f7f4f7"/><rect x="107.92" y="231.12" width="11.08" height="4.29" fill="#f7f4f7"/><rect x="118.93" y="231.12" width="11.08" height="4.29" fill="#a9aedb"/><rect x="129.95" y="231.12" width="11.08" height="4.29" fill="#f7f4f7"/><rect x="140.97" y="231.12" width="11.08" height="4.29" fill="#f7f4f7"/><rect x="151.98" y="231.12" width="11.08" height="4.29" fill="#ec6565"/><rect x="163.00" y="231.12" width="11.08" height="4.29" fill="#ec6565"/><rect x="174.02" y="231.12" width="11.08" height="4.29" fill="#e52e30"/><rect x="185.03" y="231.12" width="11.08" height="4.29" fill="#ec6565"/><rect x="196.05" y="231.12" width="11.08" height="4.29" fill="#f2a8a9"/><rect x="207.07" y="231.12" width="11.08" height="4.29" fill="#ec6565"/><rect x="218.08" y="231.12" width="11.08" height="4.29" fill="#e52e30"/><rect x="30.80" y="235.35" width="11.08" height="4.29" fill="#2e49a5"/><rect x="41.82" y="235.35" width="11.08" height="4.29" fill="#5b71bd"/><rect x="52.83" y="235.35" width="11.08" height="4.29" fill="#2e49a5"/><rect x="63.85" y="235.35" width="11.08" height="4.29" fill="#2e49a5"/><rect x="74.87" y="235.35" width="11.08" height="4.29" fill="#2e49a5"/><rect x="85.88" y="235.35" width="11.08" height="4.29" fill="#f4bebf"/><rect x="96.90" y="235.35" width="11.08" height="4.29" fill="#f7f4f7"/><rect x="107.92" y="235.35" width="11.08" height="4.29" fill="#f7f4f7"/><rect x="118.93" y="235.35" width="11.08" height="4.29" fill="#f7f4f7"/><rect x="129.95" y="235.35" width="11.08" height="4.29" fill="#f2a8a9"/><rect x="140.97" y="235.35" width="11.08" height="4.29" fill="#f2a8a9"/><rect x="151.98" y="235.35" width="11.08" height="4.29" fill="#ec6565"/><rect x="163.00" y="235.35" width="11.08" height="4.29" fill="#f2a8a9"/><rect x="174.02" y="235.35" width="11.08" height="4.29" fill="#ec6565"/><rect x="185.03" y="235.35" width="11.08" height="4.29" fill="#ec6565"/><rect x="196.05" y="235.35" width="11.08" height="4.29" fill="#f2a8a9"/><rect x="207.07" y="235.35" width="11.08" height="4.29" fill="#f2a8a9"/><rect x="218.08" y="235.35" width="11.08" height="4.29" fill="#ec6565"/><rect x="30.80" y="239.59" width="11.08" height="4.29" fill="#5b71bd"/><rect x="41.82" y="239.59" width="11.08" height="4.29" fill="#e52e30"/><rect x="52.83" y="239.59" width="11.08" height="4.29" fill="#e52e30"/><rect x="63.85" y="239.59" width="11.08" height="4.29" fill="#5b71bd"/><rect x="74.87" y="239.59" width="11.08" height="4.29" fill="#5b71bd"/><rect x="85.88" y="239.59" width="11.08" height="4.29" fill="#5b71bd"/><rect x="96.90" y="239.59" width="11.08" height="4.29" fill="#5b71bd"/><rect x="107.92" y="239.59" width="11.08" height="4.29" fill="#5b71bd"/><rect x="118.93" y="239.59" width="11.08" height="4.29" fill="#e52e30"/><rect x="129.95" y="239.59" width="11.08" height="4.29" fill="#e52e30"/><rect x="140.97" y="239.59" width="11.08" height="4.29" fill="#f7f4f7"/><rect x="151.98" y="239.59" width="11.08" height="4.29" fill="#ec6565"/><rect x="163.00" y="239.59" width="11.08" height="4.29" fill="#5b71bd"/><rect x="174.02" y="239.59" width="11.08" height="4.29" fill="#a9aedb"/><rect x="185.03" y="239.59" width="11.08" height="4.29" fill="#5b71bd"/><rect x="196.05" y="239.59" width="11.08" height="4.29" fill="#ec6565"/><rect x="207.07" y="239.59" width="11.08" height="4.29" fill="#f2a8a9"/><rect x="218.08" y="239.59" width="11.08" height="4.29" fill="#ec6565"/><rect x="30.80" y="243.82" width="11.08" height="4.29" fill="#a9aedb"/><rect x="41.82" y="243.82" width="11.08" height="4.29" fill="#ec6565"/><rect x="52.83" y="243.82" width="11.08" height="4.29" fill="#a9aedb"/><rect x="63.85" y="243.82" width="11.08" height="4.29" fill="#a9aedb"/><rect x="74.87" y="243.82" width="11.08" height="4.29" fill="#a9aedb"/><rect x="85.88" y="243.82" width="11.08" height="4.29" fill="#a9aedb"/><rect x="96.90" y="243.82" width="11.08" height="4.29" fill="#a9aedb"/><rect x="107.92" y="243.82" width="11.08" height="4.29" fill="#a9aedb"/><rect x="118.93" y="243.82" width="11.08" height="4.29" fill="#a9aedb"/><rect x="129.95" y="243.82" width="11.08" height="4.29" fill="#5b71bd"/><rect x="140.97" y="243.82" width="11.08" height="4.29" fill="#5b71bd"/><rect x="151.98" y="243.82" width="11.08" height="4.29" fill="#e52e30"/><rect x="163.00" y="243.82" width="11.08" height="4.29" fill="#e52e30"/><rect x="174.02" y="243.82" width="11.08" height="4.29" fill="#e52e30"/><rect x="185.03" y="243.82" width="11.08" height="4.29" fill="#ec6565"/><rect x="196.05" y="243.82" width="11.08" height="4.29" fill="#5b71bd"/><rect x="207.07" y="243.82" width="11.08" height="4.29" fill="#a9aedb"/><rect x="218.08" y="243.82" width="11.08" height="4.29" fill="#e52e30"/><rect x="30.80" y="248.06" width="11.08" height="4.29" fill="#5b71bd"/><rect x="41.82" y="248.06" width="11.08" height="4.29" fill="#a9aedb"/><rect x="52.83" y="248.06" width="11.08" height="4.29" fill="#5b71bd"/><rect x="63.85" y="248.06" width="11.08" height="4.29" fill="#5b71bd"/><rect x="74.87" y="248.06" width="11.08" height="4.29" fill="#5b71bd"/><rect x="85.88" y="248.06" width="11.08" height="4.29" fill="#a9aedb"/><rect x="96.90" y="248.06" width="11.08" height="4.29" fill="#a9aedb"/><rect x="107.92" y="248.06" width="11.08" height="4.29" fill="#a9aedb"/><rect x="118.93" y="248.06" width="11.08" height="4.29" fill="#5b71bd"/><rect x="129.95" y="248.06" width="11.08" height="4.29" fill="#5b71bd"/><rect x="140.97" y="248.06" width="11.08" height="4.29" fill="#5b71bd"/><rect x="151.98" y="248.06" width="11.08" height="4.29" fill="#e52e30"/><rect x="163.00" y="248.06" width="11.08" height="4.29" fill="#ec6565"/><rect x="174.02" y="248.06" width="11.08" height="4.29" fill="#ec6565"/><rect x="185.03" y="248.06" width="11.08" height="4.29" fill="#ec6565"/><rect x="196.05" y="248.06" width="11.08" height="4.29" fill="#f2a8a9"/><rect x="207.07" y="248.06" width="11.08" height="4.29" fill="#ec6565"/><rect x="218.08" y="248.06" width="11.08" height="4.29" fill="#e52e30"/><rect x="30.80" y="252.29" width="11.08" height="4.29" fill="#2e49a5"/><rect x="41.82" y="252.29" width="11.08" height="4.29" fill="#5b71bd"/><rect x="52.83" y="252.29" width="11.08" height="4.29" fill="#f7f4f7"/><rect x="63.85" y="252.29" width="11.08" height="4.29" fill="#5b71bd"/><rect x="74.87" y="252.29" width="11.08" height="4.29" fill="#2e49a5"/><rect x="85.88" y="252.29" width="11.08" height="4.29" fill="#a9aedb"/><rect x="96.90" y="252.29" width="11.08" height="4.29" fill="#f7f4f7"/><rect x="107.92" y="252.29" width="11.08" height="4.29" fill="#f7f4f7"/><rect x="118.93" y="252.29" width="11.08" height="4.29" fill="#2e49a5"/><rect x="129.95" y="252.29" width="11.08" height="4.29" fill="#a9aedb"/><rect x="140.97" y="252.29" width="11.08" height="4.29" fill="#a9aedb"/><rect x="151.98" y="252.29" width="11.08" height="4.29" fill="#e52e30"/><rect x="163.00" y="252.29" width="11.08" height="4.29" fill="#ec6565"/><rect x="174.02" y="252.29" width="11.08" height="4.29" fill="#e52e30"/><rect x="185.03" y="252.29" width="11.08" height="4.29" fill="#ec6565"/><rect x="196.05" y="252.29" width="11.08" height="4.29" fill="#f7f4f7"/><rect x="207.07" y="252.29" width="11.08" height="4.29" fill="#e52e30"/><rect x="218.08" y="252.29" width="11.08" height="4.29" fill="#e52e30"/><rect x="30.80" y="256.52" width="11.08" height="4.29" fill="#2e49a5"/><rect x="41.82" y="256.52" width="11.08" height="4.29" fill="#5b71bd"/><rect x="52.83" y="256.52" width="11.08" height="4.29" fill="#2e49a5"/><rect x="63.85" y="256.52" width="11.08" height="4.29" fill="#5b71bd"/><rect x="74.87" y="256.52" width="11.08" height="4.29" fill="#a9aedb"/><rect x="85.88" y="256.52" width="11.08" height="4.29" fill="#5b71bd"/><rect x="96.90" y="256.52" width="11.08" height="4.29" fill="#a9aedb"/><rect x="107.92" y="256.52" width="11.08" height="4.29" fill="#a9aedb"/><rect x="118.93" y="256.52" width="11.08" height="4.29" fill="#f7f4f7"/><rect x="129.95" y="256.52" width="11.08" height="4.29" fill="#f7f4f7"/><rect x="140.97" y="256.52" width="11.08" height="4.29" fill="#f7f4f7"/><rect x="151.98" y="256.52" width="11.08" height="4.29" fill="#ec6565"/><rect x="163.00" y="256.52" width="11.08" height="4.29" fill="#e52e30"/><rect x="174.02" y="256.52" width="11.08" height="4.29" fill="#ec6565"/><rect x="185.03" y="256.52" width="11.08" height="4.29" fill="#ec6565"/><rect x="196.05" y="256.52" width="11.08" height="4.29" fill="#f2a8a9"/><rect x="207.07" y="256.52" width="11.08" height="4.29" fill="#ec6565"/><rect x="218.08" y="256.52" width="11.08" height="4.29" fill="#ec6565"/><rect x="30.80" y="260.76" width="11.08" height="4.29" fill="#5b71bd"/><rect x="41.82" y="260.76" width="11.08" height="4.29" fill="#a9aedb"/><rect x="52.83" y="260.76" width="11.08" height="4.29" fill="#2e49a5"/><rect x="63.85" y="260.76" width="11.08" height="4.29" fill="#5b71bd"/><rect x="74.87" y="260.76" width="11.08" height="4.29" fill="#f7f4f7"/><rect x="85.88" y="260.76" width="11.08" height="4.29" fill="#2e49a5"/><rect x="96.90" y="260.76" width="11.08" height="4.29" fill="#a9aedb"/><rect x="107.92" y="260.76" width="11.08" height="4.29" fill="#a9aedb"/><rect x="118.93" y="260.76" width="11.08" height="4.29" fill="#5b71bd"/><rect x="129.95" y="260.76" width="11.08" height="4.29" fill="#a9aedb"/><rect x="140.97" y="260.76" width="11.08" height="4.29" fill="#2e49a5"/><rect x="151.98" y="260.76" width="11.08" height="4.29" fill="#ec6565"/><rect x="163.00" y="260.76" width="11.08" height="4.29" fill="#ec6565"/><rect x="174.02" y="260.76" width="11.08" height="4.29" fill="#e52e30"/><rect x="185.03" y="260.76" width="11.08" height="4.29" fill="#ec6565"/><rect x="196.05" y="260.76" width="11.08" height="4.29" fill="#f7f4f7"/><rect x="207.07" y="260.76" width="11.08" height="4.29" fill="#ec6565"/><rect x="218.08" y="260.76" width="11.08" height="4.29" fill="#e52e30"/><rect x="30.80" y="265.00" width="11.08" height="4.29" fill="#5b71bd"/><rect x="41.82" y="265.00" width="11.08" height="4.29" fill="#f7f4f7"/><rect x="52.83" y="265.00" width="11.08" height="4.29" fill="#5b71bd"/><rect x="63.85" y="265.00" width="11.08" height="4.29" fill="#e52e30"/><rect x="74.87" y="265.00" width="11.08" height="4.29" fill="#5b71bd"/><rect x="85.88" y="265.00" width="11.08" height="4.29" fill="#2e49a5"/><rect x="96.90" y="265.00" width="11.08" height="4.29" fill="#a9aedb"/><rect x="107.92" y="265.00" width="11.08" height="4.29" fill="#a9aedb"/><rect x="118.93" y="265.00" width="11.08" height="4.29" fill="#5b71bd"/><rect x="129.95" y="265.00" width="11.08" height="4.29" fill="#2e49a5"/><rect x="140.97" y="265.00" width="11.08" height="4.29" fill="#a9aedb"/><rect x="151.98" y="265.00" width="11.08" height="4.29" fill="#ec6565"/><rect x="163.00" y="265.00" width="11.08" height="4.29" fill="#f2a8a9"/><rect x="174.02" y="265.00" width="11.08" height="4.29" fill="#e52e30"/><rect x="185.03" y="265.00" width="11.08" height="4.29" fill="#ec6565"/><rect x="196.05" y="265.00" width="11.08" height="4.29" fill="#f2a8a9"/><rect x="207.07" y="265.00" width="11.08" height="4.29" fill="#ec6565"/><rect x="218.08" y="265.00" width="11.08" height="4.29" fill="#e52e30"/><rect x="30.80" y="269.23" width="11.08" height="4.29" fill="#2e49a5"/><rect x="41.82" y="269.23" width="11.08" height="4.29" fill="#a9aedb"/><rect x="52.83" y="269.23" width="11.08" height="4.29" fill="#2e49a5"/><rect x="63.85" y="269.23" width="11.08" height="4.29" fill="#f2a8a9"/><rect x="74.87" y="269.23" width="11.08" height="4.29" fill="#f7f4f7"/><rect x="85.88" y="269.23" width="11.08" height="4.29" fill="#5b71bd"/><rect x="96.90" y="269.23" width="11.08" height="4.29" fill="#a9aedb"/><rect x="107.92" y="269.23" width="11.08" height="4.29" fill="#a9aedb"/><rect x="118.93" y="269.23" width="11.08" height="4.29" fill="#5b71bd"/><rect x="129.95" y="269.23" width="11.08" height="4.29" fill="#2e49a5"/><rect x="140.97" y="269.23" width="11.08" height="4.29" fill="#f7f4f7"/><rect x="151.98" y="269.23" width="11.08" height="4.29" fill="#e52e30"/><rect x="163.00" y="269.23" width="11.08" height="4.29" fill="#f2a8a9"/><rect x="174.02" y="269.23" width="11.08" height="4.29" fill="#ec6565"/><rect x="185.03" y="269.23" width="11.08" height="4.29" fill="#e52e30"/><rect x="196.05" y="269.23" width="11.08" height="4.29" fill="#f7f4f7"/><rect x="207.07" y="269.23" width="11.08" height="4.29" fill="#ec6565"/><rect x="218.08" y="269.23" width="11.08" height="4.29" fill="#ec6565"/><rect x="30.80" y="273.47" width="11.08" height="4.29" fill="#2e49a5"/><rect x="41.82" y="273.47" width="11.08" height="4.29" fill="#f7f4f7"/><rect x="52.83" y="273.47" width="11.08" height="4.29" fill="#2e49a5"/><rect x="63.85" y="273.47" width="11.08" height="4.29" fill="#f7f4f7"/><rect x="74.87" y="273.47" width="11.08" height="4.29" fill="#2e49a5"/><rect x="85.88" y="273.47" width="11.08" height="4.29" fill="#a9aedb"/><rect x="96.90" y="273.47" width="11.08" height="4.29" fill="#a9aedb"/><rect x="107.92" y="273.47" width="11.08" height="4.29" fill="#f7f4f7"/><rect x="118.93" y="273.47" width="11.08" height="4.29" fill="#a9aedb"/><rect x="129.95" y="273.47" width="11.08" height="4.29" fill="#2e49a5"/><rect x="140.97" y="273.47" width="11.08" height="4.29" fill="#f7f4f7"/><rect x="151.98" y="273.47" width="11.08" height="4.29" fill="#ec6565"/><rect x="163.00" y="273.47" width="11.08" height="4.29" fill="#ec6565"/><rect x="174.02" y="273.47" width="11.08" height="4.29" fill="#e52e30"/><rect x="185.03" y="273.47" width="11.08" height="4.29" fill="#ec6565"/><rect x="196.05" y="273.47" width="11.08" height="4.29" fill="#f7f4f7"/><rect x="207.07" y="273.47" width="11.08" height="4.29" fill="#ec6565"/><rect x="218.08" y="273.47" width="11.08" height="4.29" fill="#e52e30"/><rect x="30.80" y="277.70" width="11.08" height="4.29" fill="#2e49a5"/><rect x="41.82" y="277.70" width="11.08" height="4.29" fill="#a9aedb"/><rect x="52.83" y="277.70" width="11.08" height="4.29" fill="#5b71bd"/><rect x="63.85" y="277.70" width="11.08" height="4.29" fill="#f7f4f7"/><rect x="74.87" y="277.70" width="11.08" height="4.29" fill="#2e49a5"/><rect x="85.88" y="277.70" width="11.08" height="4.29" fill="#a9aedb"/><rect x="96.90" y="277.70" width="11.08" height="4.29" fill="#f7f4f7"/><rect x="107.92" y="277.70" width="11.08" height="4.29" fill="#f7f4f7"/><rect x="118.93" y="277.70" width="11.08" height="4.29" fill="#a9aedb"/><rect x="129.95" y="277.70" width="11.08" height="4.29" fill="#a9aedb"/><rect x="140.97" y="277.70" width="11.08" height="4.29" fill="#f7f4f7"/><rect x="151.98" y="277.70" width="11.08" height="4.29" fill="#ec6565"/><rect x="163.00" y="277.70" width="11.08" height="4.29" fill="#f2a8a9"/><rect x="174.02" y="277.70" width="11.08" height="4.29" fill="#e52e30"/><rect x="185.03" y="277.70" width="11.08" height="4.29" fill="#ec6565"/><rect x="196.05" y="277.70" width="11.08" height="4.29" fill="#f7f4f7"/><rect x="207.07" y="277.70" width="11.08" height="4.29" fill="#e52e30"/><rect x="218.08" y="277.70" width="11.08" height="4.29" fill="#e52e30"/><rect x="30.80" y="281.94" width="11.08" height="4.29" fill="#f2a8a9"/><rect x="41.82" y="281.94" width="11.08" height="4.29" fill="#f7f4f7"/><rect x="52.83" y="281.94" width="11.08" height="4.29" fill="#ec6565"/><rect x="63.85" y="281.94" width="11.08" height="4.29" fill="#e52e30"/><rect x="74.87" y="281.94" width="11.08" height="4.29" fill="#e52e30"/><rect x="85.88" y="281.94" width="11.08" height="4.29" fill="#ec6565"/><rect x="96.90" y="281.94" width="11.08" height="4.29" fill="#ec6565"/><rect x="107.92" y="281.94" width="11.08" height="4.29" fill="#2e49a5"/><rect x="118.93" y="281.94" width="11.08" height="4.29" fill="#2e49a5"/><rect x="129.95" y="281.94" width="11.08" height="4.29" fill="#f2a8a9"/><rect x="140.97" y="281.94" width="11.08" height="4.29" fill="#f2a8a9"/><rect x="151.98" y="281.94" width="11.08" height="4.29" fill="#f7f4f7"/><rect x="163.00" y="281.94" width="11.08" height="4.29" fill="#f2a8a9"/><rect x="174.02" y="281.94" width="11.08" height="4.29" fill="#ec6565"/><rect x="185.03" y="281.94" width="11.08" height="4.29" fill="#2e49a5"/><rect x="196.05" y="281.94" width="11.08" height="4.29" fill="#a9aedb"/><rect x="207.07" y="281.94" width="11.08" height="4.29" fill="#f2a8a9"/><rect x="218.08" y="281.94" width="11.08" height="4.29" fill="#2e49a5"/><rect x="30.80" y="286.17" width="11.08" height="4.29" fill="#2e49a5"/><rect x="41.82" y="286.17" width="11.08" height="4.29" fill="#2e49a5"/><rect x="52.83" y="286.17" width="11.08" height="4.29" fill="#ec6565"/><rect x="63.85" y="286.17" width="11.08" height="4.29" fill="#e52e30"/><rect x="74.87" y="286.17" width="11.08" height="4.29" fill="#e52e30"/><rect x="85.88" y="286.17" width="11.08" height="4.29" fill="#ec6565"/><rect x="96.90" y="286.17" width="11.08" height="4.29" fill="#f2a8a9"/><rect x="107.92" y="286.17" width="11.08" height="4.29" fill="#2e49a5"/><rect x="118.93" y="286.17" width="11.08" height="4.29" fill="#2e49a5"/><rect x="129.95" y="286.17" width="11.08" height="4.29" fill="#f2a8a9"/><rect x="140.97" y="286.17" width="11.08" height="4.29" fill="#f2a8a9"/><rect x="151.98" y="286.17" width="11.08" height="4.29" fill="#f2a8a9"/><rect x="163.00" y="286.17" width="11.08" height="4.29" fill="#ec6565"/><rect x="174.02" y="286.17" width="11.08" height="4.29" fill="#ec6565"/><rect x="185.03" y="286.17" width="11.08" height="4.29" fill="#2e49a5"/><rect x="196.05" y="286.17" width="11.08" height="4.29" fill="#f7f4f7"/><rect x="207.07" y="286.17" width="11.08" height="4.29" fill="#ec6565"/><rect x="218.08" y="286.17" width="11.08" height="4.29" fill="#2e49a5"/><rect x="30.80" y="290.40" width="11.08" height="4.29" fill="#2e49a5"/><rect x="41.82" y="290.40" width="11.08" height="4.29" fill="#5b71bd"/><rect x="52.83" y="290.40" width="11.08" height="4.29" fill="#e52e30"/><rect x="63.85" y="290.40" width="11.08" height="4.29" fill="#e52e30"/><rect x="74.87" y="290.40" width="11.08" height="4.29" fill="#e52e30"/><rect x="85.88" y="290.40" width="11.08" height="4.29" fill="#ec6565"/><rect x="96.90" y="290.40" width="11.08" height="4.29" fill="#f2a8a9"/><rect x="107.92" y="290.40" width="11.08" height="4.29" fill="#2e49a5"/><rect x="118.93" y="290.40" width="11.08" height="4.29" fill="#2e49a5"/><rect x="129.95" y="290.40" width="11.08" height="4.29" fill="#ec6565"/><rect x="140.97" y="290.40" width="11.08" height="4.29" fill="#f2a8a9"/><rect x="151.98" y="290.40" width="11.08" height="4.29" fill="#ec6565"/><rect x="163.00" y="290.40" width="11.08" height="4.29" fill="#f7f4f7"/><rect x="174.02" y="290.40" width="11.08" height="4.29" fill="#e52e30"/><rect x="185.03" y="290.40" width="11.08" height="4.29" fill="#2e49a5"/><rect x="196.05" y="290.40" width="11.08" height="4.29" fill="#2e49a5"/><rect x="207.07" y="290.40" width="11.08" height="4.29" fill="#ec6565"/><rect x="218.08" y="290.40" width="11.08" height="4.29" fill="#2e49a5"/><rect x="30.80" y="294.64" width="11.08" height="4.29" fill="#5b71bd"/><rect x="41.82" y="294.64" width="11.08" height="4.29" fill="#5b71bd"/><rect x="52.83" y="294.64" width="11.08" height="4.29" fill="#e52e30"/><rect x="63.85" y="294.64" width="11.08" height="4.29" fill="#e52e30"/><rect x="74.87" y="294.64" width="11.08" height="4.29" fill="#5b71bd"/><rect x="85.88" y="294.64" width="11.08" height="4.29" fill="#f7f4f7"/><rect x="96.90" y="294.64" width="11.08" height="4.29" fill="#e52e30"/><rect x="107.92" y="294.64" width="11.08" height="4.29" fill="#5b71bd"/><rect x="118.93" y="294.64" width="11.08" height="4.29" fill="#5b71bd"/><rect x="129.95" y="294.64" width="11.08" height="4.29" fill="#2e49a5"/><rect x="140.97" y="294.64" width="11.08" height="4.29" fill="#5b71bd"/><rect x="151.98" y="294.64" width="11.08" height="4.29" fill="#5b71bd"/><rect x="163.00" y="294.64" width="11.08" height="4.29" fill="#e52e30"/><rect x="174.02" y="294.64" width="11.08" height="4.29" fill="#e52e30"/><rect x="185.03" y="294.64" width="11.08" height="4.29" fill="#5b71bd"/><rect x="196.05" y="294.64" width="11.08" height="4.29" fill="#5b71bd"/><rect x="207.07" y="294.64" width="11.08" height="4.29" fill="#5b71bd"/><rect x="218.08" y="294.64" width="11.08" height="4.29" fill="#5b71bd"/><rect x="30.80" y="298.88" width="11.08" height="4.29" fill="#a9aedb"/><rect x="41.82" y="298.88" width="11.08" height="4.29" fill="#a9aedb"/><rect x="52.83" y="298.88" width="11.08" height="4.29" fill="#e52e30"/><rect x="63.85" y="298.88" width="11.08" height="4.29" fill="#e52e30"/><rect x="74.87" y="298.88" width="11.08" height="4.29" fill="#f2a8a9"/><rect x="85.88" y="298.88" width="11.08" height="4.29" fill="#a9aedb"/><rect x="96.90" y="298.88" width="11.08" height="4.29" fill="#f2a8a9"/><rect x="107.92" y="298.88" width="11.08" height="4.29" fill="#a9aedb"/><rect x="118.93" y="298.88" width="11.08" height="4.29" fill="#a9aedb"/><rect x="129.95" y="298.88" width="11.08" height="4.29" fill="#a9aedb"/><rect x="140.97" y="298.88" width="11.08" height="4.29" fill="#f2a8a9"/><rect x="151.98" y="298.88" width="11.08" height="4.29" fill="#a9aedb"/><rect x="163.00" y="298.88" width="11.08" height="4.29" fill="#a9aedb"/><rect x="174.02" y="298.88" width="11.08" height="4.29" fill="#e52e30"/><rect x="185.03" y="298.88" width="11.08" height="4.29" fill="#a9aedb"/><rect x="196.05" y="298.88" width="11.08" height="4.29" fill="#a9aedb"/><rect x="207.07" y="298.88" width="11.08" height="4.29" fill="#a9aedb"/><rect x="218.08" y="298.88" width="11.08" height="4.29" fill="#a9aedb"/><rect x="30.80" y="303.11" width="11.08" height="4.29" fill="#f2a8a9"/><rect x="41.82" y="303.11" width="11.08" height="4.29" fill="#f2a8a9"/><rect x="52.83" y="303.11" width="11.08" height="4.29" fill="#e52e30"/><rect x="63.85" y="303.11" width="11.08" height="4.29" fill="#e52e30"/><rect x="74.87" y="303.11" width="11.08" height="4.29" fill="#5b71bd"/><rect x="85.88" y="303.11" width="11.08" height="4.29" fill="#a9aedb"/><rect x="96.90" y="303.11" width="11.08" height="4.29" fill="#a9aedb"/><rect x="107.92" y="303.11" width="11.08" height="4.29" fill="#a9aedb"/><rect x="118.93" y="303.11" width="11.08" height="4.29" fill="#f7f4f7"/><rect x="129.95" y="303.11" width="11.08" height="4.29" fill="#f7f4f7"/><rect x="140.97" y="303.11" width="11.08" height="4.29" fill="#f2a8a9"/><rect x="151.98" y="303.11" width="11.08" height="4.29" fill="#f7f4f7"/><rect x="163.00" y="303.11" width="11.08" height="4.29" fill="#a9aedb"/><rect x="174.02" y="303.11" width="11.08" height="4.29" fill="#a9aedb"/><rect x="185.03" y="303.11" width="11.08" height="4.29" fill="#a9aedb"/><rect x="196.05" y="303.11" width="11.08" height="4.29" fill="#f7f4f7"/><rect x="207.07" y="303.11" width="11.08" height="4.29" fill="#a9aedb"/><rect x="218.08" y="303.11" width="11.08" height="4.29" fill="#a9aedb"/><rect x="30.80" y="307.35" width="11.08" height="4.29" fill="#e52e30"/><rect x="41.82" y="307.35" width="11.08" height="4.29" fill="#e95050"/><rect x="52.83" y="307.35" width="11.08" height="4.29" fill="#e52e30"/><rect x="63.85" y="307.35" width="11.08" height="4.29" fill="#e52e30"/><rect x="74.87" y="307.35" width="11.08" height="4.29" fill="#5b71bd"/><rect x="85.88" y="307.35" width="11.08" height="4.29" fill="#5b71bd"/><rect x="96.90" y="307.35" width="11.08" height="4.29" fill="#a9aedb"/><rect x="107.92" y="307.35" width="11.08" height="4.29" fill="#a9aedb"/><rect x="118.93" y="307.35" width="11.08" height="4.29" fill="#a9aedb"/><rect x="129.95" y="307.35" width="11.08" height="4.29" fill="#5b71bd"/><rect x="140.97" y="307.35" width="11.08" height="4.29" fill="#f2a8a9"/><rect x="151.98" y="307.35" width="11.08" height="4.29" fill="#f7f4f7"/><rect x="163.00" y="307.35" width="11.08" height="4.29" fill="#ec6565"/><rect x="174.02" y="307.35" width="11.08" height="4.29" fill="#f7f4f7"/><rect x="185.03" y="307.35" width="11.08" height="4.29" fill="#f7f4f7"/><rect x="196.05" y="307.35" width="11.08" height="4.29" fill="#5b71bd"/><rect x="207.07" y="307.35" width="11.08" height="4.29" fill="#5b71bd"/><rect x="218.08" y="307.35" width="11.08" height="4.29" fill="#a9aedb"/><rect x="30.80" y="311.58" width="11.08" height="4.29" fill="#e52e30"/><rect x="41.82" y="311.58" width="11.08" height="4.29" fill="#e95050"/><rect x="52.83" y="311.58" width="11.08" height="4.29" fill="#e95050"/><rect x="63.85" y="311.58" width="11.08" height="4.29" fill="#f7f4f7"/><rect x="74.87" y="311.58" width="11.08" height="4.29" fill="#ec6565"/><rect x="85.88" y="311.58" width="11.08" height="4.29" fill="#f2a8a9"/><rect x="96.90" y="311.58" width="11.08" height="4.29" fill="#5b71bd"/><rect x="107.92" y="311.58" width="11.08" height="4.29" fill="#5b71bd"/><rect x="118.93" y="311.58" width="11.08" height="4.29" fill="#2e49a5"/><rect x="129.95" y="311.58" width="11.08" height="4.29" fill="#e52e30"/><rect x="140.97" y="311.58" width="11.08" height="4.29" fill="#f2a8a9"/><rect x="151.98" y="311.58" width="11.08" height="4.29" fill="#f2a8a9"/><rect x="163.00" y="311.58" width="11.08" height="4.29" fill="#ec6565"/><rect x="174.02" y="311.58" width="11.08" height="4.29" fill="#a9aedb"/><rect x="185.03" y="311.58" width="11.08" height="4.29" fill="#f7f4f7"/><rect x="196.05" y="311.58" width="11.08" height="4.29" fill="#2e49a5"/><rect x="207.07" y="311.58" width="11.08" height="4.29" fill="#5b71bd"/><rect x="218.08" y="311.58" width="11.08" height="4.29" fill="#2e49a5"/><rect x="30.80" y="315.81" width="11.08" height="4.29" fill="#e52e30"/><rect x="41.82" y="315.81" width="11.08" height="4.29" fill="#f19393"/><rect x="52.83" y="315.81" width="11.08" height="4.29" fill="#e95050"/><rect x="63.85" y="315.81" width="11.08" height="4.29" fill="#a9aedb"/><rect x="74.87" y="315.81" width="11.08" height="4.29" fill="#ec6565"/><rect x="85.88" y="315.81" width="11.08" height="4.29" fill="#f7f4f7"/><rect x="96.90" y="315.81" width="11.08" height="4.29" fill="#f7f4f7"/><rect x="107.92" y="315.81" width="11.08" height="4.29" fill="#f7f4f7"/><rect x="118.93" y="315.81" width="11.08" height="4.29" fill="#2e49a5"/><rect x="129.95" y="315.81" width="11.08" height="4.29" fill="#e52e30"/><rect x="140.97" y="315.81" width="11.08" height="4.29" fill="#f7f4f7"/><rect x="151.98" y="315.81" width="11.08" height="4.29" fill="#f7f4f7"/><rect x="163.00" y="315.81" width="11.08" height="4.29" fill="#f7f4f7"/><rect x="174.02" y="315.81" width="11.08" height="4.29" fill="#5b71bd"/><rect x="185.03" y="315.81" width="11.08" height="4.29" fill="#f7f4f7"/><rect x="196.05" y="315.81" width="11.08" height="4.29" fill="#2e49a5"/><rect x="207.07" y="315.81" width="11.08" height="4.29" fill="#a9aedb"/><rect x="218.08" y="315.81" width="11.08" height="4.29" fill="#2e49a5"/><rect x="30.80" y="320.05" width="11.08" height="4.29" fill="#f19393"/><rect x="41.82" y="320.05" width="11.08" height="4.29" fill="#e95050"/><rect x="52.83" y="320.05" width="11.08" height="4.29" fill="#e95050"/><rect x="63.85" y="320.05" width="11.08" height="4.29" fill="#f2a8a9"/><rect x="74.87" y="320.05" width="11.08" height="4.29" fill="#e52e30"/><rect x="85.88" y="320.05" width="11.08" height="4.29" fill="#2e49a5"/><rect x="96.90" y="320.05" width="11.08" height="4.29" fill="#2e49a5"/><rect x="107.92" y="320.05" width="11.08" height="4.29" fill="#2e49a5"/><rect x="118.93" y="320.05" width="11.08" height="4.29" fill="#a9aedb"/><rect x="129.95" y="320.05" width="11.08" height="4.29" fill="#e52e30"/><rect x="140.97" y="320.05" width="11.08" height="4.29" fill="#f2a8a9"/><rect x="151.98" y="320.05" width="11.08" height="4.29" fill="#f2a8a9"/><rect x="163.00" y="320.05" width="11.08" height="4.29" fill="#a9aedb"/><rect x="174.02" y="320.05" width="11.08" height="4.29" fill="#a9aedb"/><rect x="185.03" y="320.05" width="11.08" height="4.29" fill="#f7f4f7"/><rect x="196.05" y="320.05" width="11.08" height="4.29" fill="#f7f4f7"/><rect x="207.07" y="320.05" width="11.08" height="4.29" fill="#5b71bd"/><rect x="218.08" y="320.05" width="11.08" height="4.29" fill="#5b71bd"/><rect x="30.80" y="324.28" width="11.08" height="4.29" fill="#e95050"/><rect x="41.82" y="324.28" width="11.08" height="4.29" fill="#e95050"/><rect x="52.83" y="324.28" width="11.08" height="4.29" fill="#e95050"/><rect x="63.85" y="324.28" width="11.08" height="4.29" fill="#ec6565"/><rect x="74.87" y="324.28" width="11.08" height="4.29" fill="#e52e30"/><rect x="85.88" y="324.28" width="11.08" height="4.29" fill="#f7f4f7"/><rect x="96.90" y="324.28" width="11.08" height="4.29" fill="#5b71bd"/><rect x="107.92" y="324.28" width="11.08" height="4.29" fill="#5b71bd"/><rect x="118.93" y="324.28" width="11.08" height="4.29" fill="#f2a8a9"/><rect x="129.95" y="324.28" width="11.08" height="4.29" fill="#e52e30"/><rect x="140.97" y="324.28" width="11.08" height="4.29" fill="#f2a8a9"/><rect x="151.98" y="324.28" width="11.08" height="4.29" fill="#f2a8a9"/><rect x="163.00" y="324.28" width="11.08" height="4.29" fill="#5b71bd"/><rect x="174.02" y="324.28" width="11.08" height="4.29" fill="#5b71bd"/><rect x="185.03" y="324.28" width="11.08" height="4.29" fill="#5b71bd"/><rect x="196.05" y="324.28" width="11.08" height="4.29" fill="#2e49a5"/><rect x="207.07" y="324.28" width="11.08" height="4.29" fill="#2e49a5"/><rect x="218.08" y="324.28" width="11.08" height="4.29" fill="#2e49a5"/><rect x="30.80" y="328.52" width="11.08" height="4.29" fill="#f19393"/><rect x="41.82" y="328.52" width="11.08" height="4.29" fill="#e95050"/><rect x="52.83" y="328.52" width="11.08" height="4.29" fill="#f19393"/><rect x="63.85" y="328.52" width="11.08" height="4.29" fill="#ec6565"/><rect x="74.87" y="328.52" width="11.08" height="4.29" fill="#e52e30"/><rect x="85.88" y="328.52" width="11.08" height="4.29" fill="#f7f4f7"/><rect x="96.90" y="328.52" width="11.08" height="4.29" fill="#a9aedb"/><rect x="107.92" y="328.52" width="11.08" height="4.29" fill="#a9aedb"/><rect x="118.93" y="328.52" width="11.08" height="4.29" fill="#f2a8a9"/><rect x="129.95" y="328.52" width="11.08" height="4.29" fill="#e52e30"/><rect x="140.97" y="328.52" width="11.08" height="4.29" fill="#ec6565"/><rect x="151.98" y="328.52" width="11.08" height="4.29" fill="#f2a8a9"/><rect x="163.00" y="328.52" width="11.08" height="4.29" fill="#a9aedb"/><rect x="174.02" y="328.52" width="11.08" height="4.29" fill="#5b71bd"/><rect x="185.03" y="328.52" width="11.08" height="4.29" fill="#a9aedb"/><rect x="196.05" y="328.52" width="11.08" height="4.29" fill="#2e49a5"/><rect x="207.07" y="328.52" width="11.08" height="4.29" fill="#2e49a5"/><rect x="218.08" y="328.52" width="11.08" height="4.29" fill="#2e49a5"/><rect x="30.80" y="332.75" width="11.08" height="4.29" fill="#f19393"/><rect x="41.82" y="332.75" width="11.08" height="4.29" fill="#e95050"/><rect x="52.83" y="332.75" width="11.08" height="4.29" fill="#f7f4f7"/><rect x="63.85" y="332.75" width="11.08" height="4.29" fill="#ec6565"/><rect x="74.87" y="332.75" width="11.08" height="4.29" fill="#e52e30"/><rect x="85.88" y="332.75" width="11.08" height="4.29" fill="#f2a8a9"/><rect x="96.90" y="332.75" width="11.08" height="4.29" fill="#a9aedb"/><rect x="107.92" y="332.75" width="11.08" height="4.29" fill="#a9aedb"/><rect x="118.93" y="332.75" width="11.08" height="4.29" fill="#f2a8a9"/><rect x="129.95" y="332.75" width="11.08" height="4.29" fill="#e52e30"/><rect x="140.97" y="332.75" width="11.08" height="4.29" fill="#a9aedb"/><rect x="151.98" y="332.75" width="11.08" height="4.29" fill="#2e49a5"/><rect x="163.00" y="332.75" width="11.08" height="4.29" fill="#5b71bd"/><rect x="174.02" y="332.75" width="11.08" height="4.29" fill="#2e49a5"/><rect x="185.03" y="332.75" width="11.08" height="4.29" fill="#5b71bd"/><rect x="196.05" y="332.75" width="11.08" height="4.29" fill="#ec6565"/><rect x="207.07" y="332.75" width="11.08" height="4.29" fill="#2e49a5"/><rect x="218.08" y="332.75" width="11.08" height="4.29" fill="#2e49a5"/><rect x="30.80" y="336.99" width="11.08" height="4.29" fill="#f19393"/><rect x="41.82" y="336.99" width="11.08" height="4.29" fill="#e95050"/><rect x="52.83" y="336.99" width="11.08" height="4.29" fill="#f19393"/><rect x="63.85" y="336.99" width="11.08" height="4.29" fill="#e52e30"/><rect x="74.87" y="336.99" width="11.08" height="4.29" fill="#e52e30"/><rect x="85.88" y="336.99" width="11.08" height="4.29" fill="#ec6565"/><rect x="96.90" y="336.99" width="11.08" height="4.29" fill="#a9aedb"/><rect x="107.92" y="336.99" width="11.08" height="4.29" fill="#f7f4f7"/><rect x="118.93" y="336.99" width="11.08" height="4.29" fill="#ec6565"/><rect x="129.95" y="336.99" width="11.08" height="4.29" fill="#e52e30"/><rect x="140.97" y="336.99" width="11.08" height="4.29" fill="#f2a8a9"/><rect x="151.98" y="336.99" width="11.08" height="4.29" fill="#2e49a5"/><rect x="163.00" y="336.99" width="11.08" height="4.29" fill="#2e49a5"/><rect x="174.02" y="336.99" width="11.08" height="4.29" fill="#2e49a5"/><rect x="185.03" y="336.99" width="11.08" height="4.29" fill="#2e49a5"/><rect x="196.05" y="336.99" width="11.08" height="4.29" fill="#a9aedb"/><rect x="207.07" y="336.99" width="11.08" height="4.29" fill="#2e49a5"/><rect x="218.08" y="336.99" width="11.08" height="4.29" fill="#2e49a5"/><rect x="30.80" y="341.23" width="11.08" height="4.29" fill="#f19393"/><rect x="41.82" y="341.23" width="11.08" height="4.29" fill="#f19393"/><rect x="52.83" y="341.23" width="11.08" height="4.29" fill="#e95050"/><rect x="63.85" y="341.23" width="11.08" height="4.29" fill="#ec6565"/><rect x="74.87" y="341.23" width="11.08" height="4.29" fill="#f2a8a9"/><rect x="85.88" y="341.23" width="11.08" height="4.29" fill="#ec6565"/><rect x="96.90" y="341.23" width="11.08" height="4.29" fill="#f2a8a9"/><rect x="107.92" y="341.23" width="11.08" height="4.29" fill="#f7f4f7"/><rect x="118.93" y="341.23" width="11.08" height="4.29" fill="#f2a8a9"/><rect x="129.95" y="341.23" width="11.08" height="4.29" fill="#ec6565"/><rect x="140.97" y="341.23" width="11.08" height="4.29" fill="#f2a8a9"/><rect x="151.98" y="341.23" width="11.08" height="4.29" fill="#5b71bd"/><rect x="163.00" y="341.23" width="11.08" height="4.29" fill="#5b71bd"/><rect x="174.02" y="341.23" width="11.08" height="4.29" fill="#2e49a5"/><rect x="185.03" y="341.23" width="11.08" height="4.29" fill="#5b71bd"/><rect x="196.05" y="341.23" width="11.08" height="4.29" fill="#2e49a5"/><rect x="207.07" y="341.23" width="11.08" height="4.29" fill="#2e49a5"/><rect x="218.08" y="341.23" width="11.08" height="4.29" fill="#2e49a5"/><rect x="30.80" y="345.46" width="11.08" height="4.29" fill="#e52e30"/><rect x="41.82" y="345.46" width="11.08" height="4.29" fill="#e52e30"/><rect x="52.83" y="345.46" width="11.08" height="4.29" fill="#f19393"/><rect x="63.85" y="345.46" width="11.08" height="4.29" fill="#ec6565"/><rect x="74.87" y="345.46" width="11.08" height="4.29" fill="#ec6565"/><rect x="85.88" y="345.46" width="11.08" height="4.29" fill="#a9aedb"/><rect x="96.90" y="345.46" width="11.08" height="4.29" fill="#a9aedb"/><rect x="107.92" y="345.46" width="11.08" height="4.29" fill="#a9aedb"/><rect x="118.93" y="345.46" width="11.08" height="4.29" fill="#f7f4f7"/><rect x="129.95" y="345.46" width="11.08" height="4.29" fill="#f2a8a9"/><rect x="140.97" y="345.46" width="11.08" height="4.29" fill="#f7f4f7"/><rect x="151.98" y="345.46" width="11.08" height="4.29" fill="#a9aedb"/><rect x="163.00" y="345.46" width="11.08" height="4.29" fill="#a9aedb"/><rect x="174.02" y="345.46" width="11.08" height="4.29" fill="#a9aedb"/><rect x="185.03" y="345.46" width="11.08" height="4.29" fill="#a9aedb"/><rect x="196.05" y="345.46" width="11.08" height="4.29" fill="#2e49a5"/><rect x="207.07" y="345.46" width="11.08" height="4.29" fill="#2e49a5"/><rect x="218.08" y="345.46" width="11.08" height="4.29" fill="#2e49a5"/><rect x="30.80" y="349.70" width="11.08" height="4.29" fill="#e52e30"/><rect x="41.82" y="349.70" width="11.08" height="4.29" fill="#e95050"/><rect x="52.83" y="349.70" width="11.08" height="4.29" fill="#e95050"/><rect x="63.85" y="349.70" width="11.08" height="4.29" fill="#ec6565"/><rect x="74.87" y="349.70" width="11.08" height="4.29" fill="#f7f4f7"/><rect x="85.88" y="349.70" width="11.08" height="4.29" fill="#ec6565"/><rect x="96.90" y="349.70" width="11.08" height="4.29" fill="#f2a8a9"/><rect x="107.92" y="349.70" width="11.08" height="4.29" fill="#f2a8a9"/><rect x="118.93" y="349.70" width="11.08" height="4.29" fill="#f2a8a9"/><rect x="129.95" y="349.70" width="11.08" height="4.29" fill="#f2a8a9"/><rect x="140.97" y="349.70" width="11.08" height="4.29" fill="#f2a8a9"/><rect x="151.98" y="349.70" width="11.08" height="4.29" fill="#f7f4f7"/><rect x="163.00" y="349.70" width="11.08" height="4.29" fill="#f7f4f7"/><rect x="174.02" y="349.70" width="11.08" height="4.29" fill="#2e49a5"/><rect x="185.03" y="349.70" width="11.08" height="4.29" fill="#a9aedb"/><rect x="196.05" y="349.70" width="11.08" height="4.29" fill="#2e49a5"/><rect x="207.07" y="349.70" width="11.08" height="4.29" fill="#2e49a5"/><rect x="218.08" y="349.70" width="11.08" height="4.29" fill="#2e49a5"/><rect x="30.80" y="353.93" width="11.08" height="4.29" fill="#f19393"/><rect x="41.82" y="353.93" width="11.08" height="4.29" fill="#f19393"/><rect x="52.83" y="353.93" width="11.08" height="4.29" fill="#e95050"/><rect x="63.85" y="353.93" width="11.08" height="4.29" fill="#f7f4f7"/><rect x="74.87" y="353.93" width="11.08" height="4.29" fill="#f7f4f7"/><rect x="85.88" y="353.93" width="11.08" height="4.29" fill="#ec6565"/><rect x="96.90" y="353.93" width="11.08" height="4.29" fill="#f2a8a9"/><rect x="107.92" y="353.93" width="11.08" height="4.29" fill="#f2a8a9"/><rect x="118.93" y="353.93" width="11.08" height="4.29" fill="#f7f4f7"/><rect x="129.95" y="353.93" width="11.08" height="4.29" fill="#ec6565"/><rect x="140.97" y="353.93" width="11.08" height="4.29" fill="#ec6565"/><rect x="151.98" y="353.93" width="11.08" height="4.29" fill="#a9aedb"/><rect x="163.00" y="353.93" width="11.08" height="4.29" fill="#f2a8a9"/><rect x="174.02" y="353.93" width="11.08" height="4.29" fill="#a9aedb"/><rect x="185.03" y="353.93" width="11.08" height="4.29" fill="#a9aedb"/><rect x="196.05" y="353.93" width="11.08" height="4.29" fill="#2e49a5"/><rect x="207.07" y="353.93" width="11.08" height="4.29" fill="#2e49a5"/><rect x="218.08" y="353.93" width="11.08" height="4.29" fill="#2e49a5"/><rect x="30.80" y="358.17" width="11.08" height="4.29" fill="#f19393"/><rect x="41.82" y="358.17" width="11.08" height="4.29" fill="#f19393"/><rect x="52.83" y="358.17" width="11.08" height="4.29" fill="#f19393"/><rect x="63.85" y="358.17" width="11.08" height="4.29" fill="#e52e30"/><rect x="74.87" y="358.17" width="11.08" height="4.29" fill="#f2a8a9"/><rect x="85.88" y="358.17" width="11.08" height="4.29" fill="#f7f4f7"/><rect x="96.90" y="358.17" width="11.08" height="4.29" fill="#f2a8a9"/><rect x="107.92" y="358.17" width="11.08" height="4.29" fill="#f7f4f7"/><rect x="118.93" y="358.17" width="11.08" height="4.29" fill="#f2a8a9"/><rect x="129.95" y="358.17" width="11.08" height="4.29" fill="#f2a8a9"/><rect x="140.97" y="358.17" width="11.08" height="4.29" fill="#f2a8a9"/><rect x="151.98" y="358.17" width="11.08" height="4.29" fill="#a9aedb"/><rect x="163.00" y="358.17" width="11.08" height="4.29" fill="#f2a8a9"/><rect x="174.02" y="358.17" width="11.08" height="4.29" fill="#f7f4f7"/><rect x="185.03" y="358.17" width="11.08" height="4.29" fill="#a9aedb"/><rect x="196.05" y="358.17" width="11.08" height="4.29" fill="#2e49a5"/><rect x="207.07" y="358.17" width="11.08" height="4.29" fill="#2e49a5"/><rect x="218.08" y="358.17" width="11.08" height="4.29" fill="#2e49a5"/><rect x="30.80" y="362.40" width="11.08" height="4.29" fill="#e95050"/><rect x="41.82" y="362.40" width="11.08" height="4.29" fill="#e95050"/><rect x="52.83" y="362.40" width="11.08" height="4.29" fill="#e95050"/><rect x="63.85" y="362.40" width="11.08" height="4.29" fill="#e52e30"/><rect x="74.87" y="362.40" width="11.08" height="4.29" fill="#f2a8a9"/><rect x="85.88" y="362.40" width="11.08" height="4.29" fill="#f2a8a9"/><rect x="96.90" y="362.40" width="11.08" height="4.29" fill="#f2a8a9"/><rect x="107.92" y="362.40" width="11.08" height="4.29" fill="#f2a8a9"/><rect x="118.93" y="362.40" width="11.08" height="4.29" fill="#f2a8a9"/><rect x="129.95" y="362.40" width="11.08" height="4.29" fill="#ec6565"/><rect x="140.97" y="362.40" width="11.08" height="4.29" fill="#f2a8a9"/><rect x="151.98" y="362.40" width="11.08" height="4.29" fill="#f7f4f7"/><rect x="163.00" y="362.40" width="11.08" height="4.29" fill="#f2a8a9"/><rect x="174.02" y="362.40" width="11.08" height="4.29" fill="#5b71bd"/><rect x="185.03" y="362.40" width="11.08" height="4.29" fill="#a9aedb"/><rect x="196.05" y="362.40" width="11.08" height="4.29" fill="#2e49a5"/><rect x="207.07" y="362.40" width="11.08" height="4.29" fill="#2e49a5"/><rect x="218.08" y="362.40" width="11.08" height="4.29" fill="#2e49a5"/><rect x="30.80" y="366.63" width="11.08" height="4.29" fill="#f19393"/><rect x="41.82" y="366.63" width="11.08" height="4.29" fill="#e95050"/><rect x="52.83" y="366.63" width="11.08" height="4.29" fill="#e95050"/><rect x="63.85" y="366.63" width="11.08" height="4.29" fill="#f2a8a9"/><rect x="74.87" y="366.63" width="11.08" height="4.29" fill="#ec6565"/><rect x="85.88" y="366.63" width="11.08" height="4.29" fill="#f2a8a9"/><rect x="96.90" y="366.63" width="11.08" height="4.29" fill="#f7f4f7"/><rect x="107.92" y="366.63" width="11.08" height="4.29" fill="#f7f4f7"/><rect x="118.93" y="366.63" width="11.08" height="4.29" fill="#f2a8a9"/><rect x="129.95" y="366.63" width="11.08" height="4.29" fill="#e52e30"/><rect x="140.97" y="366.63" width="11.08" height="4.29" fill="#ec6565"/><rect x="151.98" y="366.63" width="11.08" height="4.29" fill="#a9aedb"/><rect x="163.00" y="366.63" width="11.08" height="4.29" fill="#f7f4f7"/><rect x="174.02" y="366.63" width="11.08" height="4.29" fill="#5b71bd"/><rect x="185.03" y="366.63" width="11.08" height="4.29" fill="#5b71bd"/><rect x="196.05" y="366.63" width="11.08" height="4.29" fill="#2e49a5"/><rect x="207.07" y="366.63" width="11.08" height="4.29" fill="#2e49a5"/><rect x="218.08" y="366.63" width="11.08" height="4.29" fill="#2e49a5"/><rect x="30.80" y="370.87" width="11.08" height="4.29" fill="#f19393"/><rect x="41.82" y="370.87" width="11.08" height="4.29" fill="#e95050"/><rect x="52.83" y="370.87" width="11.08" height="4.29" fill="#e95050"/><rect x="63.85" y="370.87" width="11.08" height="4.29" fill="#e52e30"/><rect x="74.87" y="370.87" width="11.08" height="4.29" fill="#a9aedb"/><rect x="85.88" y="370.87" width="11.08" height="4.29" fill="#f2a8a9"/><rect x="96.90" y="370.87" width="11.08" height="4.29" fill="#f2a8a9"/><rect x="107.92" y="370.87" width="11.08" height="4.29" fill="#f2a8a9"/><rect x="118.93" y="370.87" width="11.08" height="4.29" fill="#f2a8a9"/><rect x="129.95" y="370.87" width="11.08" height="4.29" fill="#e52e30"/><rect x="140.97" y="370.87" width="11.08" height="4.29" fill="#ec6565"/><rect x="151.98" y="370.87" width="11.08" height="4.29" fill="#5b71bd"/><rect x="163.00" y="370.87" width="11.08" height="4.29" fill="#a9aedb"/><rect x="174.02" y="370.87" width="11.08" height="4.29" fill="#2e49a5"/><rect x="185.03" y="370.87" width="11.08" height="4.29" fill="#a9aedb"/><rect x="196.05" y="370.87" width="11.08" height="4.29" fill="#5b71bd"/><rect x="207.07" y="370.87" width="11.08" height="4.29" fill="#5b71bd"/><rect x="218.08" y="370.87" width="11.08" height="4.29" fill="#2e49a5"/><rect x="30.80" y="375.11" width="11.08" height="4.29" fill="#f19393"/><rect x="41.82" y="375.11" width="11.08" height="4.29" fill="#e95050"/><rect x="52.83" y="375.11" width="11.08" height="4.29" fill="#e95050"/><rect x="63.85" y="375.11" width="11.08" height="4.29" fill="#f2a8a9"/><rect x="74.87" y="375.11" width="11.08" height="4.29" fill="#f2a8a9"/><rect x="85.88" y="375.11" width="11.08" height="4.29" fill="#f7f4f7"/><rect x="96.90" y="375.11" width="11.08" height="4.29" fill="#f2a8a9"/><rect x="107.92" y="375.11" width="11.08" height="4.29" fill="#f2a8a9"/><rect x="118.93" y="375.11" width="11.08" height="4.29" fill="#f2a8a9"/><rect x="129.95" y="375.11" width="11.08" height="4.29" fill="#e52e30"/><rect x="140.97" y="375.11" width="11.08" height="4.29" fill="#ec6565"/><rect x="151.98" y="375.11" width="11.08" height="4.29" fill="#f7f4f7"/><rect x="163.00" y="375.11" width="11.08" height="4.29" fill="#a9aedb"/><rect x="174.02" y="375.11" width="11.08" height="4.29" fill="#2e49a5"/><rect x="185.03" y="375.11" width="11.08" height="4.29" fill="#5b71bd"/><rect x="196.05" y="375.11" width="11.08" height="4.29" fill="#2e49a5"/><rect x="207.07" y="375.11" width="11.08" height="4.29" fill="#5b71bd"/><rect x="218.08" y="375.11" width="11.08" height="4.29" fill="#2e49a5"/><rect x="30.80" y="379.34" width="11.08" height="4.29" fill="#f19393"/><rect x="41.82" y="379.34" width="11.08" height="4.29" fill="#e52e30"/><rect x="52.83" y="379.34" width="11.08" height="4.29" fill="#e95050"/><rect x="63.85" y="379.34" width="11.08" height="4.29" fill="#ec6565"/><rect x="74.87" y="379.34" width="11.08" height="4.29" fill="#f2a8a9"/><rect x="85.88" y="379.34" width="11.08" height="4.29" fill="#f2a8a9"/><rect x="96.90" y="379.34" width="11.08" height="4.29" fill="#f2a8a9"/><rect x="107.92" y="379.34" width="11.08" height="4.29" fill="#f7f4f7"/><rect x="118.93" y="379.34" width="11.08" height="4.29" fill="#ec6565"/><rect x="129.95" y="379.34" width="11.08" height="4.29" fill="#e52e30"/><rect x="140.97" y="379.34" width="11.08" height="4.29" fill="#ec6565"/><rect x="151.98" y="379.34" width="11.08" height="4.29" fill="#f7f4f7"/><rect x="163.00" y="379.34" width="11.08" height="4.29" fill="#a9aedb"/><rect x="174.02" y="379.34" width="11.08" height="4.29" fill="#5b71bd"/><rect x="185.03" y="379.34" width="11.08" height="4.29" fill="#5b71bd"/><rect x="196.05" y="379.34" width="11.08" height="4.29" fill="#2e49a5"/><rect x="207.07" y="379.34" width="11.08" height="4.29" fill="#2e49a5"/><rect x="218.08" y="379.34" width="11.08" height="4.29" fill="#2e49a5"/><rect x="30.80" y="383.58" width="11.08" height="4.29" fill="#f19393"/><rect x="41.82" y="383.58" width="11.08" height="4.29" fill="#e95050"/><rect x="52.83" y="383.58" width="11.08" height="4.29" fill="#e95050"/><rect x="63.85" y="383.58" width="11.08" height="4.29" fill="#ec6565"/><rect x="74.87" y="383.58" width="11.08" height="4.29" fill="#f2a8a9"/><rect x="85.88" y="383.58" width="11.08" height="4.29" fill="#f2a8a9"/><rect x="96.90" y="383.58" width="11.08" height="4.29" fill="#f2a8a9"/><rect x="107.92" y="383.58" width="11.08" height="4.29" fill="#f2a8a9"/><rect x="118.93" y="383.58" width="11.08" height="4.29" fill="#ec6565"/><rect x="129.95" y="383.58" width="11.08" height="4.29" fill="#e52e30"/><rect x="140.97" y="383.58" width="11.08" height="4.29" fill="#ec6565"/><rect x="151.98" y="383.58" width="11.08" height="4.29" fill="#a9aedb"/><rect x="163.00" y="383.58" width="11.08" height="4.29" fill="#a9aedb"/><rect x="174.02" y="383.58" width="11.08" height="4.29" fill="#2e49a5"/><rect x="185.03" y="383.58" width="11.08" height="4.29" fill="#5b71bd"/><rect x="196.05" y="383.58" width="11.08" height="4.29" fill="#5b71bd"/><rect x="207.07" y="383.58" width="11.08" height="4.29" fill="#2e49a5"/><rect x="218.08" y="383.58" width="11.08" height="4.29" fill="#2e49a5"/><rect x="30.80" y="387.81" width="11.08" height="4.29" fill="#f19393"/><rect x="41.82" y="387.81" width="11.08" height="4.29" fill="#e95050"/><rect x="52.83" y="387.81" width="11.08" height="4.29" fill="#e95050"/><rect x="63.85" y="387.81" width="11.08" height="4.29" fill="#ec6565"/><rect x="74.87" y="387.81" width="11.08" height="4.29" fill="#f7f4f7"/><rect x="85.88" y="387.81" width="11.08" height="4.29" fill="#f2a8a9"/><rect x="96.90" y="387.81" width="11.08" height="4.29" fill="#f2a8a9"/><rect x="107.92" y="387.81" width="11.08" height="4.29" fill="#f2a8a9"/><rect x="118.93" y="387.81" width="11.08" height="4.29" fill="#ec6565"/><rect x="129.95" y="387.81" width="11.08" height="4.29" fill="#e52e30"/><rect x="140.97" y="387.81" width="11.08" height="4.29" fill="#ec6565"/><rect x="151.98" y="387.81" width="11.08" height="4.29" fill="#f7f4f7"/><rect x="163.00" y="387.81" width="11.08" height="4.29" fill="#a9aedb"/><rect x="174.02" y="387.81" width="11.08" height="4.29" fill="#2e49a5"/><rect x="185.03" y="387.81" width="11.08" height="4.29" fill="#5b71bd"/><rect x="196.05" y="387.81" width="11.08" height="4.29" fill="#5b71bd"/><rect x="207.07" y="387.81" width="11.08" height="4.29" fill="#2e49a5"/><rect x="218.08" y="387.81" width="11.08" height="4.29" fill="#2e49a5"/><rect x="30.80" y="392.05" width="11.08" height="4.29" fill="#e95050"/><rect x="41.82" y="392.05" width="11.08" height="4.29" fill="#e95050"/><rect x="52.83" y="392.05" width="11.08" height="4.29" fill="#e95050"/><rect x="63.85" y="392.05" width="11.08" height="4.29" fill="#ec6565"/><rect x="74.87" y="392.05" width="11.08" height="4.29" fill="#f2a8a9"/><rect x="85.88" y="392.05" width="11.08" height="4.29" fill="#f2a8a9"/><rect x="96.90" y="392.05" width="11.08" height="4.29" fill="#f2a8a9"/><rect x="107.92" y="392.05" width="11.08" height="4.29" fill="#f2a8a9"/><rect x="118.93" y="392.05" width="11.08" height="4.29" fill="#f2a8a9"/><rect x="129.95" y="392.05" width="11.08" height="4.29" fill="#e52e30"/><rect x="140.97" y="392.05" width="11.08" height="4.29" fill="#f2a8a9"/><rect x="151.98" y="392.05" width="11.08" height="4.29" fill="#a9aedb"/><rect x="163.00" y="392.05" width="11.08" height="4.29" fill="#a9aedb"/><rect x="174.02" y="392.05" width="11.08" height="4.29" fill="#2e49a5"/><rect x="185.03" y="392.05" width="11.08" height="4.29" fill="#5b71bd"/><rect x="196.05" y="392.05" width="11.08" height="4.29" fill="#5b71bd"/><rect x="207.07" y="392.05" width="11.08" height="4.29" fill="#2e49a5"/><rect x="218.08" y="392.05" width="11.08" height="4.29" fill="#2e49a5"/><rect x="30.80" y="396.28" width="11.08" height="4.29" fill="#f19393"/><rect x="41.82" y="396.28" width="11.08" height="4.29" fill="#e95050"/><rect x="52.83" y="396.28" width="11.08" height="4.29" fill="#e95050"/><rect x="63.85" y="396.28" width="11.08" height="4.29" fill="#ec6565"/><rect x="74.87" y="396.28" width="11.08" height="4.29" fill="#f2a8a9"/><rect x="85.88" y="396.28" width="11.08" height="4.29" fill="#f2a8a9"/><rect x="96.90" y="396.28" width="11.08" height="4.29" fill="#f2a8a9"/><rect x="107.92" y="396.28" width="11.08" height="4.29" fill="#f2a8a9"/><rect x="118.93" y="396.28" width="11.08" height="4.29" fill="#f2a8a9"/><rect x="129.95" y="396.28" width="11.08" height="4.29" fill="#e52e30"/><rect x="140.97" y="396.28" width="11.08" height="4.29" fill="#ec6565"/><rect x="151.98" y="396.28" width="11.08" height="4.29" fill="#a9aedb"/><rect x="163.00" y="396.28" width="11.08" height="4.29" fill="#f7f4f7"/><rect x="174.02" y="396.28" width="11.08" height="4.29" fill="#2e49a5"/><rect x="185.03" y="396.28" width="11.08" height="4.29" fill="#5b71bd"/><rect x="196.05" y="396.28" width="11.08" height="4.29" fill="#5b71bd"/><rect x="207.07" y="396.28" width="11.08" height="4.29" fill="#2e49a5"/><rect x="218.08" y="396.28" width="11.08" height="4.29" fill="#2e49a5"/><rect x="30.80" y="400.51" width="11.08" height="4.29" fill="#f19393"/><rect x="41.82" y="400.51" width="11.08" height="4.29" fill="#e95050"/><rect x="52.83" y="400.51" width="11.08" height="4.29" fill="#e95050"/><rect x="63.85" y="400.51" width="11.08" height="4.29" fill="#e52e30"/><rect x="74.87" y="400.51" width="11.08" height="4.29" fill="#f2a8a9"/><rect x="85.88" y="400.51" width="11.08" height="4.29" fill="#f7f4f7"/><rect x="96.90" y="400.51" width="11.08" height="4.29" fill="#f2a8a9"/><rect x="107.92" y="400.51" width="11.08" height="4.29" fill="#f2a8a9"/><rect x="118.93" y="400.51" width="11.08" height="4.29" fill="#f2a8a9"/><rect x="129.95" y="400.51" width="11.08" height="4.29" fill="#ec6565"/><rect x="140.97" y="400.51" width="11.08" height="4.29" fill="#ec6565"/><rect x="151.98" y="400.51" width="11.08" height="4.29" fill="#a9aedb"/><rect x="163.00" y="400.51" width="11.08" height="4.29" fill="#f7f4f7"/><rect x="174.02" y="400.51" width="11.08" height="4.29" fill="#2e49a5"/><rect x="185.03" y="400.51" width="11.08" height="4.29" fill="#5b71bd"/><rect x="196.05" y="400.51" width="11.08" height="4.29" fill="#5b71bd"/><rect x="207.07" y="400.51" width="11.08" height="4.29" fill="#2e49a5"/><rect x="218.08" y="400.51" width="11.08" height="4.29" fill="#2e49a5"/><rect x="30.80" y="404.75" width="11.08" height="4.29" fill="#f19393"/><rect x="41.82" y="404.75" width="11.08" height="4.29" fill="#e95050"/><rect x="52.83" y="404.75" width="11.08" height="4.29" fill="#e95050"/><rect x="63.85" y="404.75" width="11.08" height="4.29" fill="#e52e30"/><rect x="74.87" y="404.75" width="11.08" height="4.29" fill="#f2a8a9"/><rect x="85.88" y="404.75" width="11.08" height="4.29" fill="#f2a8a9"/><rect x="96.90" y="404.75" width="11.08" height="4.29" fill="#f2a8a9"/><rect x="107.92" y="404.75" width="11.08" height="4.29" fill="#f2a8a9"/><rect x="118.93" y="404.75" width="11.08" height="4.29" fill="#f2a8a9"/><rect x="129.95" y="404.75" width="11.08" height="4.29" fill="#ec6565"/><rect x="140.97" y="404.75" width="11.08" height="4.29" fill="#ec6565"/><rect x="151.98" y="404.75" width="11.08" height="4.29" fill="#a9aedb"/><rect x="163.00" y="404.75" width="11.08" height="4.29" fill="#f7f4f7"/><rect x="174.02" y="404.75" width="11.08" height="4.29" fill="#5b71bd"/><rect x="185.03" y="404.75" width="11.08" height="4.29" fill="#a9aedb"/><rect x="196.05" y="404.75" width="11.08" height="4.29" fill="#5b71bd"/><rect x="207.07" y="404.75" width="11.08" height="4.29" fill="#2e49a5"/><rect x="218.08" y="404.75" width="11.08" height="4.29" fill="#2e49a5"/><rect x="30.80" y="408.99" width="11.08" height="4.29" fill="#f19393"/><rect x="41.82" y="408.99" width="11.08" height="4.29" fill="#e95050"/><rect x="52.83" y="408.99" width="11.08" height="4.29" fill="#e95050"/><rect x="63.85" y="408.99" width="11.08" height="4.29" fill="#e52e30"/><rect x="74.87" y="408.99" width="11.08" height="4.29" fill="#f2a8a9"/><rect x="85.88" y="408.99" width="11.08" height="4.29" fill="#f2a8a9"/><rect x="96.90" y="408.99" width="11.08" height="4.29" fill="#f7f4f7"/><rect x="107.92" y="408.99" width="11.08" height="4.29" fill="#f7f4f7"/><rect x="118.93" y="408.99" width="11.08" height="4.29" fill="#f2a8a9"/><rect x="129.95" y="408.99" width="11.08" height="4.29" fill="#e52e30"/><rect x="140.97" y="408.99" width="11.08" height="4.29" fill="#ec6565"/><rect x="151.98" y="408.99" width="11.08" height="4.29" fill="#a9aedb"/><rect x="163.00" y="408.99" width="11.08" height="4.29" fill="#a9aedb"/><rect x="174.02" y="408.99" width="11.08" height="4.29" fill="#2e49a5"/><rect x="185.03" y="408.99" width="11.08" height="4.29" fill="#5b71bd"/><rect x="196.05" y="408.99" width="11.08" height="4.29" fill="#5b71bd"/><rect x="207.07" y="408.99" width="11.08" height="4.29" fill="#2e49a5"/><rect x="218.08" y="408.99" width="11.08" height="4.29" fill="#2e49a5"/><rect x="30.80" y="413.22" width="11.08" height="4.29" fill="#f19393"/><rect x="41.82" y="413.22" width="11.08" height="4.29" fill="#e95050"/><rect x="52.83" y="413.22" width="11.08" height="4.29" fill="#e95050"/><rect x="63.85" y="413.22" width="11.08" height="4.29" fill="#e52e30"/><rect x="74.87" y="413.22" width="11.08" height="4.29" fill="#f2a8a9"/><rect x="85.88" y="413.22" width="11.08" height="4.29" fill="#f2a8a9"/><rect x="96.90" y="413.22" width="11.08" height="4.29" fill="#f2a8a9"/><rect x="107.92" y="413.22" width="11.08" height="4.29" fill="#f2a8a9"/><rect x="118.93" y="413.22" width="11.08" height="4.29" fill="#ec6565"/><rect x="129.95" y="413.22" width="11.08" height="4.29" fill="#ec6565"/><rect x="140.97" y="413.22" width="11.08" height="4.29" fill="#ec6565"/><rect x="151.98" y="413.22" width="11.08" height="4.29" fill="#a9aedb"/><rect x="163.00" y="413.22" width="11.08" height="4.29" fill="#f7f4f7"/><rect x="174.02" y="413.22" width="11.08" height="4.29" fill="#2e49a5"/><rect x="185.03" y="413.22" width="11.08" height="4.29" fill="#5b71bd"/><rect x="196.05" y="413.22" width="11.08" height="4.29" fill="#5b71bd"/><rect x="207.07" y="413.22" width="11.08" height="4.29" fill="#2e49a5"/><rect x="218.08" y="413.22" width="11.08" height="4.29" fill="#2e49a5"/><rect x="30.80" y="417.46" width="11.08" height="4.29" fill="#f19393"/><rect x="41.82" y="417.46" width="11.08" height="4.29" fill="#e52e30"/><rect x="52.83" y="417.46" width="11.08" height="4.29" fill="#e95050"/><rect x="63.85" y="417.46" width="11.08" height="4.29" fill="#e52e30"/><rect x="74.87" y="417.46" width="11.08" height="4.29" fill="#f2a8a9"/><rect x="85.88" y="417.46" width="11.08" height="4.29" fill="#f2a8a9"/><rect x="96.90" y="417.46" width="11.08" height="4.29" fill="#f2a8a9"/><rect x="107.92" y="417.46" width="11.08" height="4.29" fill="#f2a8a9"/><rect x="118.93" y="417.46" width="11.08" height="4.29" fill="#f2a8a9"/><rect x="129.95" y="417.46" width="11.08" height="4.29" fill="#e52e30"/><rect x="140.97" y="417.46" width="11.08" height="4.29" fill="#e52e30"/><rect x="151.98" y="417.46" width="11.08" height="4.29" fill="#f7f4f7"/><rect x="163.00" y="417.46" width="11.08" height="4.29" fill="#f7f4f7"/><rect x="174.02" y="417.46" width="11.08" height="4.29" fill="#2e49a5"/><rect x="185.03" y="417.46" width="11.08" height="4.29" fill="#5b71bd"/><rect x="196.05" y="417.46" width="11.08" height="4.29" fill="#5b71bd"/><rect x="207.07" y="417.46" width="11.08" height="4.29" fill="#2e49a5"/><rect x="218.08" y="417.46" width="11.08" height="4.29" fill="#2e49a5"/><rect x="30.80" y="421.69" width="11.08" height="4.29" fill="#e95050"/><rect x="41.82" y="421.69" width="11.08" height="4.29" fill="#e95050"/><rect x="52.83" y="421.69" width="11.08" height="4.29" fill="#e95050"/><rect x="63.85" y="421.69" width="11.08" height="4.29" fill="#e52e30"/><rect x="74.87" y="421.69" width="11.08" height="4.29" fill="#f2a8a9"/><rect x="85.88" y="421.69" width="11.08" height="4.29" fill="#f2a8a9"/><rect x="96.90" y="421.69" width="11.08" height="4.29" fill="#f7f4f7"/><rect x="107.92" y="421.69" width="11.08" height="4.29" fill="#f7f4f7"/><rect x="118.93" y="421.69" width="11.08" height="4.29" fill="#f2a8a9"/><rect x="129.95" y="421.69" width="11.08" height="4.29" fill="#e52e30"/><rect x="140.97" y="421.69" width="11.08" height="4.29" fill="#f2a8a9"/><rect x="151.98" y="421.69" width="11.08" height="4.29" fill="#f7f4f7"/><rect x="163.00" y="421.69" width="11.08" height="4.29" fill="#a9aedb"/><rect x="174.02" y="421.69" width="11.08" height="4.29" fill="#2e49a5"/><rect x="185.03" y="421.69" width="11.08" height="4.29" fill="#5b71bd"/><rect x="196.05" y="421.69" width="11.08" height="4.29" fill="#5b71bd"/><rect x="207.07" y="421.69" width="11.08" height="4.29" fill="#2e49a5"/><rect x="218.08" y="421.69" width="11.08" height="4.29" fill="#2e49a5"/><rect x="30.80" y="425.93" width="11.08" height="4.29" fill="#e52e30"/><rect x="41.82" y="425.93" width="11.08" height="4.29" fill="#e95050"/><rect x="52.83" y="425.93" width="11.08" height="4.29" fill="#e95050"/><rect x="63.85" y="425.93" width="11.08" height="4.29" fill="#ec6565"/><rect x="74.87" y="425.93" width="11.08" height="4.29" fill="#f2a8a9"/><rect x="85.88" y="425.93" width="11.08" height="4.29" fill="#f2a8a9"/><rect x="96.90" y="425.93" width="11.08" height="4.29" fill="#f7f4f7"/><rect x="107.92" y="425.93" width="11.08" height="4.29" fill="#f7f4f7"/><rect x="118.93" y="425.93" width="11.08" height="4.29" fill="#ec6565"/><rect x="129.95" y="425.93" width="11.08" height="4.29" fill="#e52e30"/><rect x="140.97" y="425.93" width="11.08" height="4.29" fill="#f2a8a9"/><rect x="151.98" y="425.93" width="11.08" height="4.29" fill="#a9aedb"/><rect x="163.00" y="425.93" width="11.08" height="4.29" fill="#a9aedb"/><rect x="174.02" y="425.93" width="11.08" height="4.29" fill="#2e49a5"/><rect x="185.03" y="425.93" width="11.08" height="4.29" fill="#5b71bd"/><rect x="196.05" y="425.93" width="11.08" height="4.29" fill="#5b71bd"/><rect x="207.07" y="425.93" width="11.08" height="4.29" fill="#2e49a5"/><rect x="218.08" y="425.93" width="11.08" height="4.29" fill="#2e49a5"/><rect x="30.80" y="430.16" width="11.08" height="4.29" fill="#f19393"/><rect x="41.82" y="430.16" width="11.08" height="4.29" fill="#e95050"/><rect x="52.83" y="430.16" width="11.08" height="4.29" fill="#e95050"/><rect x="63.85" y="430.16" width="11.08" height="4.29" fill="#e52e30"/><rect x="74.87" y="430.16" width="11.08" height="4.29" fill="#f2a8a9"/><rect x="85.88" y="430.16" width="11.08" height="4.29" fill="#f2a8a9"/><rect x="96.90" y="430.16" width="11.08" height="4.29" fill="#f7f4f7"/><rect x="107.92" y="430.16" width="11.08" height="4.29" fill="#f7f4f7"/><rect x="118.93" y="430.16" width="11.08" height="4.29" fill="#f2a8a9"/><rect x="129.95" y="430.16" width="11.08" height="4.29" fill="#e52e30"/><rect x="140.97" y="430.16" width="11.08" height="4.29" fill="#f2a8a9"/><rect x="151.98" y="430.16" width="11.08" height="4.29" fill="#a9aedb"/><rect x="163.00" y="430.16" width="11.08" height="4.29" fill="#f7f4f7"/><rect x="174.02" y="430.16" width="11.08" height="4.29" fill="#2e49a5"/><rect x="185.03" y="430.16" width="11.08" height="4.29" fill="#a9aedb"/><rect x="196.05" y="430.16" width="11.08" height="4.29" fill="#5b71bd"/><rect x="207.07" y="430.16" width="11.08" height="4.29" fill="#2e49a5"/><rect x="218.08" y="430.16" width="11.08" height="4.29" fill="#2e49a5"/><rect x="30.80" y="434.39" width="11.08" height="4.29" fill="#f19393"/><rect x="41.82" y="434.39" width="11.08" height="4.29" fill="#e95050"/><rect x="52.83" y="434.39" width="11.08" height="4.29" fill="#f19393"/><rect x="63.85" y="434.39" width="11.08" height="4.29" fill="#e52e30"/><rect x="74.87" y="434.39" width="11.08" height="4.29" fill="#ec6565"/><rect x="85.88" y="434.39" width="11.08" height="4.29" fill="#f2a8a9"/><rect x="96.90" y="434.39" width="11.08" height="4.29" fill="#f7f4f7"/><rect x="107.92" y="434.39" width="11.08" height="4.29" fill="#f7f4f7"/><rect x="118.93" y="434.39" width="11.08" height="4.29" fill="#f2a8a9"/><rect x="129.95" y="434.39" width="11.08" height="4.29" fill="#e52e30"/><rect x="140.97" y="434.39" width="11.08" height="4.29" fill="#ec6565"/><rect x="151.98" y="434.39" width="11.08" height="4.29" fill="#a9aedb"/><rect x="163.00" y="434.39" width="11.08" height="4.29" fill="#f7f4f7"/><rect x="174.02" y="434.39" width="11.08" height="4.29" fill="#2e49a5"/><rect x="185.03" y="434.39" width="11.08" height="4.29" fill="#a9aedb"/><rect x="196.05" y="434.39" width="11.08" height="4.29" fill="#5b71bd"/><rect x="207.07" y="434.39" width="11.08" height="4.29" fill="#2e49a5"/><rect x="218.08" y="434.39" width="11.08" height="4.29" fill="#2e49a5"/><rect x="30.80" y="438.63" width="11.08" height="4.29" fill="#f19393"/><rect x="41.82" y="438.63" width="11.08" height="4.29" fill="#e95050"/><rect x="52.83" y="438.63" width="11.08" height="4.29" fill="#e95050"/><rect x="63.85" y="438.63" width="11.08" height="4.29" fill="#f7f4f7"/><rect x="74.87" y="438.63" width="11.08" height="4.29" fill="#f7f4f7"/><rect x="85.88" y="438.63" width="11.08" height="4.29" fill="#ec6565"/><rect x="96.90" y="438.63" width="11.08" height="4.29" fill="#f7f4f7"/><rect x="107.92" y="438.63" width="11.08" height="4.29" fill="#f7f4f7"/><rect x="118.93" y="438.63" width="11.08" height="4.29" fill="#ec6565"/><rect x="129.95" y="438.63" width="11.08" height="4.29" fill="#ec6565"/><rect x="140.97" y="438.63" width="11.08" height="4.29" fill="#f2a8a9"/><rect x="151.98" y="438.63" width="11.08" height="4.29" fill="#a9aedb"/><rect x="163.00" y="438.63" width="11.08" height="4.29" fill="#f7f4f7"/><rect x="174.02" y="438.63" width="11.08" height="4.29" fill="#5b71bd"/><rect x="185.03" y="438.63" width="11.08" height="4.29" fill="#a9aedb"/><rect x="196.05" y="438.63" width="11.08" height="4.29" fill="#2e49a5"/><rect x="207.07" y="438.63" width="11.08" height="4.29" fill="#2e49a5"/><rect x="218.08" y="438.63" width="11.08" height="4.29" fill="#2e49a5"/><rect x="30.80" y="442.87" width="11.08" height="4.29" fill="#e95050"/><rect x="41.82" y="442.87" width="11.08" height="4.29" fill="#e95050"/><rect x="52.83" y="442.87" width="11.08" height="4.29" fill="#e95050"/><rect x="63.85" y="442.87" width="11.08" height="4.29" fill="#f2a8a9"/><rect x="74.87" y="442.87" width="11.08" height="4.29" fill="#f2a8a9"/><rect x="85.88" y="442.87" width="11.08" height="4.29" fill="#ec6565"/><rect x="96.90" y="442.87" width="11.08" height="4.29" fill="#f2a8a9"/><rect x="107.92" y="442.87" width="11.08" height="4.29" fill="#f2a8a9"/><rect x="118.93" y="442.87" width="11.08" height="4.29" fill="#ec6565"/><rect x="129.95" y="442.87" width="11.08" height="4.29" fill="#ec6565"/><rect x="140.97" y="442.87" width="11.08" height="4.29" fill="#f2a8a9"/><rect x="151.98" y="442.87" width="11.08" height="4.29" fill="#2e49a5"/><rect x="163.00" y="442.87" width="11.08" height="4.29" fill="#f7f4f7"/><rect x="174.02" y="442.87" width="11.08" height="4.29" fill="#5b71bd"/><rect x="185.03" y="442.87" width="11.08" height="4.29" fill="#a9aedb"/><rect x="196.05" y="442.87" width="11.08" height="4.29" fill="#5b71bd"/><rect x="207.07" y="442.87" width="11.08" height="4.29" fill="#2e49a5"/><rect x="218.08" y="442.87" width="11.08" height="4.29" fill="#2e49a5"/><rect x="30.80" y="447.10" width="11.08" height="4.29" fill="#f19393"/><rect x="41.82" y="447.10" width="11.08" height="4.29" fill="#e95050"/><rect x="52.83" y="447.10" width="11.08" height="4.29" fill="#e95050"/><rect x="63.85" y="447.10" width="11.08" height="4.29" fill="#f2a8a9"/><rect x="74.87" y="447.10" width="11.08" height="4.29" fill="#f7f4f7"/><rect x="85.88" y="447.10" width="11.08" height="4.29" fill="#f2a8a9"/><rect x="96.90" y="447.10" width="11.08" height="4.29" fill="#f7f4f7"/><rect x="107.92" y="447.10" width="11.08" height="4.29" fill="#f7f4f7"/><rect x="118.93" y="447.10" width="11.08" height="4.29" fill="#f2a8a9"/><rect x="129.95" y="447.10" width="11.08" height="4.29" fill="#e52e30"/><rect x="140.97" y="447.10" width="11.08" height="4.29" fill="#f2a8a9"/><rect x="151.98" y="447.10" width="11.08" height="4.29" fill="#f7f4f7"/><rect x="163.00" y="447.10" width="11.08" height="4.29" fill="#f7f4f7"/><rect x="174.02" y="447.10" width="11.08" height="4.29" fill="#2e49a5"/><rect x="185.03" y="447.10" width="11.08" height="4.29" fill="#a9aedb"/><rect x="196.05" y="447.10" width="11.08" height="4.29" fill="#2e49a5"/><rect x="207.07" y="447.10" width="11.08" height="4.29" fill="#5b71bd"/><rect x="218.08" y="447.10" width="11.08" height="4.29" fill="#2e49a5"/><rect x="30.80" y="451.34" width="11.08" height="4.29" fill="#f19393"/><rect x="41.82" y="451.34" width="11.08" height="4.29" fill="#e95050"/><rect x="52.83" y="451.34" width="11.08" height="4.29" fill="#e52e30"/><rect x="63.85" y="451.34" width="11.08" height="4.29" fill="#f7f4f7"/><rect x="74.87" y="451.34" width="11.08" height="4.29" fill="#f7f4f7"/><rect x="85.88" y="451.34" width="11.08" height="4.29" fill="#f2a8a9"/><rect x="96.90" y="451.34" width="11.08" height="4.29" fill="#f2a8a9"/><rect x="107.92" y="451.34" width="11.08" height="4.29" fill="#f2a8a9"/><rect x="118.93" y="451.34" width="11.08" height="4.29" fill="#f2a8a9"/><rect x="129.95" y="451.34" width="11.08" height="4.29" fill="#e52e30"/><rect x="140.97" y="451.34" width="11.08" height="4.29" fill="#ec6565"/><rect x="151.98" y="451.34" width="11.08" height="4.29" fill="#a9aedb"/><rect x="163.00" y="451.34" width="11.08" height="4.29" fill="#f7f4f7"/><rect x="174.02" y="451.34" width="11.08" height="4.29" fill="#2e49a5"/><rect x="185.03" y="451.34" width="11.08" height="4.29" fill="#5b71bd"/><rect x="196.05" y="451.34" width="11.08" height="4.29" fill="#5b71bd"/><rect x="207.07" y="451.34" width="11.08" height="4.29" fill="#2e49a5"/><rect x="218.08" y="451.34" width="11.08" height="4.29" fill="#2e49a5"/><rect x="30.80" y="455.57" width="11.08" height="4.29" fill="#f19393"/><rect x="41.82" y="455.57" width="11.08" height="4.29" fill="#e95050"/><rect x="52.83" y="455.57" width="11.08" height="4.29" fill="#e95050"/><rect x="63.85" y="455.57" width="11.08" height="4.29" fill="#f7f4f7"/><rect x="74.87" y="455.57" width="11.08" height="4.29" fill="#f2a8a9"/><rect x="85.88" y="455.57" width="11.08" height="4.29" fill="#f2a8a9"/><rect x="96.90" y="455.57" width="11.08" height="4.29" fill="#f2a8a9"/><rect x="107.92" y="455.57" width="11.08" height="4.29" fill="#f2a8a9"/><rect x="118.93" y="455.57" width="11.08" height="4.29" fill="#f2a8a9"/><rect x="129.95" y="455.57" width="11.08" height="4.29" fill="#e52e30"/><rect x="140.97" y="455.57" width="11.08" height="4.29" fill="#ec6565"/><rect x="151.98" y="455.57" width="11.08" height="4.29" fill="#a9aedb"/><rect x="163.00" y="455.57" width="11.08" height="4.29" fill="#f7f4f7"/><rect x="174.02" y="455.57" width="11.08" height="4.29" fill="#2e49a5"/><rect x="185.03" y="455.57" width="11.08" height="4.29" fill="#5b71bd"/><rect x="196.05" y="455.57" width="11.08" height="4.29" fill="#a9aedb"/><rect x="207.07" y="455.57" width="11.08" height="4.29" fill="#2e49a5"/><rect x="218.08" y="455.57" width="11.08" height="4.29" fill="#2e49a5"/><rect x="30.80" y="459.81" width="11.08" height="4.29" fill="#f19393"/><rect x="41.82" y="459.81" width="11.08" height="4.29" fill="#e95050"/><rect x="52.83" y="459.81" width="11.08" height="4.29" fill="#e95050"/><rect x="63.85" y="459.81" width="11.08" height="4.29" fill="#f2a8a9"/><rect x="74.87" y="459.81" width="11.08" height="4.29" fill="#f2a8a9"/><rect x="85.88" y="459.81" width="11.08" height="4.29" fill="#f2a8a9"/><rect x="96.90" y="459.81" width="11.08" height="4.29" fill="#f2a8a9"/><rect x="107.92" y="459.81" width="11.08" height="4.29" fill="#f2a8a9"/><rect x="118.93" y="459.81" width="11.08" height="4.29" fill="#ec6565"/><rect x="129.95" y="459.81" width="11.08" height="4.29" fill="#e52e30"/><rect x="140.97" y="459.81" width="11.08" height="4.29" fill="#ec6565"/><rect x="151.98" y="459.81" width="11.08" height="4.29" fill="#f7f4f7"/><rect x="163.00" y="459.81" width="11.08" height="4.29" fill="#f7f4f7"/><rect x="174.02" y="459.81" width="11.08" height="4.29" fill="#2e49a5"/><rect x="185.03" y="459.81" width="11.08" height="4.29" fill="#5b71bd"/><rect x="196.05" y="459.81" width="11.08" height="4.29" fill="#5b71bd"/><rect x="207.07" y="459.81" width="11.08" height="4.29" fill="#2e49a5"/><rect x="218.08" y="459.81" width="11.08" height="4.29" fill="#2e49a5"/><rect x="30.80" y="464.04" width="11.08" height="4.29" fill="#f19393"/><rect x="41.82" y="464.04" width="11.08" height="4.29" fill="#e95050"/><rect x="52.83" y="464.04" width="11.08" height="4.29" fill="#e95050"/><rect x="63.85" y="464.04" width="11.08" height="4.29" fill="#f2a8a9"/><rect x="74.87" y="464.04" width="11.08" height="4.29" fill="#f7f4f7"/><rect x="85.88" y="464.04" width="11.08" height="4.29" fill="#f2a8a9"/><rect x="96.90" y="464.04" width="11.08" height="4.29" fill="#f7f4f7"/><rect x="107.92" y="464.04" width="11.08" height="4.29" fill="#f7f4f7"/><rect x="118.93" y="464.04" width="11.08" height="4.29" fill="#f2a8a9"/><rect x="129.95" y="464.04" width="11.08" height="4.29" fill="#e52e30"/><rect x="140.97" y="464.04" width="11.08" height="4.29" fill="#f2a8a9"/><rect x="151.98" y="464.04" width="11.08" height="4.29" fill="#5b71bd"/><rect x="163.00" y="464.04" width="11.08" height="4.29" fill="#a9aedb"/><rect x="174.02" y="464.04" width="11.08" height="4.29" fill="#2e49a5"/><rect x="185.03" y="464.04" width="11.08" height="4.29" fill="#a9aedb"/><rect x="196.05" y="464.04" width="11.08" height="4.29" fill="#5b71bd"/><rect x="207.07" y="464.04" width="11.08" height="4.29" fill="#2e49a5"/><rect x="218.08" y="464.04" width="11.08" height="4.29" fill="#2e49a5"/><rect x="30.80" y="468.28" width="11.08" height="4.29" fill="#f19393"/><rect x="41.82" y="468.28" width="11.08" height="4.29" fill="#e95050"/><rect x="52.83" y="468.28" width="11.08" height="4.29" fill="#e95050"/><rect x="63.85" y="468.28" width="11.08" height="4.29" fill="#f2a8a9"/><rect x="74.87" y="468.28" width="11.08" height="4.29" fill="#a9aedb"/><rect x="85.88" y="468.28" width="11.08" height="4.29" fill="#ec6565"/><rect x="96.90" y="468.28" width="11.08" height="4.29" fill="#f2a8a9"/><rect x="107.92" y="468.28" width="11.08" height="4.29" fill="#f2a8a9"/><rect x="118.93" y="468.28" width="11.08" height="4.29" fill="#f2a8a9"/><rect x="129.95" y="468.28" width="11.08" height="4.29" fill="#e52e30"/><rect x="140.97" y="468.28" width="11.08" height="4.29" fill="#f2a8a9"/><rect x="151.98" y="468.28" width="11.08" height="4.29" fill="#f7f4f7"/><rect x="163.00" y="468.28" width="11.08" height="4.29" fill="#f7f4f7"/><rect x="174.02" y="468.28" width="11.08" height="4.29" fill="#2e49a5"/><rect x="185.03" y="468.28" width="11.08" height="4.29" fill="#2e49a5"/><rect x="196.05" y="468.28" width="11.08" height="4.29" fill="#5b71bd"/><rect x="207.07" y="468.28" width="11.08" height="4.29" fill="#2e49a5"/><rect x="218.08" y="468.28" width="11.08" height="4.29" fill="#2e49a5"/><rect x="30.80" y="472.51" width="11.08" height="4.29" fill="#f19393"/><rect x="41.82" y="472.51" width="11.08" height="4.29" fill="#e95050"/><rect x="52.83" y="472.51" width="11.08" height="4.29" fill="#e52e30"/><rect x="63.85" y="472.51" width="11.08" height="4.29" fill="#a9aedb"/><rect x="74.87" y="472.51" width="11.08" height="4.29" fill="#f7f4f7"/><rect x="85.88" y="472.51" width="11.08" height="4.29" fill="#f2a8a9"/><rect x="96.90" y="472.51" width="11.08" height="4.29" fill="#f2a8a9"/><rect x="107.92" y="472.51" width="11.08" height="4.29" fill="#f2a8a9"/><rect x="118.93" y="472.51" width="11.08" height="4.29" fill="#f2a8a9"/><rect x="129.95" y="472.51" width="11.08" height="4.29" fill="#e52e30"/><rect x="140.97" y="472.51" width="11.08" height="4.29" fill="#f2a8a9"/><rect x="151.98" y="472.51" width="11.08" height="4.29" fill="#f7f4f7"/><rect x="163.00" y="472.51" width="11.08" height="4.29" fill="#a9aedb"/><rect x="174.02" y="472.51" width="11.08" height="4.29" fill="#2e49a5"/><rect x="185.03" y="472.51" width="11.08" height="4.29" fill="#5b71bd"/><rect x="196.05" y="472.51" width="11.08" height="4.29" fill="#f7f4f7"/><rect x="207.07" y="472.51" width="11.08" height="4.29" fill="#2e49a5"/><rect x="218.08" y="472.51" width="11.08" height="4.29" fill="#2e49a5"/><rect x="30.80" y="476.75" width="11.08" height="4.29" fill="#f19393"/><rect x="41.82" y="476.75" width="11.08" height="4.29" fill="#e95050"/><rect x="52.83" y="476.75" width="11.08" height="4.29" fill="#e95050"/><rect x="63.85" y="476.75" width="11.08" height="4.29" fill="#f2a8a9"/><rect x="74.87" y="476.75" width="11.08" height="4.29" fill="#f7f4f7"/><rect x="85.88" y="476.75" width="11.08" height="4.29" fill="#f7f4f7"/><rect x="96.90" y="476.75" width="11.08" height="4.29" fill="#f2a8a9"/><rect x="107.92" y="476.75" width="11.08" height="4.29" fill="#f2a8a9"/><rect x="118.93" y="476.75" width="11.08" height="4.29" fill="#f2a8a9"/><rect x="129.95" y="476.75" width="11.08" height="4.29" fill="#ec6565"/><rect x="140.97" y="476.75" width="11.08" height="4.29" fill="#e52e30"/><rect x="151.98" y="476.75" width="11.08" height="4.29" fill="#a9aedb"/><rect x="163.00" y="476.75" width="11.08" height="4.29" fill="#f7f4f7"/><rect x="174.02" y="476.75" width="11.08" height="4.29" fill="#2e49a5"/><rect x="185.03" y="476.75" width="11.08" height="4.29" fill="#5b71bd"/><rect x="196.05" y="476.75" width="11.08" height="4.29" fill="#5b71bd"/><rect x="207.07" y="476.75" width="11.08" height="4.29" fill="#2e49a5"/><rect x="218.08" y="476.75" width="11.08" height="4.29" fill="#2e49a5"/><rect x="30.80" y="480.98" width="11.08" height="4.29" fill="#f19393"/><rect x="41.82" y="480.98" width="11.08" height="4.29" fill="#e95050"/><rect x="52.83" y="480.98" width="11.08" height="4.29" fill="#e95050"/><rect x="63.85" y="480.98" width="11.08" height="4.29" fill="#f2a8a9"/><rect x="74.87" y="480.98" width="11.08" height="4.29" fill="#f7f4f7"/><rect x="85.88" y="480.98" width="11.08" height="4.29" fill="#f2a8a9"/><rect x="96.90" y="480.98" width="11.08" height="4.29" fill="#f2a8a9"/><rect x="107.92" y="480.98" width="11.08" height="4.29" fill="#f2a8a9"/><rect x="118.93" y="480.98" width="11.08" height="4.29" fill="#f2a8a9"/><rect x="129.95" y="480.98" width="11.08" height="4.29" fill="#e52e30"/><rect x="140.97" y="480.98" width="11.08" height="4.29" fill="#ec6565"/><rect x="151.98" y="480.98" width="11.08" height="4.29" fill="#a9aedb"/><rect x="163.00" y="480.98" width="11.08" height="4.29" fill="#f7f4f7"/><rect x="174.02" y="480.98" width="11.08" height="4.29" fill="#2e49a5"/><rect x="185.03" y="480.98" width="11.08" height="4.29" fill="#5b71bd"/><rect x="196.05" y="480.98" width="11.08" height="4.29" fill="#5b71bd"/><rect x="207.07" y="480.98" width="11.08" height="4.29" fill="#2e49a5"/><rect x="218.08" y="480.98" width="11.08" height="4.29" fill="#2e49a5"/><rect x="30.80" y="485.22" width="11.08" height="4.29" fill="#f19393"/><rect x="41.82" y="485.22" width="11.08" height="4.29" fill="#e95050"/><rect x="52.83" y="485.22" width="11.08" height="4.29" fill="#e95050"/><rect x="63.85" y="485.22" width="11.08" height="4.29" fill="#f7f4f7"/><rect x="74.87" y="485.22" width="11.08" height="4.29" fill="#f2a8a9"/><rect x="85.88" y="485.22" width="11.08" height="4.29" fill="#f2a8a9"/><rect x="96.90" y="485.22" width="11.08" height="4.29" fill="#f2a8a9"/><rect x="107.92" y="485.22" width="11.08" height="4.29" fill="#f2a8a9"/><rect x="118.93" y="485.22" width="11.08" height="4.29" fill="#f2a8a9"/><rect x="129.95" y="485.22" width="11.08" height="4.29" fill="#e52e30"/><rect x="140.97" y="485.22" width="11.08" height="4.29" fill="#ec6565"/><rect x="151.98" y="485.22" width="11.08" height="4.29" fill="#a9aedb"/><rect x="163.00" y="485.22" width="11.08" height="4.29" fill="#f7f4f7"/><rect x="174.02" y="485.22" width="11.08" height="4.29" fill="#2e49a5"/><rect x="185.03" y="485.22" width="11.08" height="4.29" fill="#5b71bd"/><rect x="196.05" y="485.22" width="11.08" height="4.29" fill="#5b71bd"/><rect x="207.07" y="485.22" width="11.08" height="4.29" fill="#2e49a5"/><rect x="218.08" y="485.22" width="11.08" height="4.29" fill="#2e49a5"/><rect x="30.80" y="489.45" width="11.08" height="4.29" fill="#f19393"/><rect x="41.82" y="489.45" width="11.08" height="4.29" fill="#e95050"/><rect x="52.83" y="489.45" width="11.08" height="4.29" fill="#e95050"/><rect x="63.85" y="489.45" width="11.08" height="4.29" fill="#f2a8a9"/><rect x="74.87" y="489.45" width="11.08" height="4.29" fill="#a9aedb"/><rect x="85.88" y="489.45" width="11.08" height="4.29" fill="#f2a8a9"/><rect x="96.90" y="489.45" width="11.08" height="4.29" fill="#f2a8a9"/><rect x="107.92" y="489.45" width="11.08" height="4.29" fill="#f2a8a9"/><rect x="118.93" y="489.45" width="11.08" height="4.29" fill="#ec6565"/><rect x="129.95" y="489.45" width="11.08" height="4.29" fill="#e52e30"/><rect x="140.97" y="489.45" width="11.08" height="4.29" fill="#ec6565"/><rect x="151.98" y="489.45" width="11.08" height="4.29" fill="#5b71bd"/><rect x="163.00" y="489.45" width="11.08" height="4.29" fill="#a9aedb"/><rect x="174.02" y="489.45" width="11.08" height="4.29" fill="#2e49a5"/><rect x="185.03" y="489.45" width="11.08" height="4.29" fill="#5b71bd"/><rect x="196.05" y="489.45" width="11.08" height="4.29" fill="#5b71bd"/><rect x="207.07" y="489.45" width="11.08" height="4.29" fill="#2e49a5"/><rect x="218.08" y="489.45" width="11.08" height="4.29" fill="#2e49a5"/><rect x="30.80" y="493.69" width="11.08" height="4.29" fill="#f19393"/><rect x="41.82" y="493.69" width="11.08" height="4.29" fill="#e95050"/><rect x="52.83" y="493.69" width="11.08" height="4.29" fill="#e95050"/><rect x="63.85" y="493.69" width="11.08" height="4.29" fill="#f2a8a9"/><rect x="74.87" y="493.69" width="11.08" height="4.29" fill="#f7f4f7"/><rect x="85.88" y="493.69" width="11.08" height="4.29" fill="#f2a8a9"/><rect x="96.90" y="493.69" width="11.08" height="4.29" fill="#f2a8a9"/><rect x="107.92" y="493.69" width="11.08" height="4.29" fill="#f2a8a9"/><rect x="118.93" y="493.69" width="11.08" height="4.29" fill="#f2a8a9"/><rect x="129.95" y="493.69" width="11.08" height="4.29" fill="#e52e30"/><rect x="140.97" y="493.69" width="11.08" height="4.29" fill="#f2a8a9"/><rect x="151.98" y="493.69" width="11.08" height="4.29" fill="#f7f4f7"/><rect x="163.00" y="493.69" width="11.08" height="4.29" fill="#a9aedb"/><rect x="174.02" y="493.69" width="11.08" height="4.29" fill="#2e49a5"/><rect x="185.03" y="493.69" width="11.08" height="4.29" fill="#a9aedb"/><rect x="196.05" y="493.69" width="11.08" height="4.29" fill="#5b71bd"/><rect x="207.07" y="493.69" width="11.08" height="4.29" fill="#2e49a5"/><rect x="218.08" y="493.69" width="11.08" height="4.29" fill="#2e49a5"/><rect x="30.80" y="497.92" width="11.08" height="4.29" fill="#f19393"/><rect x="41.82" y="497.92" width="11.08" height="4.29" fill="#e95050"/><rect x="52.83" y="497.92" width="11.08" height="4.29" fill="#e95050"/><rect x="63.85" y="497.92" width="11.08" height="4.29" fill="#e52e30"/><rect x="74.87" y="497.92" width="11.08" height="4.29" fill="#e52e30"/><rect x="85.88" y="497.92" width="11.08" height="4.29" fill="#f2a8a9"/><rect x="96.90" y="497.92" width="11.08" height="4.29" fill="#f7f4f7"/><rect x="107.92" y="497.92" width="11.08" height="4.29" fill="#f7f4f7"/><rect x="118.93" y="497.92" width="11.08" height="4.29" fill="#f2a8a9"/><rect x="129.95" y="497.92" width="11.08" height="4.29" fill="#e52e30"/><rect x="140.97" y="497.92" width="11.08" height="4.29" fill="#f2a8a9"/><rect x="151.98" y="497.92" width="11.08" height="4.29" fill="#5b71bd"/><rect x="163.00" y="497.92" width="11.08" height="4.29" fill="#a9aedb"/><rect x="174.02" y="497.92" width="11.08" height="4.29" fill="#2e49a5"/><rect x="185.03" y="497.92" width="11.08" height="4.29" fill="#5b71bd"/><rect x="196.05" y="497.92" width="11.08" height="4.29" fill="#a9aedb"/><rect x="207.07" y="497.92" width="11.08" height="4.29" fill="#2e49a5"/><rect x="218.08" y="497.92" width="11.08" height="4.29" fill="#2e49a5"/><rect x="30.80" y="502.16" width="11.08" height="4.29" fill="#f19393"/><rect x="41.82" y="502.16" width="11.08" height="4.29" fill="#e95050"/><rect x="52.83" y="502.16" width="11.08" height="4.29" fill="#e95050"/><rect x="63.85" y="502.16" width="11.08" height="4.29" fill="#ec6565"/><rect x="74.87" y="502.16" width="11.08" height="4.29" fill="#ec6565"/><rect x="85.88" y="502.16" width="11.08" height="4.29" fill="#ec6565"/><rect x="96.90" y="502.16" width="11.08" height="4.29" fill="#f2a8a9"/><rect x="107.92" y="502.16" width="11.08" height="4.29" fill="#f2a8a9"/><rect x="118.93" y="502.16" width="11.08" height="4.29" fill="#f2a8a9"/><rect x="129.95" y="502.16" width="11.08" height="4.29" fill="#e52e30"/><rect x="140.97" y="502.16" width="11.08" height="4.29" fill="#ec6565"/><rect x="151.98" y="502.16" width="11.08" height="4.29" fill="#a9aedb"/><rect x="163.00" y="502.16" width="11.08" height="4.29" fill="#a9aedb"/><rect x="174.02" y="502.16" width="11.08" height="4.29" fill="#2e49a5"/><rect x="185.03" y="502.16" width="11.08" height="4.29" fill="#a9aedb"/><rect x="196.05" y="502.16" width="11.08" height="4.29" fill="#2e49a5"/><rect x="207.07" y="502.16" width="11.08" height="4.29" fill="#2e49a5"/><rect x="218.08" y="502.16" width="11.08" height="4.29" fill="#2e49a5"/><rect x="30.80" y="506.39" width="11.08" height="4.29" fill="#e95050"/><rect x="41.82" y="506.39" width="11.08" height="4.29" fill="#e52e30"/><rect x="52.83" y="506.39" width="11.08" height="4.29" fill="#e95050"/><rect x="63.85" y="506.39" width="11.08" height="4.29" fill="#f2a8a9"/><rect x="74.87" y="506.39" width="11.08" height="4.29" fill="#ec6565"/><rect x="85.88" y="506.39" width="11.08" height="4.29" fill="#ec6565"/><rect x="96.90" y="506.39" width="11.08" height="4.29" fill="#f7f4f7"/><rect x="107.92" y="506.39" width="11.08" height="4.29" fill="#f7f4f7"/><rect x="118.93" y="506.39" width="11.08" height="4.29" fill="#f2a8a9"/><rect x="129.95" y="506.39" width="11.08" height="4.29" fill="#e52e30"/><rect x="140.97" y="506.39" width="11.08" height="4.29" fill="#ec6565"/><rect x="151.98" y="506.39" width="11.08" height="4.29" fill="#a9aedb"/><rect x="163.00" y="506.39" width="11.08" height="4.29" fill="#f7f4f7"/><rect x="174.02" y="506.39" width="11.08" height="4.29" fill="#2e49a5"/><rect x="185.03" y="506.39" width="11.08" height="4.29" fill="#5b71bd"/><rect x="196.05" y="506.39" width="11.08" height="4.29" fill="#5b71bd"/><rect x="207.07" y="506.39" width="11.08" height="4.29" fill="#2e49a5"/><rect x="218.08" y="506.39" width="11.08" height="4.29" fill="#2e49a5"/><rect x="30.80" y="510.62" width="11.08" height="4.29" fill="#f19393"/><rect x="41.82" y="510.62" width="11.08" height="4.29" fill="#e52e30"/><rect x="52.83" y="510.62" width="11.08" height="4.29" fill="#e52e30"/><rect x="63.85" y="510.62" width="11.08" height="4.29" fill="#f7f4f7"/><rect x="74.87" y="510.62" width="11.08" height="4.29" fill="#f7f4f7"/><rect x="85.88" y="510.62" width="11.08" height="4.29" fill="#ec6565"/><rect x="96.90" y="510.62" width="11.08" height="4.29" fill="#ec6565"/><rect x="107.92" y="510.62" width="11.08" height="4.29" fill="#ec6565"/><rect x="118.93" y="510.62" width="11.08" height="4.29" fill="#ec6565"/><rect x="129.95" y="510.62" width="11.08" height="4.29" fill="#e52e30"/><rect x="140.97" y="510.62" width="11.08" height="4.29" fill="#ec6565"/><rect x="151.98" y="510.62" width="11.08" height="4.29" fill="#f7f4f7"/><rect x="163.00" y="510.62" width="11.08" height="4.29" fill="#f7f4f7"/><rect x="174.02" y="510.62" width="11.08" height="4.29" fill="#2e49a5"/><rect x="185.03" y="510.62" width="11.08" height="4.29" fill="#5b71bd"/><rect x="196.05" y="510.62" width="11.08" height="4.29" fill="#5b71bd"/><rect x="207.07" y="510.62" width="11.08" height="4.29" fill="#2e49a5"/><rect x="218.08" y="510.62" width="11.08" height="4.29" fill="#2e49a5"/><rect x="30.80" y="514.86" width="11.08" height="4.29" fill="#f19393"/><rect x="41.82" y="514.86" width="11.08" height="4.29" fill="#e95050"/><rect x="52.83" y="514.86" width="11.08" height="4.29" fill="#e95050"/><rect x="63.85" y="514.86" width="11.08" height="4.29" fill="#f7f4f7"/><rect x="74.87" y="514.86" width="11.08" height="4.29" fill="#a9aedb"/><rect x="85.88" y="514.86" width="11.08" height="4.29" fill="#f2a8a9"/><rect x="96.90" y="514.86" width="11.08" height="4.29" fill="#f2a8a9"/><rect x="107.92" y="514.86" width="11.08" height="4.29" fill="#f2a8a9"/><rect x="118.93" y="514.86" width="11.08" height="4.29" fill="#f2a8a9"/><rect x="129.95" y="514.86" width="11.08" height="4.29" fill="#e52e30"/><rect x="140.97" y="514.86" width="11.08" height="4.29" fill="#ec6565"/><rect x="151.98" y="514.86" width="11.08" height="4.29" fill="#a9aedb"/><rect x="163.00" y="514.86" width="11.08" height="4.29" fill="#f7f4f7"/><rect x="174.02" y="514.86" width="11.08" height="4.29" fill="#2e49a5"/><rect x="185.03" y="514.86" width="11.08" height="4.29" fill="#a9aedb"/><rect x="196.05" y="514.86" width="11.08" height="4.29" fill="#a9aedb"/><rect x="207.07" y="514.86" width="11.08" height="4.29" fill="#2e49a5"/><rect x="218.08" y="514.86" width="11.08" height="4.29" fill="#2e49a5"/><rect x="30.80" y="519.10" width="11.08" height="4.29" fill="#f19393"/><rect x="41.82" y="519.10" width="11.08" height="4.29" fill="#e95050"/><rect x="52.83" y="519.10" width="11.08" height="4.29" fill="#e95050"/><rect x="63.85" y="519.10" width="11.08" height="4.29" fill="#a9aedb"/><rect x="74.87" y="519.10" width="11.08" height="4.29" fill="#f7f4f7"/><rect x="85.88" y="519.10" width="11.08" height="4.29" fill="#f2a8a9"/><rect x="96.90" y="519.10" width="11.08" height="4.29" fill="#f2a8a9"/><rect x="107.92" y="519.10" width="11.08" height="4.29" fill="#f2a8a9"/><rect x="118.93" y="519.10" width="11.08" height="4.29" fill="#f2a8a9"/><rect x="129.95" y="519.10" width="11.08" height="4.29" fill="#e52e30"/><rect x="140.97" y="519.10" width="11.08" height="4.29" fill="#e52e30"/><rect x="151.98" y="519.10" width="11.08" height="4.29" fill="#f2a8a9"/><rect x="163.00" y="519.10" width="11.08" height="4.29" fill="#f2a8a9"/><rect x="174.02" y="519.10" width="11.08" height="4.29" fill="#2e49a5"/><rect x="185.03" y="519.10" width="11.08" height="4.29" fill="#a9aedb"/><rect x="196.05" y="519.10" width="11.08" height="4.29" fill="#5b71bd"/><rect x="207.07" y="519.10" width="11.08" height="4.29" fill="#2e49a5"/><rect x="218.08" y="519.10" width="11.08" height="4.29" fill="#2e49a5"/><rect x="30.80" y="523.33" width="11.08" height="4.29" fill="#e52e30"/><rect x="41.82" y="523.33" width="11.08" height="4.29" fill="#f2a8a9"/><rect x="52.83" y="523.33" width="11.08" height="4.29" fill="#2e49a5"/><rect x="63.85" y="523.33" width="11.08" height="4.29" fill="#2e49a5"/><rect x="74.87" y="523.33" width="11.08" height="4.29" fill="#5b71bd"/><rect x="85.88" y="523.33" width="11.08" height="4.29" fill="#f7f4f7"/><rect x="96.90" y="523.33" width="11.08" height="4.29" fill="#f7f4f7"/><rect x="107.92" y="523.33" width="11.08" height="4.29" fill="#f7f4f7"/><rect x="118.93" y="523.33" width="11.08" height="4.29" fill="#a9aedb"/><rect x="129.95" y="523.33" width="11.08" height="4.29" fill="#2e49a5"/><rect x="140.97" y="523.33" width="11.08" height="4.29" fill="#f7f4f7"/><rect x="151.98" y="523.33" width="11.08" height="4.29" fill="#f2a8a9"/><rect x="163.00" y="523.33" width="11.08" height="4.29" fill="#f2a8a9"/><rect x="174.02" y="523.33" width="11.08" height="4.29" fill="#ec6565"/><rect x="185.03" y="523.33" width="11.08" height="4.29" fill="#ec6565"/><rect x="196.05" y="523.33" width="11.08" height="4.29" fill="#f7f4f7"/><rect x="207.07" y="523.33" width="11.08" height="4.29" fill="#ec6565"/><rect x="218.08" y="523.33" width="11.08" height="4.29" fill="#ec6565"/><rect x="30.80" y="527.57" width="11.08" height="4.29" fill="#e52e30"/><rect x="41.82" y="527.57" width="11.08" height="4.29" fill="#e52e30"/><rect x="52.83" y="527.57" width="11.08" height="4.29" fill="#f2a8a9"/><rect x="63.85" y="527.57" width="11.08" height="4.29" fill="#a9aedb"/><rect x="74.87" y="527.57" width="11.08" height="4.29" fill="#f7f4f7"/><rect x="85.88" y="527.57" width="11.08" height="4.29" fill="#a9aedb"/><rect x="96.90" y="527.57" width="11.08" height="4.29" fill="#a9aedb"/><rect x="107.92" y="527.57" width="11.08" height="4.29" fill="#a9aedb"/><rect x="118.93" y="527.57" width="11.08" height="4.29" fill="#a9aedb"/><rect x="129.95" y="527.57" width="11.08" height="4.29" fill="#a9aedb"/><rect x="140.97" y="527.57" width="11.08" height="4.29" fill="#a9aedb"/><rect x="151.98" y="527.57" width="11.08" height="4.29" fill="#a9aedb"/><rect x="163.00" y="527.57" width="11.08" height="4.29" fill="#f7f4f7"/><rect x="174.02" y="527.57" width="11.08" height="4.29" fill="#a9aedb"/><rect x="185.03" y="527.57" width="11.08" height="4.29" fill="#a9aedb"/><rect x="196.05" y="527.57" width="11.08" height="4.29" fill="#a9aedb"/><rect x="207.07" y="527.57" width="11.08" height="4.29" fill="#a9aedb"/><rect x="218.08" y="527.57" width="11.08" height="4.29" fill="#a9aedb"/><rect x="30.80" y="531.80" width="11.08" height="4.29" fill="#e52e30"/><rect x="41.82" y="531.80" width="11.08" height="4.29" fill="#e52e30"/><rect x="52.83" y="531.80" width="11.08" height="4.29" fill="#a9aedb"/><rect x="63.85" y="531.80" width="11.08" height="4.29" fill="#a9aedb"/><rect x="74.87" y="531.80" width="11.08" height="4.29" fill="#f7f4f7"/><rect x="85.88" y="531.80" width="11.08" height="4.29" fill="#f2a8a9"/><rect x="96.90" y="531.80" width="11.08" height="4.29" fill="#a9aedb"/><rect x="107.92" y="531.80" width="11.08" height="4.29" fill="#a9aedb"/><rect x="118.93" y="531.80" width="11.08" height="4.29" fill="#a9aedb"/><rect x="129.95" y="531.80" width="11.08" height="4.29" fill="#a9aedb"/><rect x="140.97" y="531.80" width="11.08" height="4.29" fill="#f2a8a9"/><rect x="151.98" y="531.80" width="11.08" height="4.29" fill="#f7f4f7"/><rect x="163.00" y="531.80" width="11.08" height="4.29" fill="#ec6565"/><rect x="174.02" y="531.80" width="11.08" height="4.29" fill="#a9aedb"/><rect x="185.03" y="531.80" width="11.08" height="4.29" fill="#a9aedb"/><rect x="196.05" y="531.80" width="11.08" height="4.29" fill="#f7f4f7"/><rect x="207.07" y="531.80" width="11.08" height="4.29" fill="#a9aedb"/><rect x="218.08" y="531.80" width="11.08" height="4.29" fill="#a9aedb"/><rect x="30.80" y="536.04" width="11.08" height="4.29" fill="#e52e30"/><rect x="41.82" y="536.04" width="11.08" height="4.29" fill="#e52e30"/><rect x="52.83" y="536.04" width="11.08" height="4.29" fill="#a9aedb"/><rect x="63.85" y="536.04" width="11.08" height="4.29" fill="#f2a8a9"/><rect x="74.87" y="536.04" width="11.08" height="4.29" fill="#a9aedb"/><rect x="85.88" y="536.04" width="11.08" height="4.29" fill="#a9aedb"/><rect x="96.90" y="536.04" width="11.08" height="4.29" fill="#a9aedb"/><rect x="107.92" y="536.04" width="11.08" height="4.29" fill="#a9aedb"/><rect x="118.93" y="536.04" width="11.08" height="4.29" fill="#a9aedb"/><rect x="129.95" y="536.04" width="11.08" height="4.29" fill="#a9aedb"/><rect x="140.97" y="536.04" width="11.08" height="4.29" fill="#f7f4f7"/><rect x="151.98" y="536.04" width="11.08" height="4.29" fill="#a9aedb"/><rect x="163.00" y="536.04" width="11.08" height="4.29" fill="#f2a8a9"/><rect x="174.02" y="536.04" width="11.08" height="4.29" fill="#a9aedb"/><rect x="185.03" y="536.04" width="11.08" height="4.29" fill="#f7f4f7"/><rect x="196.05" y="536.04" width="11.08" height="4.29" fill="#a9aedb"/><rect x="207.07" y="536.04" width="11.08" height="4.29" fill="#a9aedb"/><rect x="218.08" y="536.04" width="11.08" height="4.29" fill="#f7f4f7"/><rect x="30.80" y="540.27" width="11.08" height="4.29" fill="#e52e30"/><rect x="41.82" y="540.27" width="11.08" height="4.29" fill="#e52e30"/><rect x="52.83" y="540.27" width="11.08" height="4.29" fill="#a9aedb"/><rect x="63.85" y="540.27" width="11.08" height="4.29" fill="#ec6565"/><rect x="74.87" y="540.27" width="11.08" height="4.29" fill="#a9aedb"/><rect x="85.88" y="540.27" width="11.08" height="4.29" fill="#a9aedb"/><rect x="96.90" y="540.27" width="11.08" height="4.29" fill="#a9aedb"/><rect x="107.92" y="540.27" width="11.08" height="4.29" fill="#a9aedb"/><rect x="118.93" y="540.27" width="11.08" height="4.29" fill="#a9aedb"/><rect x="129.95" y="540.27" width="11.08" height="4.29" fill="#a9aedb"/><rect x="140.97" y="540.27" width="11.08" height="4.29" fill="#a9aedb"/><rect x="151.98" y="540.27" width="11.08" height="4.29" fill="#a9aedb"/><rect x="163.00" y="540.27" width="11.08" height="4.29" fill="#f7f4f7"/><rect x="174.02" y="540.27" width="11.08" height="4.29" fill="#a9aedb"/><rect x="185.03" y="540.27" width="11.08" height="4.29" fill="#a9aedb"/><rect x="196.05" y="540.27" width="11.08" height="4.29" fill="#a9aedb"/><rect x="207.07" y="540.27" width="11.08" height="4.29" fill="#a9aedb"/><rect x="218.08" y="540.27" width="11.08" height="4.29" fill="#a9aedb"/><rect x="30.80" y="544.51" width="11.08" height="4.29" fill="#e52e30"/><rect x="41.82" y="544.51" width="11.08" height="4.29" fill="#ec6565"/><rect x="52.83" y="544.51" width="11.08" height="4.29" fill="#2e49a5"/><rect x="63.85" y="544.51" width="11.08" height="4.29" fill="#5b71bd"/><rect x="74.87" y="544.51" width="11.08" height="4.29" fill="#e52e30"/><rect x="85.88" y="544.51" width="11.08" height="4.29" fill="#f7f4f7"/><rect x="96.90" y="544.51" width="11.08" height="4.29" fill="#f7f4f7"/><rect x="107.92" y="544.51" width="11.08" height="4.29" fill="#a9aedb"/><rect x="118.93" y="544.51" width="11.08" height="4.29" fill="#5b71bd"/><rect x="129.95" y="544.51" width="11.08" height="4.29" fill="#2e49a5"/><rect x="140.97" y="544.51" width="11.08" height="4.29" fill="#5b71bd"/><rect x="151.98" y="544.51" width="11.08" height="4.29" fill="#a9aedb"/><rect x="163.00" y="544.51" width="11.08" height="4.29" fill="#e52e30"/><rect x="174.02" y="544.51" width="11.08" height="4.29" fill="#ec6565"/><rect x="185.03" y="544.51" width="11.08" height="4.29" fill="#f2a8a9"/><rect x="196.05" y="544.51" width="11.08" height="4.29" fill="#2e49a5"/><rect x="207.07" y="544.51" width="11.08" height="4.29" fill="#f2a8a9"/><rect x="218.08" y="544.51" width="11.08" height="4.29" fill="#2e49a5"/><rect x="30.80" y="548.74" width="11.08" height="4.29" fill="#e52e30"/><rect x="41.82" y="548.74" width="11.08" height="4.29" fill="#ec6565"/><rect x="52.83" y="548.74" width="11.08" height="4.29" fill="#f7f4f7"/><rect x="63.85" y="548.74" width="11.08" height="4.29" fill="#5b71bd"/><rect x="74.87" y="548.74" width="11.08" height="4.29" fill="#f2a8a9"/><rect x="85.88" y="548.74" width="11.08" height="4.29" fill="#5b71bd"/><rect x="96.90" y="548.74" width="11.08" height="4.29" fill="#f2a8a9"/><rect x="107.92" y="548.74" width="11.08" height="4.29" fill="#f2a8a9"/><rect x="118.93" y="548.74" width="11.08" height="4.29" fill="#5b71bd"/><rect x="129.95" y="548.74" width="11.08" height="4.29" fill="#5b71bd"/><rect x="140.97" y="548.74" width="11.08" height="4.29" fill="#2e49a5"/><rect x="151.98" y="548.74" width="11.08" height="4.29" fill="#f7f4f7"/><rect x="163.00" y="548.74" width="11.08" height="4.29" fill="#e52e30"/><rect x="174.02" y="548.74" width="11.08" height="4.29" fill="#f2a8a9"/><rect x="185.03" y="548.74" width="11.08" height="4.29" fill="#f7f4f7"/><rect x="196.05" y="548.74" width="11.08" height="4.29" fill="#5b71bd"/><rect x="207.07" y="548.74" width="11.08" height="4.29" fill="#5b71bd"/><rect x="218.08" y="548.74" width="11.08" height="4.29" fill="#5b71bd"/><rect x="30.80" y="552.98" width="11.08" height="4.29" fill="#5b71bd"/><rect x="41.82" y="552.98" width="11.08" height="4.29" fill="#f7f4f7"/><rect x="52.83" y="552.98" width="11.08" height="4.29" fill="#5b71bd"/><rect x="63.85" y="552.98" width="11.08" height="4.29" fill="#a9aedb"/><rect x="74.87" y="552.98" width="11.08" height="4.29" fill="#f7f4f7"/><rect x="85.88" y="552.98" width="11.08" height="4.29" fill="#e52e30"/><rect x="96.90" y="552.98" width="11.08" height="4.29" fill="#e52e30"/><rect x="107.92" y="552.98" width="11.08" height="4.29" fill="#e52e30"/><rect x="118.93" y="552.98" width="11.08" height="4.29" fill="#5b71bd"/><rect x="129.95" y="552.98" width="11.08" height="4.29" fill="#5b71bd"/><rect x="140.97" y="552.98" width="11.08" height="4.29" fill="#a9aedb"/><rect x="151.98" y="552.98" width="11.08" height="4.29" fill="#ec6565"/><rect x="163.00" y="552.98" width="11.08" height="4.29" fill="#e52e30"/><rect x="174.02" y="552.98" width="11.08" height="4.29" fill="#f7f4f7"/><rect x="185.03" y="552.98" width="11.08" height="4.29" fill="#f2a8a9"/><rect x="196.05" y="552.98" width="11.08" height="4.29" fill="#2e49a5"/><rect x="207.07" y="552.98" width="11.08" height="4.29" fill="#5b71bd"/><rect x="218.08" y="552.98" width="11.08" height="4.29" fill="#a9aedb"/><rect x="30.80" y="557.21" width="11.08" height="4.29" fill="#a9aedb"/><rect x="41.82" y="557.21" width="11.08" height="4.29" fill="#f7f4f7"/><rect x="52.83" y="557.21" width="11.08" height="4.29" fill="#a9aedb"/><rect x="63.85" y="557.21" width="11.08" height="4.29" fill="#2e49a5"/><rect x="74.87" y="557.21" width="11.08" height="4.29" fill="#f2a8a9"/><rect x="85.88" y="557.21" width="11.08" height="4.29" fill="#ec6565"/><rect x="96.90" y="557.21" width="11.08" height="4.29" fill="#a9aedb"/><rect x="107.92" y="557.21" width="11.08" height="4.29" fill="#a9aedb"/><rect x="118.93" y="557.21" width="11.08" height="4.29" fill="#f7f4f7"/><rect x="129.95" y="557.21" width="11.08" height="4.29" fill="#f7f4f7"/><rect x="140.97" y="557.21" width="11.08" height="4.29" fill="#ec6565"/><rect x="151.98" y="557.21" width="11.08" height="4.29" fill="#f2a8a9"/><rect x="163.00" y="557.21" width="11.08" height="4.29" fill="#e52e30"/><rect x="174.02" y="557.21" width="11.08" height="4.29" fill="#f2a8a9"/><rect x="185.03" y="557.21" width="11.08" height="4.29" fill="#f2a8a9"/><rect x="196.05" y="557.21" width="11.08" height="4.29" fill="#2e49a5"/><rect x="207.07" y="557.21" width="11.08" height="4.29" fill="#5b71bd"/><rect x="218.08" y="557.21" width="11.08" height="4.29" fill="#5b71bd"/><rect x="30.80" y="561.45" width="11.08" height="4.29" fill="#ec6565"/><rect x="41.82" y="561.45" width="11.08" height="4.29" fill="#5b71bd"/><rect x="52.83" y="561.45" width="11.08" height="4.29" fill="#5b71bd"/><rect x="63.85" y="561.45" width="11.08" height="4.29" fill="#ec6565"/><rect x="74.87" y="561.45" width="11.08" height="4.29" fill="#e52e30"/><rect x="85.88" y="561.45" width="11.08" height="4.29" fill="#ec6565"/><rect x="96.90" y="561.45" width="11.08" height="4.29" fill="#f2a8a9"/><rect x="107.92" y="561.45" width="11.08" height="4.29" fill="#f2a8a9"/><rect x="118.93" y="561.45" width="11.08" height="4.29" fill="#5b71bd"/><rect x="129.95" y="561.45" width="11.08" height="4.29" fill="#2e49a5"/><rect x="140.97" y="561.45" width="11.08" height="4.29" fill="#a9aedb"/><rect x="151.98" y="561.45" width="11.08" height="4.29" fill="#5b71bd"/><rect x="163.00" y="561.45" width="11.08" height="4.29" fill="#e52e30"/><rect x="174.02" y="561.45" width="11.08" height="4.29" fill="#ec6565"/><rect x="185.03" y="561.45" width="11.08" height="4.29" fill="#ec6565"/><rect x="196.05" y="561.45" width="11.08" height="4.29" fill="#2e49a5"/><rect x="207.07" y="561.45" width="11.08" height="4.29" fill="#2e49a5"/><rect x="218.08" y="561.45" width="11.08" height="4.29" fill="#2e49a5"/><rect x="30.80" y="565.68" width="11.08" height="4.29" fill="#ec6565"/><rect x="41.82" y="565.68" width="11.08" height="4.29" fill="#f2a8a9"/><rect x="52.83" y="565.68" width="11.08" height="4.29" fill="#a9aedb"/><rect x="63.85" y="565.68" width="11.08" height="4.29" fill="#ec6565"/><rect x="74.87" y="565.68" width="11.08" height="4.29" fill="#ec6565"/><rect x="85.88" y="565.68" width="11.08" height="4.29" fill="#e52e30"/><rect x="96.90" y="565.68" width="11.08" height="4.29" fill="#f7f4f7"/><rect x="107.92" y="565.68" width="11.08" height="4.29" fill="#f7f4f7"/><rect x="118.93" y="565.68" width="11.08" height="4.29" fill="#2e49a5"/><rect x="129.95" y="565.68" width="11.08" height="4.29" fill="#f2a8a9"/><rect x="140.97" y="565.68" width="11.08" height="4.29" fill="#2e49a5"/><rect x="151.98" y="565.68" width="11.08" height="4.29" fill="#ec6565"/><rect x="163.00" y="565.68" width="11.08" height="4.29" fill="#e52e30"/><rect x="174.02" y="565.68" width="11.08" height="4.29" fill="#f7f4f7"/><rect x="185.03" y="565.68" width="11.08" height="4.29" fill="#f2a8a9"/><rect x="196.05" y="565.68" width="11.08" height="4.29" fill="#2e49a5"/><rect x="207.07" y="565.68" width="11.08" height="4.29" fill="#5b71bd"/><rect x="218.08" y="565.68" width="11.08" height="4.29" fill="#2e49a5"/><rect x="30.80" y="569.91" width="11.08" height="4.29" fill="#f2a8a9"/><rect x="41.82" y="569.91" width="11.08" height="4.29" fill="#f2a8a9"/><rect x="52.83" y="569.91" width="11.08" height="4.29" fill="#f7f4f7"/><rect x="63.85" y="569.91" width="11.08" height="4.29" fill="#f7f4f7"/><rect x="74.87" y="569.91" width="11.08" height="4.29" fill="#f2a8a9"/><rect x="85.88" y="569.91" width="11.08" height="4.29" fill="#ec6565"/><rect x="96.90" y="569.91" width="11.08" height="4.29" fill="#f2a8a9"/><rect x="107.92" y="569.91" width="11.08" height="4.29" fill="#f2a8a9"/><rect x="118.93" y="569.91" width="11.08" height="4.29" fill="#2e49a5"/><rect x="129.95" y="569.91" width="11.08" height="4.29" fill="#2e49a5"/><rect x="140.97" y="569.91" width="11.08" height="4.29" fill="#5b71bd"/><rect x="151.98" y="569.91" width="11.08" height="4.29" fill="#e52e30"/><rect x="163.00" y="569.91" width="11.08" height="4.29" fill="#e52e30"/><rect x="174.02" y="569.91" width="11.08" height="4.29" fill="#f7f4f7"/><rect x="185.03" y="569.91" width="11.08" height="4.29" fill="#f7f4f7"/><rect x="196.05" y="569.91" width="11.08" height="4.29" fill="#a9aedb"/><rect x="207.07" y="569.91" width="11.08" height="4.29" fill="#5b71bd"/><rect x="218.08" y="569.91" width="11.08" height="4.29" fill="#2e49a5"/><rect x="30.80" y="574.15" width="11.08" height="4.29" fill="#e52e30"/><rect x="41.82" y="574.15" width="11.08" height="4.29" fill="#ec6565"/><rect x="52.83" y="574.15" width="11.08" height="4.29" fill="#a9aedb"/><rect x="63.85" y="574.15" width="11.08" height="4.29" fill="#e52e30"/><rect x="74.87" y="574.15" width="11.08" height="4.29" fill="#5b71bd"/><rect x="85.88" y="574.15" width="11.08" height="4.29" fill="#a9aedb"/><rect x="96.90" y="574.15" width="11.08" height="4.29" fill="#f2a8a9"/><rect x="107.92" y="574.15" width="11.08" height="4.29" fill="#f2a8a9"/><rect x="118.93" y="574.15" width="11.08" height="4.29" fill="#a9aedb"/><rect x="129.95" y="574.15" width="11.08" height="4.29" fill="#5b71bd"/><rect x="140.97" y="574.15" width="11.08" height="4.29" fill="#5b71bd"/><rect x="151.98" y="574.15" width="11.08" height="4.29" fill="#e52e30"/><rect x="163.00" y="574.15" width="11.08" height="4.29" fill="#f2a8a9"/><rect x="174.02" y="574.15" width="11.08" height="4.29" fill="#5b71bd"/><rect x="185.03" y="574.15" width="11.08" height="4.29" fill="#a9aedb"/><rect x="196.05" y="574.15" width="11.08" height="4.29" fill="#5b71bd"/><rect x="207.07" y="574.15" width="11.08" height="4.29" fill="#a9aedb"/><rect x="218.08" y="574.15" width="11.08" height="4.29" fill="#5b71bd"/><rect x="30.80" y="578.38" width="11.08" height="4.29" fill="#5b71bd"/><rect x="41.82" y="578.38" width="11.08" height="4.29" fill="#f2a8a9"/><rect x="52.83" y="578.38" width="11.08" height="4.29" fill="#f2a8a9"/><rect x="63.85" y="578.38" width="11.08" height="4.29" fill="#e52e30"/><rect x="74.87" y="578.38" width="11.08" height="4.29" fill="#e52e30"/><rect x="85.88" y="578.38" width="11.08" height="4.29" fill="#ec6565"/><rect x="96.90" y="578.38" width="11.08" height="4.29" fill="#e52e30"/><rect x="107.92" y="578.38" width="11.08" height="4.29" fill="#e52e30"/><rect x="118.93" y="578.38" width="11.08" height="4.29" fill="#a9aedb"/><rect x="129.95" y="578.38" width="11.08" height="4.29" fill="#5b71bd"/><rect x="140.97" y="578.38" width="11.08" height="4.29" fill="#5b71bd"/><rect x="151.98" y="578.38" width="11.08" height="4.29" fill="#f2a8a9"/><rect x="163.00" y="578.38" width="11.08" height="4.29" fill="#f2a8a9"/><rect x="174.02" y="578.38" width="11.08" height="4.29" fill="#a9aedb"/><rect x="185.03" y="578.38" width="11.08" height="4.29" fill="#f7f4f7"/><rect x="196.05" y="578.38" width="11.08" height="4.29" fill="#a9aedb"/><rect x="207.07" y="578.38" width="11.08" height="4.29" fill="#5b71bd"/><rect x="218.08" y="578.38" width="11.08" height="4.29" fill="#5b71bd"/><rect x="30.80" y="582.62" width="11.08" height="4.29" fill="#a9aedb"/><rect x="41.82" y="582.62" width="11.08" height="4.29" fill="#ec6565"/><rect x="52.83" y="582.62" width="11.08" height="4.29" fill="#f2a8a9"/><rect x="63.85" y="582.62" width="11.08" height="4.29" fill="#f7f4f7"/><rect x="74.87" y="582.62" width="11.08" height="4.29" fill="#e52e30"/><rect x="85.88" y="582.62" width="11.08" height="4.29" fill="#5b71bd"/><rect x="96.90" y="582.62" width="11.08" height="4.29" fill="#ec6565"/><rect x="107.92" y="582.62" width="11.08" height="4.29" fill="#ec6565"/><rect x="118.93" y="582.62" width="11.08" height="4.29" fill="#5b71bd"/><rect x="129.95" y="582.62" width="11.08" height="4.29" fill="#f2a8a9"/><rect x="140.97" y="582.62" width="11.08" height="4.29" fill="#2e49a5"/><rect x="151.98" y="582.62" width="11.08" height="4.29" fill="#e52e30"/><rect x="163.00" y="582.62" width="11.08" height="4.29" fill="#e52e30"/><rect x="174.02" y="582.62" width="11.08" height="4.29" fill="#f2a8a9"/><rect x="185.03" y="582.62" width="11.08" height="4.29" fill="#f2a8a9"/><rect x="196.05" y="582.62" width="11.08" height="4.29" fill="#2e49a5"/><rect x="207.07" y="582.62" width="11.08" height="4.29" fill="#f7f4f7"/><rect x="218.08" y="582.62" width="11.08" height="4.29" fill="#2e49a5"/><rect x="30.80" y="586.86" width="11.08" height="4.29" fill="#a9aedb"/><rect x="41.82" y="586.86" width="11.08" height="4.29" fill="#f2a8a9"/><rect x="52.83" y="586.86" width="11.08" height="4.29" fill="#f2a8a9"/><rect x="63.85" y="586.86" width="11.08" height="4.29" fill="#f7f4f7"/><rect x="74.87" y="586.86" width="11.08" height="4.29" fill="#ec6565"/><rect x="85.88" y="586.86" width="11.08" height="4.29" fill="#2e49a5"/><rect x="96.90" y="586.86" width="11.08" height="4.29" fill="#ec6565"/><rect x="107.92" y="586.86" width="11.08" height="4.29" fill="#ec6565"/><rect x="118.93" y="586.86" width="11.08" height="4.29" fill="#5b71bd"/><rect x="129.95" y="586.86" width="11.08" height="4.29" fill="#a9aedb"/><rect x="140.97" y="586.86" width="11.08" height="4.29" fill="#2e49a5"/><rect x="151.98" y="586.86" width="11.08" height="4.29" fill="#e52e30"/><rect x="163.00" y="586.86" width="11.08" height="4.29" fill="#e52e30"/><rect x="174.02" y="586.86" width="11.08" height="4.29" fill="#f2a8a9"/><rect x="185.03" y="586.86" width="11.08" height="4.29" fill="#f2a8a9"/><rect x="196.05" y="586.86" width="11.08" height="4.29" fill="#2e49a5"/><rect x="207.07" y="586.86" width="11.08" height="4.29" fill="#a9aedb"/><rect x="218.08" y="586.86" width="11.08" height="4.29" fill="#2e49a5"/><rect x="30.80" y="591.09" width="11.08" height="4.29" fill="#a9aedb"/><rect x="41.82" y="591.09" width="11.08" height="4.29" fill="#a9aedb"/><rect x="52.83" y="591.09" width="11.08" height="4.29" fill="#a9aedb"/><rect x="63.85" y="591.09" width="11.08" height="4.29" fill="#e52e30"/><rect x="74.87" y="591.09" width="11.08" height="4.29" fill="#a9aedb"/><rect x="85.88" y="591.09" width="11.08" height="4.29" fill="#ec6565"/><rect x="96.90" y="591.09" width="11.08" height="4.29" fill="#ec6565"/><rect x="107.92" y="591.09" width="11.08" height="4.29" fill="#e52e30"/><rect x="118.93" y="591.09" width="11.08" height="4.29" fill="#f2a8a9"/><rect x="129.95" y="591.09" width="11.08" height="4.29" fill="#a9aedb"/><rect x="140.97" y="591.09" width="11.08" height="4.29" fill="#a9aedb"/><rect x="151.98" y="591.09" width="11.08" height="4.29" fill="#5b71bd"/><rect x="163.00" y="591.09" width="11.08" height="4.29" fill="#a9aedb"/><rect x="174.02" y="591.09" width="11.08" height="4.29" fill="#e52e30"/><rect x="185.03" y="591.09" width="11.08" height="4.29" fill="#a9aedb"/><rect x="196.05" y="591.09" width="11.08" height="4.29" fill="#e52e30"/><rect x="207.07" y="591.09" width="11.08" height="4.29" fill="#a9aedb"/><rect x="218.08" y="591.09" width="11.08" height="4.29" fill="#a9aedb"/><rect x="30.80" y="595.33" width="11.08" height="4.29" fill="#5b71bd"/><rect x="41.82" y="595.33" width="11.08" height="4.29" fill="#f7f4f7"/><rect x="52.83" y="595.33" width="11.08" height="4.29" fill="#5b71bd"/><rect x="63.85" y="595.33" width="11.08" height="4.29" fill="#f7f4f7"/><rect x="74.87" y="595.33" width="11.08" height="4.29" fill="#f7f4f7"/><rect x="85.88" y="595.33" width="11.08" height="4.29" fill="#f7f4f7"/><rect x="96.90" y="595.33" width="11.08" height="4.29" fill="#f2a8a9"/><rect x="107.92" y="595.33" width="11.08" height="4.29" fill="#f2a8a9"/><rect x="118.93" y="595.33" width="11.08" height="4.29" fill="#e52e30"/><rect x="129.95" y="595.33" width="11.08" height="4.29" fill="#a9aedb"/><rect x="140.97" y="595.33" width="11.08" height="4.29" fill="#a9aedb"/><rect x="151.98" y="595.33" width="11.08" height="4.29" fill="#2e49a5"/><rect x="163.00" y="595.33" width="11.08" height="4.29" fill="#e52e30"/><rect x="174.02" y="595.33" width="11.08" height="4.29" fill="#e52e30"/><rect x="185.03" y="595.33" width="11.08" height="4.29" fill="#e52e30"/><rect x="196.05" y="595.33" width="11.08" height="4.29" fill="#5b71bd"/><rect x="207.07" y="595.33" width="11.08" height="4.29" fill="#a9aedb"/><rect x="218.08" y="595.33" width="11.08" height="4.29" fill="#2e49a5"/><rect x="30.80" y="599.56" width="11.08" height="4.29" fill="#2e49a5"/><rect x="41.82" y="599.56" width="11.08" height="4.29" fill="#5b71bd"/><rect x="52.83" y="599.56" width="11.08" height="4.29" fill="#2e49a5"/><rect x="63.85" y="599.56" width="11.08" height="4.29" fill="#f7f4f7"/><rect x="74.87" y="599.56" width="11.08" height="4.29" fill="#a9aedb"/><rect x="85.88" y="599.56" width="11.08" height="4.29" fill="#a9aedb"/><rect x="96.90" y="599.56" width="11.08" height="4.29" fill="#e52e30"/><rect x="107.92" y="599.56" width="11.08" height="4.29" fill="#e52e30"/><rect x="118.93" y="599.56" width="11.08" height="4.29" fill="#e52e30"/><rect x="129.95" y="599.56" width="11.08" height="4.29" fill="#f7f4f7"/><rect x="140.97" y="599.56" width="11.08" height="4.29" fill="#a9aedb"/><rect x="151.98" y="599.56" width="11.08" height="4.29" fill="#2e49a5"/><rect x="163.00" y="599.56" width="11.08" height="4.29" fill="#e52e30"/><rect x="174.02" y="599.56" width="11.08" height="4.29" fill="#ec6565"/><rect x="185.03" y="599.56" width="11.08" height="4.29" fill="#e52e30"/><rect x="196.05" y="599.56" width="11.08" height="4.29" fill="#5b71bd"/><rect x="207.07" y="599.56" width="11.08" height="4.29" fill="#a9aedb"/><rect x="218.08" y="599.56" width="11.08" height="4.29" fill="#2e49a5"/><rect x="30.80" y="603.80" width="11.08" height="4.29" fill="#2e49a5"/><rect x="41.82" y="603.80" width="11.08" height="4.29" fill="#5b71bd"/><rect x="52.83" y="603.80" width="11.08" height="4.29" fill="#2e49a5"/><rect x="63.85" y="603.80" width="11.08" height="4.29" fill="#f7f4f7"/><rect x="74.87" y="603.80" width="11.08" height="4.29" fill="#a9aedb"/><rect x="85.88" y="603.80" width="11.08" height="4.29" fill="#a9aedb"/><rect x="96.90" y="603.80" width="11.08" height="4.29" fill="#e52e30"/><rect x="107.92" y="603.80" width="11.08" height="4.29" fill="#e52e30"/><rect x="118.93" y="603.80" width="11.08" height="4.29" fill="#e52e30"/><rect x="129.95" y="603.80" width="11.08" height="4.29" fill="#f7f4f7"/><rect x="140.97" y="603.80" width="11.08" height="4.29" fill="#a9aedb"/><rect x="151.98" y="603.80" width="11.08" height="4.29" fill="#2e49a5"/><rect x="163.00" y="603.80" width="11.08" height="4.29" fill="#e52e30"/><rect x="174.02" y="603.80" width="11.08" height="4.29" fill="#e52e30"/><rect x="185.03" y="603.80" width="11.08" height="4.29" fill="#e52e30"/><rect x="196.05" y="603.80" width="11.08" height="4.29" fill="#5b71bd"/><rect x="207.07" y="603.80" width="11.08" height="4.29" fill="#5b71bd"/><rect x="218.08" y="603.80" width="11.08" height="4.29" fill="#2e49a5"/><rect x="30.80" y="608.03" width="11.08" height="4.29" fill="#2e49a5"/><rect x="41.82" y="608.03" width="11.08" height="4.29" fill="#2e49a5"/><rect x="52.83" y="608.03" width="11.08" height="4.29" fill="#2e49a5"/><rect x="63.85" y="608.03" width="11.08" height="4.29" fill="#f2a8a9"/><rect x="74.87" y="608.03" width="11.08" height="4.29" fill="#a9aedb"/><rect x="85.88" y="608.03" width="11.08" height="4.29" fill="#f7f4f7"/><rect x="96.90" y="608.03" width="11.08" height="4.29" fill="#e52e30"/><rect x="107.92" y="608.03" width="11.08" height="4.29" fill="#e52e30"/><rect x="118.93" y="608.03" width="11.08" height="4.29" fill="#e52e30"/><rect x="129.95" y="608.03" width="11.08" height="4.29" fill="#a9aedb"/><rect x="140.97" y="608.03" width="11.08" height="4.29" fill="#5b71bd"/><rect x="151.98" y="608.03" width="11.08" height="4.29" fill="#2e49a5"/><rect x="163.00" y="608.03" width="11.08" height="4.29" fill="#e52e30"/><rect x="174.02" y="608.03" width="11.08" height="4.29" fill="#e52e30"/><rect x="185.03" y="608.03" width="11.08" height="4.29" fill="#e52e30"/><rect x="196.05" y="608.03" width="11.08" height="4.29" fill="#5b71bd"/><rect x="207.07" y="608.03" width="11.08" height="4.29" fill="#5b71bd"/><rect x="218.08" y="608.03" width="11.08" height="4.29" fill="#2e49a5"/><rect x="30.80" y="612.27" width="11.08" height="4.29" fill="#2e49a5"/><rect x="41.82" y="612.27" width="11.08" height="4.29" fill="#2e49a5"/><rect x="52.83" y="612.27" width="11.08" height="4.29" fill="#2e49a5"/><rect x="63.85" y="612.27" width="11.08" height="4.29" fill="#f7f4f7"/><rect x="74.87" y="612.27" width="11.08" height="4.29" fill="#a9aedb"/><rect x="85.88" y="612.27" width="11.08" height="4.29" fill="#a9aedb"/><rect x="96.90" y="612.27" width="11.08" height="4.29" fill="#ec6565"/><rect x="107.92" y="612.27" width="11.08" height="4.29" fill="#e52e30"/><rect x="118.93" y="612.27" width="11.08" height="4.29" fill="#e52e30"/><rect x="129.95" y="612.27" width="11.08" height="4.29" fill="#a9aedb"/><rect x="140.97" y="612.27" width="11.08" height="4.29" fill="#5b71bd"/><rect x="151.98" y="612.27" width="11.08" height="4.29" fill="#2e49a5"/><rect x="163.00" y="612.27" width="11.08" height="4.29" fill="#e52e30"/><rect x="174.02" y="612.27" width="11.08" height="4.29" fill="#e52e30"/><rect x="185.03" y="612.27" width="11.08" height="4.29" fill="#e52e30"/><rect x="196.05" y="612.27" width="11.08" height="4.29" fill="#5b71bd"/><rect x="207.07" y="612.27" width="11.08" height="4.29" fill="#5b71bd"/><rect x="218.08" y="612.27" width="11.08" height="4.29" fill="#2e49a5"/></g>
<path d="M30.80,197.24H229.10M30.80,201.47H229.10M30.80,205.71H229.10M30.80,209.94H229.10M30.80,214.18H229.10M30.80,218.41H229.10M30.80,222.65H229.10M30.80,226.88H229.10M30.80,231.12H229.10M30.80,235.35H229.10M30.80,239.59H229.10M30.80,243.82H229.10M30.80,248.06H229.10M30.80,252.29H229.10M30.80,256.52H229.10M30.80,260.76H229.10M30.80,265.00H229.10M30.80,269.23H229.10M30.80,273.47H229.10M30.80,277.70H229.10M30.80,281.94H229.10M30.80,286.17H229.10M30.80,290.40H229.10M30.80,294.64H229.10M30.80,298.88H229.10M30.80,303.11H229.10M30.80,307.35H229.10M30.80,311.58H229.10M30.80,315.81H229.10M30.80,320.05H229.10M30.80,324.28H229.10M30.80,328.52H229.10M30.80,332.75H229.10M30.80,336.99H229.10M30.80,341.23H229.10M30.80,345.46H229.10M30.80,349.70H229.10M30.80,353.93H229.10M30.80,358.17H229.10M30.80,362.40H229.10M30.80,366.63H229.10M30.80,370.87H229.10M30.80,375.11H229.10M30.80,379.34H229.10M30.80,383.58H229.10M30.80,387.81H229.10M30.80,392.05H229.10M30.80,396.28H229.10M30.80,400.51H229.10M30.80,404.75H229.10M30.80,408.99H229.10M30.80,413.22H229.10M30.80,417.46H229.10M30.80,421.69H229.10M30.80,425.93H229.10M30.80,430.16H229.10M30.80,434.39H229.10M30.80,438.63H229.10M30.80,442.87H229.10M30.80,447.10H229.10M30.80,451.34H229.10M30.80,455.57H229.10M30.80,459.81H229.10M30.80,464.04H229.10M30.80,468.28H229.10M30.80,472.51H229.10M30.80,476.75H229.10M30.80,480.98H229.10M30.80,485.22H229.10M30.80,489.45H229.10M30.80,493.69H229.10M30.80,497.92H229.10M30.80,502.16H229.10M30.80,506.39H229.10M30.80,510.62H229.10M30.80,514.86H229.10M30.80,519.10H229.10M30.80,523.33H229.10M30.80,527.57H229.10M30.80,531.80H229.10M30.80,536.04H229.10M30.80,540.27H229.10M30.80,544.51H229.10M30.80,548.74H229.10M30.80,552.98H229.10M30.80,557.21H229.10M30.80,561.45H229.10M30.80,565.68H229.10M30.80,569.91H229.10M30.80,574.15H229.10M30.80,578.38H229.10M30.80,582.62H229.10M30.80,586.86H229.10M30.80,591.09H229.10M30.80,595.33H229.10M30.80,599.56H229.10M30.80,603.80H229.10M30.80,608.03H229.10M30.80,612.27H229.10M41.82,193.00V616.50M52.83,193.00V616.50M63.85,193.00V616.50M74.87,193.00V616.50M85.88,193.00V616.50M96.90,193.00V616.50M107.92,193.00V616.50M118.93,193.00V616.50M129.95,193.00V616.50M140.97,193.00V616.50M151.98,193.00V616.50M163.00,193.00V616.50M174.02,193.00V616.50M185.03,193.00V616.50M196.05,193.00V616.50M207.07,193.00V616.50M218.08,193.00V616.50" stroke="#ffffff" stroke-opacity="0.28" stroke-width="0.45" fill="none"/>
<g font-size="4.05" fill="#3a3a3a"><text x="230.0" y="196.57">Hdc</text><text x="230.0" y="200.80">Cpa3</text><text x="230.0" y="205.04">Fgf3</text><text x="230.0" y="209.27">Rac2</text><text x="230.0" y="213.51">Arhgap30</text><text x="230.0" y="217.74">Coro1a</text><text x="230.0" y="221.98">Vav1</text><text x="230.0" y="226.21">Tuba8</text><text x="230.0" y="230.45">Mpo</text><text x="230.0" y="234.68">Myo1f</text><text x="230.0" y="238.92">Cd9</text><text x="230.0" y="243.15">Efcab2</text><text x="230.0" y="247.39">Dok3</text><text x="230.0" y="251.62">Gzmb</text><text x="230.0" y="255.86">Slc45a3</text><text x="230.0" y="260.09">Padi2</text><text x="230.0" y="264.33">Plpro</text><text x="230.0" y="268.56">Nov1</text><text x="230.0" y="272.80">Plac8</text><text x="230.0" y="277.03">Rab44</text><text x="230.0" y="281.27">Fcgr3</text><text x="230.0" y="285.50">Gm12818</text><text x="230.0" y="289.74">Ifgp10-ps1</text><text x="230.0" y="293.97">Gm42742</text><text x="230.0" y="298.21">Gm10925</text><text x="230.0" y="302.44">Gm28407</text><text x="230.0" y="306.68">Nts</text><text x="230.0" y="310.91">Prox1</text><text x="230.0" y="315.15">Rhoa</text><text x="230.0" y="319.38">Pcdh1</text><text x="230.0" y="323.62">Hba3</text><text x="230.0" y="327.85">Pvwa1</text><text x="230.0" y="332.09">Adm</text><text x="230.0" y="336.32">Gja4</text><text x="230.0" y="340.56">Pcnt</text><text x="230.0" y="344.79">Dleg1</text><text x="230.0" y="349.03">Igfbp3</text><text x="230.0" y="353.26">Rps6a3</text><text x="230.0" y="357.50">Cmg1</text><text x="230.0" y="361.73">Nf3</text><text x="230.0" y="365.97">Mest</text><text x="230.0" y="370.20">Nptn</text><text x="230.0" y="374.44">Enpp3</text><text x="230.0" y="378.67">Eng1</text><text x="230.0" y="382.91">Dysf</text><text x="230.0" y="387.14">Flk</text><text x="230.0" y="391.38">Lama4</text><text x="230.0" y="395.61">Plpbn</text><text x="230.0" y="399.85">Tmem204</text><text x="230.0" y="404.08">Crip2</text><text x="230.0" y="408.32">Tmem88</text><text x="230.0" y="412.55">S100a16</text><text x="230.0" y="416.79">Emcn</text><text x="230.0" y="421.02">Nos3</text><text x="230.0" y="425.26">Itga1</text><text x="230.0" y="429.49">Hapln2</text><text x="230.0" y="433.73">Sema6d</text><text x="230.0" y="437.96">Cd40</text><text x="230.0" y="442.20">Igfbp5</text><text x="230.0" y="446.43">Sparcl1</text><text x="230.0" y="450.67">Nid1</text><text x="230.0" y="454.90">Meox2</text><text x="230.0" y="459.14">Ushbp1</text><text x="230.0" y="463.37">Pcdh17</text><text x="230.0" y="467.61">Pcdh12</text><text x="230.0" y="471.84">Cav1</text><text x="230.0" y="476.08">Adgrf5</text><text x="230.0" y="480.31">Kdr2</text><text x="230.0" y="484.55">Arhgef15</text><text x="230.0" y="488.78">Plvap</text><text x="230.0" y="493.02">Tmem255a</text><text x="230.0" y="497.25">Sox7</text><text x="230.0" y="501.49">Dab2</text><text x="230.0" y="505.72">Ehd1</text><text x="230.0" y="509.96">Sox17</text><text x="230.0" y="514.19">Aplnr</text><text x="230.0" y="518.43">Kdr</text><text x="230.0" y="522.66">Hey1</text><text x="230.0" y="526.90">Peg3</text><text x="230.0" y="531.13">Wnt6</text><text x="230.0" y="535.37">Kcnmb2</text><text x="230.0" y="539.60">Cacna1</text><text x="230.0" y="543.84">Kif15</text><text x="230.0" y="548.07">Col3a1</text><text x="230.0" y="552.31">Ptgis</text><text x="230.0" y="556.54">Aldh1a2</text><text x="230.0" y="560.78">Nefl</text><text x="230.0" y="565.01">Ibsp</text><text x="230.0" y="569.25">Pcdh18</text><text x="230.0" y="573.48">Col1a2</text><text x="230.0" y="577.72">Fbn1</text><text x="230.0" y="581.95">Tcf21</text><text x="230.0" y="586.19">Col6a1</text><text x="230.0" y="590.42">Cacnb1</text><text x="230.0" y="594.66">Gm10973</text><text x="230.0" y="598.89">Hbb-bh1</text><text x="230.0" y="603.13">Hba-x2</text><text x="230.0" y="607.36">Hbb-y1</text><text x="230.0" y="611.60">Hbb-y</text><text x="230.0" y="615.83">Hba-a</text></g>
<path d="M30.60,199.35H26.76V203.59H30.60M30.60,195.12H24.67V201.47H26.76M30.60,212.06H27.89V216.29H30.60M30.60,207.82H25.60V214.18H27.89M30.60,224.76H27.62V229.00H30.60M30.60,220.53H25.64V226.88H27.62M25.60,211.00H24.21V223.70H25.64M24.67,198.29H21.56V217.35H24.21M30.60,233.23H27.92V237.47H30.60M30.60,241.70H28.22V245.94H30.60M30.60,250.17H28.76V254.41H30.60M28.22,243.82H27.06V252.29H28.76M27.92,235.35H25.57V248.06H27.06M30.60,262.88H28.84V267.11H30.60M30.60,258.64H28.12V265.00H28.84M30.60,271.35H29.25V275.58H30.60M29.25,273.47H28.32V279.82H30.60M28.12,261.82H26.84V276.64H28.32M25.57,241.70H23.31V269.23H26.84M21.56,207.82H19.00V255.47H23.31M30.60,284.05H26.47V288.29H30.60M26.47,286.17H23.69V292.52H30.60M30.60,296.76H25.79V300.99H30.60M25.79,298.88H23.22V305.23H30.60M23.69,289.35H20.50V302.05H23.22M30.60,309.46H28.15V313.70H30.60M30.60,317.93H27.89V322.17H30.60M28.15,311.58H26.17V320.05H27.89M30.60,326.40H28.93V330.64H30.60M30.60,334.87H29.04V339.11H30.60M28.93,328.52H27.31V336.99H29.04M30.60,347.58H28.78V351.81H30.60M30.60,343.34H27.29V349.69H28.78M27.31,332.75H25.26V346.52H27.29M26.17,315.81H23.87V339.64H25.26M30.60,360.28H29.60V364.52H30.60M30.60,356.05H29.50V362.40H29.60M30.60,372.99H29.60V377.22H30.60M30.60,368.75H29.47V375.11H29.60M29.50,359.22H28.84V371.93H29.47M30.60,381.46H29.21V385.69H30.60M30.60,389.93H29.60V394.16H30.60M30.60,398.40H29.60V402.63H30.60M29.60,392.05H29.28V400.52H29.60M29.21,383.57H28.23V396.28H29.28M28.84,365.58H27.43V389.93H28.23M30.60,406.87H29.34V411.10H30.60M30.60,415.34H29.34V419.57H30.60M29.34,408.99H28.60V417.45H29.34M30.60,423.81H27.61V428.04H30.60M28.60,413.22H26.51V425.93H27.61M27.43,377.75H24.86V419.57H26.51M23.87,327.73H20.90V398.66H24.86M30.60,432.28H29.32V436.51H30.60M30.60,440.75H29.36V444.98H30.60M29.32,434.40H28.22V442.87H29.36M30.60,449.22H29.28V453.45H30.60M30.60,457.69H29.22V461.92H30.60M29.28,451.34H27.84V459.81H29.22M28.22,438.63H25.84V455.57H27.84M30.60,466.16H28.61V470.39H30.60M30.60,478.86H29.17V483.10H30.60M30.60,474.63H28.57V480.98H29.17M28.61,468.28H27.69V477.80H28.57M30.60,487.33H29.25V491.57H30.60M29.25,489.45H28.13V495.80H30.60M30.60,504.27H29.60V508.51H30.60M30.60,500.04H28.77V506.39H29.60M30.60,516.98H29.60V521.21H30.60M30.60,512.74H28.79V519.10H29.60M28.77,503.21H27.75V515.92H28.79M28.13,492.63H26.86V509.57H27.75M27.69,473.04H25.74V501.10H26.86M25.84,447.10H23.62V487.07H25.74M20.90,363.19H17.50V467.08H23.62M30.60,525.45H26.55V529.68H30.60M26.55,527.57H25.43V533.92H30.60M30.60,538.15H24.53V542.39H30.60M25.43,530.74H22.70V540.27H24.53M30.60,546.62H25.56V550.86H30.60M25.56,548.74H22.27V555.09H30.60M22.70,535.51H20.36V551.92H22.27M30.60,563.56H28.04V567.80H30.60M30.60,559.33H25.88V565.68H28.04M30.60,572.03H27.36V576.27H30.60M27.36,574.15H24.78V580.50H30.60M25.88,562.50H22.45V577.33H24.78M30.60,584.74H27.05V588.97H30.60M30.60,597.44H28.62V601.68H30.60M30.60,593.21H27.05V599.56H28.62M27.05,586.86H26.03V596.38H27.05M30.60,610.15H28.61V614.38H30.60M30.60,605.91H26.57V612.27H28.61M26.03,591.62H24.37V609.09H26.57M22.45,569.92H20.03V600.35H24.37M20.36,543.71H16.50V585.13H20.03M17.50,415.14H15.60V564.42H16.50M20.50,295.70H14.60V489.78H15.60M19.00,231.64H11.80V392.74H14.60" fill="none" stroke="#555555" stroke-width="0.5"/>
<text x="252.90" y="277.30" font-size="6.6" fill="#231f20" textLength="28.00" lengthAdjust="spacingAndGlyphs" stroke="#231f20" stroke-width="0.12">Expression</text>
<text x="260.40" y="284.60" font-size="6.8" fill="#231f20" textLength="13.40" lengthAdjust="spacingAndGlyphs" stroke="#231f20" stroke-width="0.12">level</text>
<defs><linearGradient id="gk" x1="0" y1="0" x2="0" y2="1"><stop offset="0" stop-color="#e31d23"/><stop offset="0.5" stop-color="#f6f4f6"/><stop offset="1" stop-color="#2f4c9c"/></linearGradient></defs>
<rect x="265.30" y="289.40" width="4.90" height="76.60" fill="url(#gk)"/>
<text x="262.80" y="294.70" font-size="6.6" text-anchor="end" fill="#231f20" stroke="#231f20" stroke-width="0.12">3</text>
<text x="262.80" y="305.80" font-size="6.6" text-anchor="end" fill="#231f20" stroke="#231f20" stroke-width="0.12">2</text>
<text x="262.80" y="316.90" font-size="6.6" text-anchor="end" fill="#231f20" stroke="#231f20" stroke-width="0.12">1</text>
<text x="262.80" y="327.40" font-size="6.6" text-anchor="end" fill="#231f20" stroke="#231f20" stroke-width="0.12">0</text>
<text x="262.80" y="337.90" font-size="6.6" text-anchor="end" fill="#231f20" stroke="#231f20" stroke-width="0.12">−1</text>
<text x="262.80" y="349.30" font-size="6.6" text-anchor="end" fill="#231f20" stroke="#231f20" stroke-width="0.12">−2</text>
<text x="262.80" y="359.60" font-size="6.6" text-anchor="end" fill="#231f20" stroke="#231f20" stroke-width="0.12">−3</text>
<rect x="30.70" y="622.50" width="6.20" height="5.60" fill="#aabd8d"/>
<text x="40.60" y="627.10" font-size="6.0" fill="#231f20" textLength="35.00" lengthAdjust="spacingAndGlyphs" stroke="#231f20" stroke-width="0.12">WT Pro-HSC</text>
<rect x="96.30" y="622.50" width="6.20" height="5.60" fill="#36a443"/>
<text x="106.20" y="627.10" font-size="6.0" fill="#231f20" textLength="38.50" lengthAdjust="spacingAndGlyphs" stroke="#231f20" stroke-width="0.12">WT Pre-HSC1</text>
<rect x="163.10" y="622.50" width="6.20" height="5.60" fill="#0b6450"/>
<text x="173.00" y="627.10" font-size="6.0" fill="#231f20" textLength="54.60" lengthAdjust="spacingAndGlyphs" stroke="#231f20" stroke-width="0.12">WT Pre-HSC2/HSC</text>
<rect x="30.70" y="636.00" width="6.20" height="5.60" fill="#f0951f"/>
<text x="40.60" y="640.60" font-size="6.0" fill="#231f20" textLength="47.20" lengthAdjust="spacingAndGlyphs" stroke="#231f20" stroke-width="0.12"><tspan font-style="italic">Gata2</tspan><tspan font-size="3.6" dy="-2.5">+/−</tspan><tspan dy="2.5"> Pro-HSC</tspan></text>
<rect x="96.30" y="636.00" width="6.20" height="5.60" fill="#c0681f"/>
<text x="106.20" y="640.60" font-size="6.0" fill="#231f20" textLength="50.80" lengthAdjust="spacingAndGlyphs" stroke="#231f20" stroke-width="0.12"><tspan font-style="italic">Gata2</tspan><tspan font-size="3.6" dy="-2.5">+/−</tspan><tspan dy="2.5"> Pre-HSC1</tspan></text>
<rect x="163.10" y="636.00" width="6.20" height="5.60" fill="#c1132b"/>
<text x="173.00" y="640.60" font-size="6.0" fill="#231f20" textLength="68.30" lengthAdjust="spacingAndGlyphs" stroke="#231f20" stroke-width="0.12"><tspan font-style="italic">Gata2</tspan><tspan font-size="3.6" dy="-2.5">+/−</tspan><tspan dy="2.5"> Pre-HSC2/HSC</tspan></text>
<text x="297.70" y="137.50" font-size="10.8" font-weight="bold" fill="#231f20" stroke="#231f20" stroke-width="0.3">D</text>
<circle cx="335.8" cy="133.9" r="2.7" fill="#aabd8d"/>
<text x="342.00" y="136.00" font-size="6.2" fill="#231f20" textLength="35.60" lengthAdjust="spacingAndGlyphs" stroke="#231f20" stroke-width="0.12">WT Pro-HSC</text>
<circle cx="335.8" cy="143.9" r="2.7" fill="#36a443"/>
<text x="342.00" y="146.00" font-size="6.2" fill="#231f20" textLength="38.30" lengthAdjust="spacingAndGlyphs" stroke="#231f20" stroke-width="0.12">WT Pre-HSC1</text>
<circle cx="335.8" cy="154.0" r="2.7" fill="#0b6450"/>
<text x="342.00" y="156.10" font-size="6.2" fill="#231f20" textLength="54.80" lengthAdjust="spacingAndGlyphs" stroke="#231f20" stroke-width="0.12">WT Pre-HSC2/HSC</text>
<circle cx="415.8" cy="133.9" r="2.7" fill="#f0951f"/>
<text x="423.10" y="136.00" font-size="6.2" fill="#231f20" textLength="48.10" lengthAdjust="spacingAndGlyphs" stroke="#231f20" stroke-width="0.12"><tspan font-style="italic">Gata2</tspan><tspan font-size="3.6" dy="-2.5">+/−</tspan><tspan dy="2.5"> Pro-HSC</tspan></text>
<circle cx="415.8" cy="143.9" r="2.7" fill="#c0681f"/>
<text x="423.10" y="146.00" font-size="6.2" fill="#231f20" textLength="50.40" lengthAdjust="spacingAndGlyphs" stroke="#231f20" stroke-width="0.12"><tspan font-style="italic">Gata2</tspan><tspan font-size="3.6" dy="-2.5">+/−</tspan><tspan dy="2.5"> Pre-HSC1</tspan></text>
<circle cx="415.8" cy="154.0" r="2.7" fill="#c1132b"/>
<text x="423.10" y="156.10" font-size="6.2" fill="#231f20" textLength="66.70" lengthAdjust="spacingAndGlyphs" stroke="#231f20" stroke-width="0.12"><tspan font-style="italic">Gata2</tspan><tspan font-size="3.6" dy="-2.5">+/−</tspan><tspan dy="2.5"> Pre-HSC2/HSC</tspan></text>
<path d="M364,209.6 C371,236 392,251.5 415,251.5 C440,251.5 460,240 474,224" fill="none" stroke="#e9ece4" stroke-width="2.4"/>
<path d="M485.3,208.2 L468.6,218.8 L475.6,220.6 L481.2,226.4 Z" fill="#e9ece4"/>
<rect x="328.3" y="165.1" width="190.4" height="95.1" fill="none" stroke="#231f20" stroke-width="0.95"/>
<line x1="325.40" y1="181.80" x2="328.30" y2="181.80" stroke="#231f20" stroke-width="0.85"/>
<text x="322.60" y="184.10" font-size="6.4" text-anchor="end" fill="#231f20" stroke="#231f20" stroke-width="0.12">20</text>
<line x1="325.40" y1="199.40" x2="328.30" y2="199.40" stroke="#231f20" stroke-width="0.85"/>
<text x="322.60" y="201.70" font-size="6.4" text-anchor="end" fill="#231f20" stroke="#231f20" stroke-width="0.12">10</text>
<line x1="325.40" y1="217.00" x2="328.30" y2="217.00" stroke="#231f20" stroke-width="0.85"/>
<text x="322.60" y="219.30" font-size="6.4" text-anchor="end" fill="#231f20" stroke="#231f20" stroke-width="0.12">0</text>
<line x1="325.40" y1="234.60" x2="328.30" y2="234.60" stroke="#231f20" stroke-width="0.85"/>
<text x="322.60" y="236.90" font-size="6.4" text-anchor="end" fill="#231f20" stroke="#231f20" stroke-width="0.12">−10</text>
<line x1="325.40" y1="252.20" x2="328.30" y2="252.20" stroke="#231f20" stroke-width="0.85"/>
<text x="322.60" y="254.50" font-size="6.4" text-anchor="end" fill="#231f20" stroke="#231f20" stroke-width="0.12">−20</text>
<line x1="371.80" y1="260.20" x2="371.80" y2="263.10" stroke="#231f20" stroke-width="0.85"/>
<text x="371.80" y="272.50" font-size="6.4" text-anchor="middle" fill="#231f20" stroke="#231f20" stroke-width="0.12">−25</text>
<line x1="416.20" y1="260.20" x2="416.20" y2="263.10" stroke="#231f20" stroke-width="0.85"/>
<text x="416.20" y="272.50" font-size="6.4" text-anchor="middle" fill="#231f20" stroke="#231f20" stroke-width="0.12">0</text>
<line x1="460.60" y1="260.20" x2="460.60" y2="263.10" stroke="#231f20" stroke-width="0.85"/>
<text x="460.60" y="272.50" font-size="6.4" text-anchor="middle" fill="#231f20" stroke="#231f20" stroke-width="0.12">25</text>
<line x1="505.00" y1="260.20" x2="505.00" y2="263.10" stroke="#231f20" stroke-width="0.85"/>
<text x="505.00" y="272.50" font-size="6.4" text-anchor="middle" fill="#231f20" stroke="#231f20" stroke-width="0.12">50</text>
<text transform="translate(305.30,228.00) rotate(-90)" x="0" y="0" font-size="7.4" font-weight="bold" stroke="#231f20" stroke-width="0.22" fill="#231f20" textLength="30.00" lengthAdjust="spacingAndGlyphs">PC2 (12%)</text>
<text x="408.80" y="284.60" font-size="7.4" font-weight="bold" fill="#231f20" textLength="29.90" lengthAdjust="spacingAndGlyphs" stroke="#231f20" stroke-width="0.22">PC1 (52%)</text>
<circle cx="337" cy="169.9" r="2.35" fill="#f0951f"/>
<circle cx="358.5" cy="224.6" r="2.35" fill="#f0951f"/>
<circle cx="356.2" cy="230.9" r="2.35" fill="#f0951f"/>
<circle cx="356.2" cy="197.6" r="2.35" fill="#aabd8d"/>
<circle cx="409.7" cy="219.5" r="2.35" fill="#aabd8d"/>
<circle cx="393.1" cy="251.2" r="2.35" fill="#aabd8d"/>
<circle cx="384.3" cy="215.4" r="2.35" fill="#c0681f"/>
<circle cx="398.2" cy="218.8" r="2.35" fill="#c0681f"/>
<circle cx="368.2" cy="255.8" r="2.35" fill="#c0681f"/>
<circle cx="408.5" cy="221.2" r="2.35" fill="#36a443"/>
<circle cx="405.8" cy="253.9" r="2.35" fill="#36a443"/>
<circle cx="478" cy="246.1" r="2.35" fill="#36a443"/>
<circle cx="427.7" cy="170.4" r="2.35" fill="#c1132b"/>
<circle cx="440.4" cy="190.0" r="2.35" fill="#c1132b"/>
<circle cx="487.0" cy="191.6" r="2.35" fill="#c1132b"/>
<circle cx="471.5" cy="197.4" r="2.35" fill="#0b6450"/>
<circle cx="501.1" cy="223.9" r="2.35" fill="#0b6450"/>
<circle cx="510.8" cy="228.8" r="2.35" fill="#0b6450"/>
<line x1="341.60" y1="166.80" x2="345.60" y2="164.50" stroke="#231f20" stroke-width="0.85"/>
<path d="M340.40,167.50 L343.10,167.20 L341.60,164.80 Z" fill="#231f20"/>
<line x1="363.10" y1="221.50" x2="367.10" y2="219.20" stroke="#231f20" stroke-width="0.85"/>
<path d="M361.90,222.20 L364.60,221.90 L363.10,219.50 Z" fill="#231f20"/>
<line x1="360.80" y1="227.80" x2="364.80" y2="225.50" stroke="#231f20" stroke-width="0.85"/>
<path d="M359.60,228.50 L362.30,228.20 L360.80,225.80 Z" fill="#231f20"/>
<line x1="388.90" y1="212.30" x2="392.90" y2="210.00" stroke="#231f20" stroke-width="0.85"/>
<path d="M387.70,213.00 L390.40,212.70 L388.90,210.30 Z" fill="#231f20"/>
<line x1="402.80" y1="215.70" x2="406.80" y2="213.40" stroke="#231f20" stroke-width="0.85"/>
<path d="M401.60,216.40 L404.30,216.10 L402.80,213.70 Z" fill="#231f20"/>
<line x1="372.80" y1="252.70" x2="376.80" y2="250.40" stroke="#231f20" stroke-width="0.85"/>
<path d="M371.60,253.40 L374.30,253.10 L372.80,250.70 Z" fill="#231f20"/>
<line x1="432.30" y1="167.30" x2="436.30" y2="165.00" stroke="#231f20" stroke-width="0.85"/>
<path d="M431.10,168.00 L433.80,167.70 L432.30,165.30 Z" fill="#231f20"/>
<line x1="445.00" y1="186.90" x2="449.00" y2="184.60" stroke="#231f20" stroke-width="0.85"/>
<path d="M443.80,187.60 L446.50,187.30 L445.00,184.90 Z" fill="#231f20"/>
<line x1="491.60" y1="188.50" x2="495.60" y2="186.20" stroke="#231f20" stroke-width="0.85"/>
<path d="M490.40,189.20 L493.10,188.90 L491.60,186.50 Z" fill="#231f20"/>
<rect x="340.90" y="300.90" width="5.20" height="5.50" fill="#c1c4df"/>
<text x="350.10" y="305.80" font-size="6.0" fill="#231f20" textLength="24.70" lengthAdjust="spacingAndGlyphs" stroke="#231f20" stroke-width="0.12">Pro-HSC</text>
<rect x="381.30" y="300.90" width="5.20" height="5.50" fill="#7180b2"/>
<text x="390.50" y="305.80" font-size="6.0" fill="#231f20" textLength="28.10" lengthAdjust="spacingAndGlyphs" stroke="#231f20" stroke-width="0.12">Pre-HSC1</text>
<rect x="425.30" y="300.90" width="5.20" height="5.50" fill="#1b4a8a"/>
<text x="434.50" y="305.80" font-size="6.0" fill="#231f20" textLength="43.30" lengthAdjust="spacingAndGlyphs" stroke="#231f20" stroke-width="0.12">Pre-HSC2/HSC</text>
<text x="297.60" y="313.00" font-size="10.8" font-weight="bold" fill="#231f20" stroke="#231f20" stroke-width="0.3">E</text>
<text x="337.20" y="321.60" font-size="8.3" font-style="italic" fill="#231f20" textLength="22.30" lengthAdjust="spacingAndGlyphs" stroke="#231f20" stroke-width="0.12">Gata2</text>
<line x1="336.30" y1="326.40" x2="336.30" y2="403.25" stroke="#231f20" stroke-width="0.95"/>
<line x1="336.30" y1="402.80" x2="470.40" y2="402.80" stroke="#231f20" stroke-width="0.95"/>
<line x1="333.00" y1="402.80" x2="336.30" y2="402.80" stroke="#231f20" stroke-width="0.85"/>
<text x="325.75" y="405.10" font-size="6.3" fill="#231f20" textLength="3.85" lengthAdjust="spacingAndGlyphs" stroke="#231f20" stroke-width="0.12">0</text>
<line x1="333.00" y1="384.35" x2="336.30" y2="384.35" stroke="#231f20" stroke-width="0.85"/>
<text x="314.20" y="386.65" font-size="6.3" fill="#231f20" textLength="15.40" lengthAdjust="spacingAndGlyphs" stroke="#231f20" stroke-width="0.12">5000</text>
<line x1="333.00" y1="365.90" x2="336.30" y2="365.90" stroke="#231f20" stroke-width="0.85"/>
<text x="310.35" y="368.20" font-size="6.3" fill="#231f20" textLength="19.25" lengthAdjust="spacingAndGlyphs" stroke="#231f20" stroke-width="0.12">10000</text>
<line x1="333.00" y1="347.45" x2="336.30" y2="347.45" stroke="#231f20" stroke-width="0.85"/>
<text x="310.35" y="349.75" font-size="6.3" fill="#231f20" textLength="19.25" lengthAdjust="spacingAndGlyphs" stroke="#231f20" stroke-width="0.12">15000</text>
<line x1="333.00" y1="329.00" x2="336.30" y2="329.00" stroke="#231f20" stroke-width="0.85"/>
<text x="310.35" y="331.30" font-size="6.3" fill="#231f20" textLength="19.25" lengthAdjust="spacingAndGlyphs" stroke="#231f20" stroke-width="0.12">20000</text>
<rect x="341.90" y="395.42" width="10.40" height="7.38" fill="#c1c4df"/>
<line x1="347.10" y1="395.42" x2="347.10" y2="393.83" stroke="#3a3a3a" stroke-width="0.85"/>
<line x1="344.80" y1="393.83" x2="349.40" y2="393.83" stroke="#3a3a3a" stroke-width="0.95"/>
<line x1="347.10" y1="402.80" x2="347.10" y2="405.10" stroke="#231f20" stroke-width="0.85"/>
<rect x="360.90" y="399.55" width="10.40" height="3.25" fill="#c1c4df"/>
<line x1="366.10" y1="399.55" x2="366.10" y2="397.71" stroke="#3a3a3a" stroke-width="0.85"/>
<line x1="363.80" y1="397.71" x2="368.40" y2="397.71" stroke="#3a3a3a" stroke-width="0.95"/>
<line x1="366.10" y1="402.80" x2="366.10" y2="405.10" stroke="#231f20" stroke-width="0.85"/>
<rect x="388.10" y="392.65" width="10.40" height="10.15" fill="#7180b2"/>
<line x1="393.30" y1="392.65" x2="393.30" y2="390.33" stroke="#3a3a3a" stroke-width="0.85"/>
<line x1="391.00" y1="390.33" x2="395.60" y2="390.33" stroke="#3a3a3a" stroke-width="0.95"/>
<line x1="393.30" y1="402.80" x2="393.30" y2="405.10" stroke="#231f20" stroke-width="0.85"/>
<rect x="408.10" y="397.08" width="10.40" height="5.72" fill="#7180b2"/>
<line x1="413.30" y1="397.08" x2="413.30" y2="395.05" stroke="#3a3a3a" stroke-width="0.85"/>
<line x1="411.00" y1="395.05" x2="415.60" y2="395.05" stroke="#3a3a3a" stroke-width="0.95"/>
<line x1="413.30" y1="402.80" x2="413.30" y2="405.10" stroke="#231f20" stroke-width="0.85"/>
<rect x="434.80" y="356.31" width="10.40" height="46.49" fill="#1b4a8a"/>
<line x1="440.00" y1="356.31" x2="440.00" y2="344.50" stroke="#3a3a3a" stroke-width="0.85"/>
<line x1="437.70" y1="344.50" x2="442.30" y2="344.50" stroke="#3a3a3a" stroke-width="0.95"/>
<line x1="440.00" y1="402.80" x2="440.00" y2="405.10" stroke="#231f20" stroke-width="0.85"/>
<rect x="454.20" y="374.76" width="10.40" height="28.04" fill="#1b4a8a"/>
<line x1="459.40" y1="374.76" x2="459.40" y2="371.44" stroke="#3a3a3a" stroke-width="0.85"/>
<line x1="457.10" y1="371.44" x2="461.70" y2="371.44" stroke="#3a3a3a" stroke-width="0.95"/>
<line x1="459.40" y1="402.80" x2="459.40" y2="405.10" stroke="#231f20" stroke-width="0.85"/>
<text transform="translate(304.70,372.20) rotate(-90)" x="0" y="0" font-size="7.4" font-weight="bold" stroke="#231f20" stroke-width="0.22" fill="#231f20" textLength="15.60" lengthAdjust="spacingAndGlyphs">FPKM</text>
<text x="341.80" y="414.20" font-size="6.4" fill="#231f20" textLength="10.80" lengthAdjust="spacingAndGlyphs" stroke="#231f20" stroke-width="0.12">WT</text>
<text x="357.50" y="414.20" font-size="6.4" font-style="italic" fill="#231f20" textLength="23.20" lengthAdjust="spacingAndGlyphs" stroke="#231f20" stroke-width="0.12">Gata2<tspan font-size="3.6" dy="-2.6">+/−</tspan></text>
<text x="388.00" y="414.20" font-size="6.4" fill="#231f20" textLength="10.80" lengthAdjust="spacingAndGlyphs" stroke="#231f20" stroke-width="0.12">WT</text>
<text x="404.70" y="414.20" font-size="6.4" font-style="italic" fill="#231f20" textLength="23.20" lengthAdjust="spacingAndGlyphs" stroke="#231f20" stroke-width="0.12">Gata2<tspan font-size="3.6" dy="-2.6">+/−</tspan></text>
<text x="434.70" y="414.20" font-size="6.4" fill="#231f20" textLength="10.80" lengthAdjust="spacingAndGlyphs" stroke="#231f20" stroke-width="0.12">WT</text>
<text x="450.80" y="414.20" font-size="6.4" font-style="italic" fill="#231f20" textLength="23.20" lengthAdjust="spacingAndGlyphs" stroke="#231f20" stroke-width="0.12">Gata2<tspan font-size="3.6" dy="-2.6">+/−</tspan></text>
<text x="297.60" y="436.30" font-size="10.8" font-weight="bold" fill="#231f20" stroke="#231f20" stroke-width="0.3">F</text>
<text x="337.20" y="436.90" font-size="8.3" font-style="italic" fill="#231f20" textLength="21.10" lengthAdjust="spacingAndGlyphs" stroke="#231f20" stroke-width="0.12">Gfi1b</text>
<line x1="336.30" y1="442.80" x2="336.30" y2="518.15" stroke="#231f20" stroke-width="0.95"/>
<line x1="336.30" y1="517.70" x2="470.40" y2="517.70" stroke="#231f20" stroke-width="0.95"/>
<line x1="333.00" y1="517.70" x2="336.30" y2="517.70" stroke="#231f20" stroke-width="0.85"/>
<text x="325.75" y="520.00" font-size="6.3" fill="#231f20" textLength="3.85" lengthAdjust="spacingAndGlyphs" stroke="#231f20" stroke-width="0.12">0</text>
<line x1="333.00" y1="493.50" x2="336.30" y2="493.50" stroke="#231f20" stroke-width="0.85"/>
<text x="314.20" y="495.80" font-size="6.3" fill="#231f20" textLength="15.40" lengthAdjust="spacingAndGlyphs" stroke="#231f20" stroke-width="0.12">2000</text>
<line x1="333.00" y1="469.30" x2="336.30" y2="469.30" stroke="#231f20" stroke-width="0.85"/>
<text x="314.20" y="471.60" font-size="6.3" fill="#231f20" textLength="15.40" lengthAdjust="spacingAndGlyphs" stroke="#231f20" stroke-width="0.12">4000</text>
<line x1="333.00" y1="445.10" x2="336.30" y2="445.10" stroke="#231f20" stroke-width="0.85"/>
<text x="314.20" y="447.40" font-size="6.3" fill="#231f20" textLength="15.40" lengthAdjust="spacingAndGlyphs" stroke="#231f20" stroke-width="0.12">6000</text>
<rect x="341.90" y="491.08" width="10.40" height="26.62" fill="#c1c4df"/>
<line x1="347.10" y1="491.08" x2="347.10" y2="480.80" stroke="#3a3a3a" stroke-width="0.85"/>
<line x1="344.80" y1="480.80" x2="349.40" y2="480.80" stroke="#3a3a3a" stroke-width="0.95"/>
<line x1="347.10" y1="517.70" x2="347.10" y2="520.00" stroke="#231f20" stroke-width="0.85"/>
<rect x="360.90" y="513.47" width="10.40" height="4.24" fill="#c1c4df"/>
<line x1="366.10" y1="513.47" x2="366.10" y2="510.44" stroke="#3a3a3a" stroke-width="0.85"/>
<line x1="363.80" y1="510.44" x2="368.40" y2="510.44" stroke="#3a3a3a" stroke-width="0.95"/>
<line x1="366.10" y1="517.70" x2="366.10" y2="520.00" stroke="#231f20" stroke-width="0.85"/>
<rect x="388.10" y="464.22" width="10.40" height="53.48" fill="#7180b2"/>
<line x1="393.30" y1="464.22" x2="393.30" y2="449.94" stroke="#3a3a3a" stroke-width="0.85"/>
<line x1="391.00" y1="449.94" x2="395.60" y2="449.94" stroke="#3a3a3a" stroke-width="0.95"/>
<line x1="393.30" y1="517.70" x2="393.30" y2="520.00" stroke="#231f20" stroke-width="0.85"/>
<rect x="408.10" y="477.17" width="10.40" height="40.53" fill="#7180b2"/>
<line x1="413.30" y1="477.17" x2="413.30" y2="461.56" stroke="#3a3a3a" stroke-width="0.85"/>
<line x1="411.00" y1="461.56" x2="415.60" y2="461.56" stroke="#3a3a3a" stroke-width="0.95"/>
<line x1="413.30" y1="517.70" x2="413.30" y2="520.00" stroke="#231f20" stroke-width="0.85"/>
<rect x="434.80" y="482.37" width="10.40" height="35.33" fill="#1b4a8a"/>
<line x1="440.00" y1="482.37" x2="440.00" y2="478.62" stroke="#3a3a3a" stroke-width="0.85"/>
<line x1="437.70" y1="478.62" x2="442.30" y2="478.62" stroke="#3a3a3a" stroke-width="0.95"/>
<line x1="440.00" y1="517.70" x2="440.00" y2="520.00" stroke="#231f20" stroke-width="0.85"/>
<rect x="454.20" y="497.98" width="10.40" height="19.72" fill="#1b4a8a"/>
<line x1="459.40" y1="497.98" x2="459.40" y2="490.17" stroke="#3a3a3a" stroke-width="0.85"/>
<line x1="457.10" y1="490.17" x2="461.70" y2="490.17" stroke="#3a3a3a" stroke-width="0.95"/>
<line x1="459.40" y1="517.70" x2="459.40" y2="520.00" stroke="#231f20" stroke-width="0.85"/>
<text transform="translate(308.60,488.10) rotate(-90)" x="0" y="0" font-size="7.4" font-weight="bold" stroke="#231f20" stroke-width="0.22" fill="#231f20" textLength="16.20" lengthAdjust="spacingAndGlyphs">FPKM</text>
<text x="341.80" y="529.60" font-size="6.4" fill="#231f20" textLength="10.80" lengthAdjust="spacingAndGlyphs" stroke="#231f20" stroke-width="0.12">WT</text>
<text x="357.50" y="529.60" font-size="6.4" font-style="italic" fill="#231f20" textLength="23.20" lengthAdjust="spacingAndGlyphs" stroke="#231f20" stroke-width="0.12">Gata2<tspan font-size="3.6" dy="-2.6">+/−</tspan></text>
<text x="388.00" y="529.60" font-size="6.4" fill="#231f20" textLength="10.80" lengthAdjust="spacingAndGlyphs" stroke="#231f20" stroke-width="0.12">WT</text>
<text x="404.70" y="529.60" font-size="6.4" font-style="italic" fill="#231f20" textLength="23.20" lengthAdjust="spacingAndGlyphs" stroke="#231f20" stroke-width="0.12">Gata2<tspan font-size="3.6" dy="-2.6">+/−</tspan></text>
<text x="434.70" y="529.60" font-size="6.4" fill="#231f20" textLength="10.80" lengthAdjust="spacingAndGlyphs" stroke="#231f20" stroke-width="0.12">WT</text>
<text x="450.80" y="529.60" font-size="6.4" font-style="italic" fill="#231f20" textLength="23.20" lengthAdjust="spacingAndGlyphs" stroke="#231f20" stroke-width="0.12">Gata2<tspan font-size="3.6" dy="-2.6">+/−</tspan></text>
<text x="297.60" y="549.80" font-size="10.8" font-weight="bold" fill="#231f20" stroke="#231f20" stroke-width="0.3">G</text>
<text x="337.20" y="550.40" font-size="8.3" font-style="italic" fill="#231f20" textLength="26.30" lengthAdjust="spacingAndGlyphs" stroke="#231f20" stroke-width="0.12">Notch1</text>
<line x1="336.30" y1="555.80" x2="336.30" y2="631.15" stroke="#231f20" stroke-width="0.95"/>
<line x1="336.30" y1="630.70" x2="470.40" y2="630.70" stroke="#231f20" stroke-width="0.95"/>
<line x1="333.00" y1="630.70" x2="336.30" y2="630.70" stroke="#231f20" stroke-width="0.85"/>
<text x="325.75" y="633.00" font-size="6.3" fill="#231f20" textLength="3.85" lengthAdjust="spacingAndGlyphs" stroke="#231f20" stroke-width="0.12">0</text>
<line x1="333.00" y1="616.27" x2="336.30" y2="616.27" stroke="#231f20" stroke-width="0.85"/>
<text x="314.20" y="618.57" font-size="6.3" fill="#231f20" textLength="15.40" lengthAdjust="spacingAndGlyphs" stroke="#231f20" stroke-width="0.12">2000</text>
<line x1="333.00" y1="601.84" x2="336.30" y2="601.84" stroke="#231f20" stroke-width="0.85"/>
<text x="314.20" y="604.14" font-size="6.3" fill="#231f20" textLength="15.40" lengthAdjust="spacingAndGlyphs" stroke="#231f20" stroke-width="0.12">4000</text>
<line x1="333.00" y1="587.41" x2="336.30" y2="587.41" stroke="#231f20" stroke-width="0.85"/>
<text x="314.20" y="589.71" font-size="6.3" fill="#231f20" textLength="15.40" lengthAdjust="spacingAndGlyphs" stroke="#231f20" stroke-width="0.12">6000</text>
<line x1="333.00" y1="572.98" x2="336.30" y2="572.98" stroke="#231f20" stroke-width="0.85"/>
<text x="314.20" y="575.28" font-size="6.3" fill="#231f20" textLength="15.40" lengthAdjust="spacingAndGlyphs" stroke="#231f20" stroke-width="0.12">8000</text>
<line x1="333.00" y1="558.55" x2="336.30" y2="558.55" stroke="#231f20" stroke-width="0.85"/>
<text x="310.35" y="560.85" font-size="6.3" fill="#231f20" textLength="19.25" lengthAdjust="spacingAndGlyphs" stroke="#231f20" stroke-width="0.12">10000</text>
<rect x="341.90" y="607.97" width="10.40" height="22.73" fill="#c1c4df"/>
<line x1="347.10" y1="607.97" x2="347.10" y2="602.20" stroke="#3a3a3a" stroke-width="0.85"/>
<line x1="344.80" y1="602.20" x2="349.40" y2="602.20" stroke="#3a3a3a" stroke-width="0.95"/>
<line x1="347.10" y1="630.70" x2="347.10" y2="633.00" stroke="#231f20" stroke-width="0.85"/>
<rect x="360.90" y="580.92" width="10.40" height="49.78" fill="#c1c4df"/>
<line x1="366.10" y1="580.92" x2="366.10" y2="567.93" stroke="#3a3a3a" stroke-width="0.85"/>
<line x1="363.80" y1="567.93" x2="368.40" y2="567.93" stroke="#3a3a3a" stroke-width="0.95"/>
<line x1="366.10" y1="630.70" x2="366.10" y2="633.00" stroke="#231f20" stroke-width="0.85"/>
<rect x="388.10" y="617.35" width="10.40" height="13.35" fill="#7180b2"/>
<line x1="393.30" y1="617.35" x2="393.30" y2="612.66" stroke="#3a3a3a" stroke-width="0.85"/>
<line x1="391.00" y1="612.66" x2="395.60" y2="612.66" stroke="#3a3a3a" stroke-width="0.95"/>
<line x1="393.30" y1="630.70" x2="393.30" y2="633.00" stroke="#231f20" stroke-width="0.85"/>
<rect x="408.10" y="602.56" width="10.40" height="28.14" fill="#7180b2"/>
<line x1="413.30" y1="602.56" x2="413.30" y2="596.43" stroke="#3a3a3a" stroke-width="0.85"/>
<line x1="411.00" y1="596.43" x2="415.60" y2="596.43" stroke="#3a3a3a" stroke-width="0.95"/>
<line x1="413.30" y1="630.70" x2="413.30" y2="633.00" stroke="#231f20" stroke-width="0.85"/>
<rect x="434.80" y="623.49" width="10.40" height="7.22" fill="#1b4a8a"/>
<line x1="440.00" y1="623.49" x2="440.00" y2="621.83" stroke="#3a3a3a" stroke-width="0.85"/>
<line x1="437.70" y1="621.83" x2="442.30" y2="621.83" stroke="#3a3a3a" stroke-width="0.95"/>
<line x1="440.00" y1="630.70" x2="440.00" y2="633.00" stroke="#231f20" stroke-width="0.85"/>
<rect x="454.20" y="612.30" width="10.40" height="18.40" fill="#1b4a8a"/>
<line x1="459.40" y1="612.30" x2="459.40" y2="609.06" stroke="#3a3a3a" stroke-width="0.85"/>
<line x1="457.10" y1="609.06" x2="461.70" y2="609.06" stroke="#3a3a3a" stroke-width="0.95"/>
<line x1="459.40" y1="630.70" x2="459.40" y2="633.00" stroke="#231f20" stroke-width="0.85"/>
<text transform="translate(308.60,601.10) rotate(-90)" x="0" y="0" font-size="7.4" font-weight="bold" stroke="#231f20" stroke-width="0.22" fill="#231f20" textLength="16.20" lengthAdjust="spacingAndGlyphs">FPKM</text>
<text x="341.80" y="642.80" font-size="6.4" fill="#231f20" textLength="10.80" lengthAdjust="spacingAndGlyphs" stroke="#231f20" stroke-width="0.12">WT</text>
<text x="357.50" y="642.80" font-size="6.4" font-style="italic" fill="#231f20" textLength="23.20" lengthAdjust="spacingAndGlyphs" stroke="#231f20" stroke-width="0.12">Gata2<tspan font-size="3.6" dy="-2.6">+/−</tspan></text>
<text x="388.00" y="642.80" font-size="6.4" fill="#231f20" textLength="10.80" lengthAdjust="spacingAndGlyphs" stroke="#231f20" stroke-width="0.12">WT</text>
<text x="404.70" y="642.80" font-size="6.4" font-style="italic" fill="#231f20" textLength="23.20" lengthAdjust="spacingAndGlyphs" stroke="#231f20" stroke-width="0.12">Gata2<tspan font-size="3.6" dy="-2.6">+/−</tspan></text>
<text x="434.70" y="642.80" font-size="6.4" fill="#231f20" textLength="10.80" lengthAdjust="spacingAndGlyphs" stroke="#231f20" stroke-width="0.12">WT</text>
<text x="450.80" y="642.80" font-size="6.4" font-style="italic" fill="#231f20" textLength="23.20" lengthAdjust="spacingAndGlyphs" stroke="#231f20" stroke-width="0.12">Gata2<tspan font-size="3.6" dy="-2.6">+/−</tspan></text></svg>
</body></html>
